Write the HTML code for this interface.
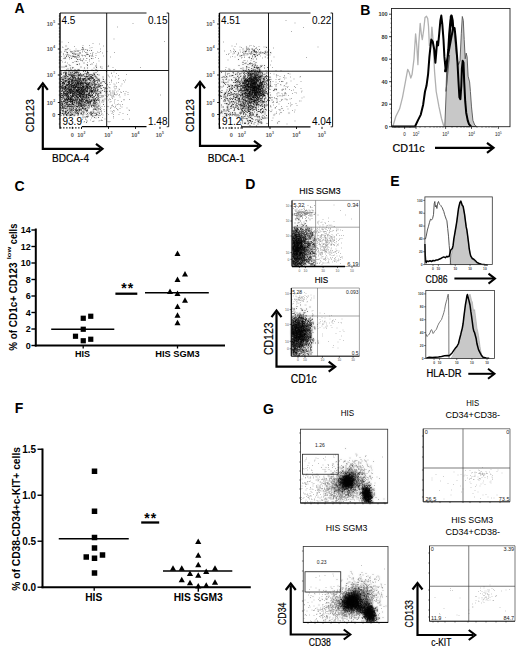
<!DOCTYPE html>
<html><head><meta charset="utf-8"><style>
html,body{margin:0;padding:0;background:#fff;}
svg{display:block;font-family:"Liberation Sans", sans-serif;}
</style></head><body>
<svg width="520" height="650" viewBox="0 0 520 650">
<defs><filter id="f12_42" x="-10%" y="-10%" width="120%" height="120%"><feGaussianBlur in="SourceGraphic" stdDeviation="1.2" result="b"/><feComponentTransfer in="b" result="c"><feFuncA type="linear" slope="0.42"/></feComponentTransfer><feMerge><feMergeNode in="c"/><feMergeNode in="SourceGraphic"/></feMerge></filter><filter id="f12_49" x="-10%" y="-10%" width="120%" height="120%"><feGaussianBlur in="SourceGraphic" stdDeviation="1.2" result="b"/><feComponentTransfer in="b" result="c"><feFuncA type="linear" slope="0.49"/></feComponentTransfer><feMerge><feMergeNode in="c"/><feMergeNode in="SourceGraphic"/></feMerge></filter><filter id="f12_70" x="-10%" y="-10%" width="120%" height="120%"><feGaussianBlur in="SourceGraphic" stdDeviation="1.2" result="b"/><feComponentTransfer in="b" result="c"><feFuncA type="linear" slope="0.7"/></feComponentTransfer><feMerge><feMergeNode in="c"/><feMergeNode in="SourceGraphic"/></feMerge></filter></defs>
<rect width="520" height="650" fill="#fff"/>
<text x="14.5" y="12.6" font-size="14" font-weight="bold">A</text>
<text x="360.3" y="15.4" font-size="14" font-weight="bold">B</text>
<text x="14.5" y="190.5" font-size="14" font-weight="bold">C</text>
<text x="245.3" y="189" font-size="14" font-weight="bold">D</text>
<text x="390.2" y="185.7" font-size="14" font-weight="bold">E</text>
<text x="14.8" y="413" font-size="14" font-weight="bold">F</text>
<text x="263" y="413.5" font-size="14" font-weight="bold">G</text>
<path d="M133 23.5h0m-15.5 3.5h0m-3.5 12h0m50.5 2.5h0m-102.5 .5h0m6.5 .5h0m24.5 1h0m-10 2h0m6.5 0h0m10-1.5h0m-37 3h0m.5 .5h0m11.5-1h0m17.5 1h0m11.5-1.5h0m-35 2.5h0m7.5 .5h0m5.5 .5h0m1-.5h0m1-1h0m0 1h0m2 .5h0m1.5 0h0m3-1.5h0m10.5 1h0m-36 2.5h0m.5-1.5h0m1 0h0m0 1.5h0m4-1.5h0m.5 1.5h0m1.5 0h0m2-.5h0m.5 0h0m1 0h0m0 .5h0m1-.5h0m1 0h0m1 0h0m1.5-.5h0m2.5 .5h0m1.5-1h0m.5 1.5h0m5-1h0m11 1h0m6.5 0h0m-40.5 1h0m1 .5h0m6.5 .5h0m5.5-1h0m1 0h0m2-.5h0m3 .5h0m.5 0h0m1 0h0m3.5 1h0m2.5-1h0m3 1h0m1.5-1.5h0m1.5 .5h0m3.5 .5h0m12-.5h0m-48.5 2h0m.5 1h0m1-1h0m1.5 .5h0m1 .5h0m3 0h0m1-1h0m0-.5h0m1.5 .5h0m1-.5h0m1 1.5h0m0-1.5h0m.5 1h0m.5-1h0m1 1h0m2.5 .5h0m0-.5h0m1 .5h0m1.5 0h0m2-1h0m2 0h0m1 1h0m.5 0h0m2.5 0h0m3.5 0h0m-34.5 1h0m2.5-.5h0m4.5 .5h0m2-.5h0m1.5 0h0m0 1h0m1.5-.5h0m2 0h0m0 .5h0m2.5 0h0m1 .5h0m.5-1h0m3-.5h0m9 0h0m.5 0h0m1 .5h0m2.5 1h0m8-1.5h0m7 1h0m-41 2h0m7-.5h0m1.5 1h0m1.5 0h0m7-1h0m.5 0h0m2.5 1h0m3.5-1h0m5.5 0h0m-23.5 3h0m3 0h0m2.5-1h0m2 .5h0m3.5-.5h0m3.5 .5h0m9.5 0h0m-36.5 1h0m2.5 .5h0m.5-.5h0m2 1h0m20-.5h0m6 0h0m-24.5 2h0m18 0h0m.5 0h0m3 0h0m6-.5h0m-31 2h0m30.5 0h0m6 1h0m6-.5h0m5 1h0m27.5 0h0m-46.5 .5h0m8 .5h0m13.5 1h0m-4 3.5h0m0 .5h0m2.5-1.5h0m2.5 1.5h0m-8.5 1.5h0m10.5 .5h0m8-1h0m-30 2.5h0m12-1h0m1 1h0m3-1h0m3 1h0m-12.5 2h0m15.5 0h0m.5-.5h0m-15.5 3h0m2.5-1.5h0m5.5 0h0m0 .5h0m12 0h0m2-.5h0m-25.5 3.5h0m2-1.5h0m3 0h0m4.5 .5h0m2-.5h0m5 1h0m2-.5h0m6-.5h0m-17 2.5h0m0 .5h0m2.5-.5h0m4-.5h0m1 1h0m7-1h0m-21 2h0m4 1.5h0m3.5-.5h0m1 .5h0m4.5-.5h0m1-.5h0m1.5 0h0m4.5-.5h0m-16.5 3h0m1-1h0m0 .5h0m4.5-.5h0m5 .5h0m1.5-.5h0m2.5 1h0m.5 .5h0m-10 2h0m3-.5h0m1.5 0h0m1-1h0m3 1h0m5.5 .5h0m2.5 0h0m-20.5 1.5h0m5 0h0m.5 0h0m1.5 0h0m1.5-1h0m0 1h0m.5 0h0m2-1h0m4 0h0m1 .5h0m3.5 1h0m3-1h0m-28 3h0m2 0h0m3-.5h0m1 .5h0m1-1.5h0m3 .5h0m1 .5h0m0 .5h0m2-.5h0m1-1h0m.5 0h0m0 .5h0m1.5 .5h0m0-.5h0m1.5-.5h0m1.5 1.5h0m.5-1h0m5.5 .5h0m3-.5h0m32.5 .5h0m-48.5 1.5h0m0 1h0m1-1.5h0m.5 0h0m.5 1h0m6 0h0m-10.5 2h0m1 .5h0m2-1h0m2.5 1h0m9 0h0m5.5 0h0m-65.5 1.5h0m0 .5h0m0-1h0m.5 1h0m.5-1.5h0m1 .5h0m2 1h0m0-1h0m2-.5h0m2.5 1.5h0m0-.5h0m.5 0h0m.5-.5h0m1.5 0h0m5 .5h0m1 .5h0m1-.5h0m4.5-.5h0m.5-.5h0m6.5 1h0m3-.5h0m6 0h0m1.5 .5h0m4.5-1h0m2.5 1.5h0m3.5-.5h0m3.5-.5h0m3.5 1h0m2.5-1.5h0m-62 2h0m2 0h0m4 0h0m4.5 1h0m2 .5h0m.5-1.5h0m2 0h0m0 1h0m.5 .5h0m3-.5h0m1 0h0m6-.5h0m.5 .5h0m8.5-.5h0m7-.5h0m6.5 0h0m4.5 1h0m-52.5 2.5h0m3.5-.5h0m2.5-.5h0m1.5 0h0m3 .5h0m.5-.5h0m2.5 1h0m3-1.5h0m1.5 .5h0m5.5-.5h0m.5 .5h0m0 1h0m4-1h0m.5 0h0m.5 1h0m2 0h0m.5 0h0m.5-1.5h0m.5 0h0m1 .5h0m.5 1h0m.5-1h0m.5 .5h0m2 .5h0m1-1.5h0m12 1.5h0m.5-.5h0m3.5 0h0m1.5-.5h0m1-.5h0m1.5 .5h0m2.5 0h0m-60.5 2h0m1 0h0m.5 1h0m1-.5h0m.5 .5h0m2.5 0h0m1.5-.5h0m8.5 .5h0m.5 0h0m.5-1.5h0m1.5 .5h0m.5 0h0m.5 .5h0m.5-1h0m1.5 1.5h0m.5-1.5h0m8.5 1.5h0m2-1h0m.5 .5h0m2.5 0h0m2-.5h0m1-.5h0m.5 1.5h0m1.5-1h0m2.5 0h0m6.5 1h0m1-1.5h0m1.5 .5h0m1.5 1h0m.5-1h0m5-.5h0m1.5 1h0m-56.5 2h0m6 .5h0m.5-1h0m4.5 1h0m1 0h0m3 0h0m1 0h0m12.5-.5h0m1.5 0h0m2.5-1h0m1 1.5h0m2-1h0m3 1h0m6.5-1h0m6 0h0m1 1h0m2.5-1h0m7-.5h0m-64 2.5h0m.5 .5h0m3.5 0h0m2.5 .5h0m1 0h0m1.5-1.5h0m4 1h0m2.5 0h0m.5 .5h0m6.5-1.5h0m7.5 0h0m.5 1h0m6.5 .5h0m1-.5h0m.5 0h0m3 .5h0m2-1.5h0m4.5 1h0m1.5 .5h0m1-1h0m1 .5h0m3.5-1h0m11 0h0m.5 .5h0m-63.5 1.5h0m.5 0h0m6 1h0m8 .5h0m.5-1h0m.5 1h0m0-.5h0m5-1h0m2.5 .5h0m.5 1h0m2-.5h0m1.5 .5h0m.5-1h0m.5 .5h0m0-1h0m2.5 1.5h0m3 0h0m2-1.5h0m.5 1.5h0m5 0h0m5 0h0m1-1h0m7 0h0m3 1h0m-61.5 2h0m2 0h0m3 0h0m0-1h0m1.5 1h0m4.5-1.5h0m2 1.5h0m4-1h0m2-.5h0m3 0h0m1.5 0h0m1.5 .5h0m10.5 .5h0m1.5 .5h0m.5-1.5h0m2.5 .5h0m1.5 .5h0m5.5-.5h0m5 0h0m5.5 0h0m8.5 0h0m-60.5 1.5h0m.5 0h0m13.5 1.5h0m4-1h0m0 1h0m1 0h0m1.5 0h0m1-1h0m14 1h0m11-1h0m-52.5 3h0m0-1h0m1.5 .5h0m4-1h0m0 1h0m1 .5h0m8 0h0m1.5-1h0m5.5 1h0m.5-1.5h0m2.5 1h0m.5 .5h0m5.5-1.5h0m4.5 0h0m9 1h0m8.5-1h0m9.5 1.5h0m6.5-.5h0m-67 1h0m1 1.5h0m2-.5h0m1-.5h0m3.5 1h0m4-.5h0m.5 0h0m10 .5h0m2-.5h0m1 0h0m3-1h0m2 1.5h0m1 0h0m.5-.5h0m5 0h0m1-.5h0m1.5 0h0m0-.5h0m1 .5h0m5.5 1h0m2 0h0m-36.5 .5h0m8 0h0m2.5 0h0m25 0h0" stroke="#777" stroke-width="0.6" stroke-linecap="square" fill="none"/>
<path d="M66 46h0m16.5 1.5h0m-16.5 2h0m1.5-.5h0m15.5 .5h0m-5 1.5h0m9.5-.5h0m4 0h0m-30.5 1.5h0m6.5 .5h0m3.5-.5h0m1 0h0m.5 1.5h0m1.5-.5h0m6 .5h0m-16.5 .5h0m4.5 1h0m7.5-1h0m3 1.5h0m8.5-1.5h0m.5 .5h0m5-.5h0m-26 2.5h0m3 1h0m3.5-1h0m1 0h0m.5 .5h0m1.5 0h0m1 0h0m8.5-1h0m4 .5h0m-25.5 2h0m1-.5h0m.5 0h0m6 .5h0m6 1h0m3-.5h0m3 0h0m8-.5h0m-30.5 2h0m15.5 1h0m5.5-1h0m-9 2h0m11 .5h0m-14 2.5h0m7-1h0m.5 0h0m2-.5h0m8 1.5h0m4.5-1.5h0m-30 3h0m2 0h0m2-.5h0m.5-.5h0m6.5 1.5h0m8-.5h0m15-1h0m.5 1.5h0m4-.5h0m8-1h0m-40.5 3h0m2.5-1h0m.5 1.5h0m1.5-1.5h0m2.5 1.5h0m3 0h0m1 0h0m5.5-1.5h0m3 0h0m8.5 1.5h0m-29.5 .5h0m2 1h0m1 0h0m1.5 0h0m2 .5h0m2-.5h0m1 0h0m3-.5h0m4.5 1h0m.5-1h0m.5 0h0m1 1h0m2-.5h0m4.5-1h0m1.5 .5h0m3 0h0m1 .5h0m9 .5h0m-45.5 2h0m.5-1.5h0m2 1h0m.5-.5h0m1-.5h0m.5 1h0m0 .5h0m.5-.5h0m0-1h0m0 1h0m.5 0h0m2 0h0m1.5 0h0m.5 0h0m.5-.5h0m1.5 0h0m1.5 1h0m.5 0h0m0-1.5h0m.5 1h0m.5-.5h0m.5 0h0m0 .5h0m.5-1h0m0 1h0m.5-1h0m.5 0h0m.5 1h0m0-.5h0m1-.5h0m1.5 1.5h0m4.5 0h0m1.5 0h0m1-1.5h0m0 .5h0m.5 0h0m0 .5h0m.5 0h0m5.5 0h0m2-.5h0m-35 1.5h0m.5 .5h0m2.5 1h0m1.5-1h0m0 .5h0m.5-1h0m.5 1.5h0m0-.5h0m2-.5h0m.5 .5h0m.5 0h0m.5-.5h0m0 .5h0m.5 0h0m1 .5h0m0-1.5h0m.5 .5h0m1 1h0m0-1.5h0m0 .5h0m.5 1h0m1-.5h0m.5 .5h0m1-.5h0m1.5 0h0m1 .5h0m0-.5h0m0-1h0m.5 1h0m.5-.5h0m0 1h0m.5 0h0m.5-1h0m.5 1h0m.5-.5h0m.5 0h0m1 0h0m.5-.5h0m.5 .5h0m2.5-.5h0m1-.5h0m1 1h0m1 0h0m.5-.5h0m1 0h0m1 0h0m.5 1h0m.5 0h0m.5-1.5h0m1 0h0m0 .5h0m0 .5h0m3-.5h0m1.5 .5h0m-37.5 2.5h0m1.5-1h0m0 1h0m1.5-.5h0m.5-.5h0m0 .5h0m.5-1h0m.5 .5h0m0 1h0m1.5-1h0m.5 .5h0m0-.5h0m2.5 1h0m.5-1.5h0m.5 0h0m.5 0h0m0 .5h0m.5 0h0m0-.5h0m0 1.5h0m.5-1.5h0m0 1.5h0m.5-.5h0m.5 .5h0m0-.5h0m.5-1h0m.5 0h0m0 1.5h0m1.5-1.5h0m1 1h0m1 .5h0m0-.5h0m.5-1h0m1.5 1.5h0m.5-1h0m1-.5h0m1 0h0m1.5 .5h0m1 .5h0m.5-.5h0m.5-.5h0m0 .5h0m.5 .5h0m.5-.5h0m.5 0h0m1-.5h0m1 1h0m.5-.5h0m.5 1h0m0-1.5h0m.5 1h0m0-.5h0m.5 1h0m1 0h0m2-1h0m.5-.5h0m.5 1h0m7 0h0m-42 1h0m0 1h0m1 .5h0m.5-.5h0m.5 .5h0m.5 0h0m.5-1h0m1 .5h0m.5-.5h0m.5 0h0m2 0h0m0 1h0m.5 0h0m.5-1h0m0 1h0m.5-1h0m0 .5h0m.5-1h0m.5 1h0m0 .5h0m1 0h0m.5-.5h0m0-1h0m.5 1.5h0m.5-1h0m.5 0h0m1-.5h0m.5 1.5h0m.5-1.5h0m0 1h0m0-1h0m.5 1h0m.5 0h0m1-.5h0m.5 1h0m.5-1h0m.5 .5h0m0 .5h0m0-1h0m0 .5h0m.5 0h0m.5 .5h0m.5-1h0m0 .5h0m.5-.5h0m1.5 .5h0m.5 .5h0m0-1h0m0 .5h0m.5 .5h0m0-.5h0m.5 0h0m.5 0h0m0-.5h0m.5 .5h0m0-.5h0m.5 .5h0m.5-1h0m1 1.5h0m1-1h0m0 .5h0m0-1h0m.5 1.5h0m0-.5h0m0-.5h0m1 1h0m0-1.5h0m0 .5h0m.5-.5h0m.5 .5h0m1 .5h0m.5-1h0m0 .5h0m.5-.5h0m.5 .5h0m0-.5h0m.5 1h0m.5 .5h0m.5 0h0m1.5-1.5h0m1 0h0m.5 1h0m1 .5h0m.5-.5h0m4.5 .5h0m-43 .5h0m.5 1.5h0m.5 0h0m1-1.5h0m1 1h0m.5 0h0m1-.5h0m.5 1h0m0-.5h0m.5 0h0m0-.5h0m0 1h0m0-1h0m1-.5h0m0 .5h0m1.5 1h0m.5-1h0m0 1h0m.5 0h0m0-.5h0m1.5 0h0m.5-.5h0m0 1h0m.5-1h0m0 .5h0m0 .5h0m.5-1h0m0-.5h0m.5 1h0m0-1h0m.5 1h0m0-1h0m1 1.5h0m0-1h0m.5 0h0m.5 .5h0m0-.5h0m.5-.5h0m.5 .5h0m0 .5h0m.5 0h0m.5 0h0m0-1h0m0 1h0m.5 .5h0m.5-1h0m.5 1h0m.5 0h0m.5-1h0m0 .5h0m0-1h0m0 1h0m.5-1h0m1 1.5h0m.5-1.5h0m0 1h0m0-.5h0m1.5-.5h0m0 .5h0m.5 0h0m1 1h0m.5-1h0m.5-.5h0m0 1h0m0-.5h0m1 0h0m2.5-.5h0m.5 0h0m.5 .5h0m1.5 .5h0m1 .5h0m.5-1h0m.5 0h0m.5 1h0m0-1.5h0m.5 1h0m.5 0h0m1-.5h0m1 .5h0m.5-.5h0m1 .5h0m.5 0h0m0-1h0m3.5 1.5h0m-42 2h0m1.5 0h0m0-1h0m.5-.5h0m0 .5h0m0 .5h0m0-.5h0m.5 .5h0m0-.5h0m1 1h0m0-1.5h0m0 1.5h0m.5-1h0m2-.5h0m1 .5h0m0-.5h0m.5 0h0m0 1h0m0-.5h0m.5-.5h0m0 1.5h0m.5-.5h0m0 .5h0m0-.5h0m0-1h0m.5 0h0m1 0h0m.5 1.5h0m0-1h0m1-.5h0m0 1.5h0m0-.5h0m.5 .5h0m0-.5h0m0-1h0m.5 .5h0m.5 .5h0m.5 0h0m1 .5h0m0-1h0m.5 1h0m0-1h0m0-.5h0m1 0h0m.5 .5h0m0 1h0m0-.5h0m.5-.5h0m0 1h0m0-1h0m0 1h0m.5 0h0m0-1.5h0m0 1h0m.5-.5h0m.5 .5h0m.5 .5h0m.5-.5h0m0-.5h0m0 .5h0m.5 .5h0m0-1.5h0m.5 1h0m0 .5h0m0-.5h0m.5-.5h0m0 .5h0m0-1h0m.5 1h0m0 .5h0m.5-.5h0m.5 .5h0m0-1.5h0m.5 .5h0m1 0h0m0 1h0m0-1h0m.5 1h0m0-1.5h0m.5 1.5h0m0-.5h0m.5 .5h0m.5-.5h0m0-1h0m1 .5h0m.5 1h0m.5 0h0m.5-1h0m0 .5h0m.5 0h0m.5-1h0m1 1h0m.5 .5h0m1-1h0m1 .5h0m0-.5h0m.5-.5h0m.5 1.5h0m2.5-1h0m3.5 1h0m0-1h0m3.5-.5h0m1 1.5h0m-45 1h0m.5 .5h0m1.5-1h0m0 1.5h0m.5 0h0m0-.5h0m.5-1h0m.5 0h0m.5 0h0m1.5 .5h0m0 1h0m.5-.5h0m0-1h0m.5 1.5h0m0-.5h0m.5-.5h0m0 1h0m.5-1h0m.5-.5h0m0 1h0m0-.5h0m.5-.5h0m0 .5h0m.5 1h0m.5-1h0m0 1h0m.5-.5h0m0-.5h0m.5 .5h0m.5-.5h0m0 1h0m0-1.5h0m.5 0h0m.5 1h0m0 .5h0m.5 0h0m.5-.5h0m0 .5h0m.5-.5h0m.5 0h0m0-.5h0m0 .5h0m.5-.5h0m0 1h0m.5-.5h0m.5 0h0m.5 0h0m0-1h0m0 .5h0m.5 1h0m0-1.5h0m0 1h0m0 .5h0m0-1.5h0m0 1h0m.5-1h0m1 .5h0m0 .5h0m0-1h0m.5 1.5h0m0-1.5h0m0 1.5h0m1-1h0m0-.5h0m.5 0h0m0 .5h0m0 1h0m.5-1.5h0m0 1h0m.5 .5h0m.5-.5h0m0-1h0m1 0h0m0 .5h0m0 1h0m.5-.5h0m.5-1h0m2 1.5h0m0-.5h0m.5-.5h0m.5-.5h0m0 .5h0m0 1h0m.5-1h0m0-.5h0m.5 .5h0m.5-.5h0m0 .5h0m0 1h0m.5-.5h0m0-.5h0m1-.5h0m1 1h0m1 .5h0m0-1h0m.5 .5h0m.5-.5h0m1-.5h0m.5 0h0m0 1h0m.5 .5h0m.5-.5h0m0-.5h0m1 0h0m.5-.5h0m1 1h0m.5-1h0m.5 1h0m.5 0h0m1 .5h0m.5 0h0m1.5 0h0m-42 1h0m.5 0h0m.5 1h0m.5-.5h0m0-1h0m0 .5h0m.5 1h0m.5-.5h0m.5 0h0m.5 .5h0m.5-1h0m.5 .5h0m.5-.5h0m0 1h0m0-.5h0m0 .5h0m0-.5h0m0-.5h0m.5-.5h0m0 1h0m.5 .5h0m.5-1.5h0m1 1.5h0m0-1.5h0m.5 .5h0m.5 1h0m.5 0h0m0-1h0m.5 0h0m.5 .5h0m.5 0h0m.5-.5h0m0 .5h0m0-1h0m.5 0h0m0 .5h0m.5 1h0m.5-1.5h0m0 1.5h0m0-1.5h0m.5 .5h0m0 1h0m0-.5h0m.5 .5h0m0-1.5h0m.5 1.5h0m0-1.5h0m0 1.5h0m.5-1.5h0m.5 1h0m0 .5h0m0-.5h0m0-.5h0m.5 0h0m0 .5h0m0 .5h0m.5-1h0m0 .5h0m.5 0h0m0-.5h0m.5 .5h0m0 .5h0m.5 0h0m.5 0h0m0-.5h0m0 .5h0m0-.5h0m.5 0h0m.5 0h0m0 .5h0m.5-.5h0m.5-.5h0m0 1h0m.5 0h0m.5 0h0m.5-.5h0m.5-.5h0m0 .5h0m0-.5h0m0 .5h0m.5-1h0m0 1h0m.5-.5h0m0 1h0m0-1h0m0 .5h0m.5 0h0m.5-1h0m.5 1.5h0m0-1h0m1-.5h0m0 1.5h0m0-1.5h0m.5 .5h0m0 1h0m0-1h0m.5 .5h0m.5 0h0m0-1h0m0 .5h0m0 1h0m.5-.5h0m0-1h0m0 1h0m1 .5h0m.5-.5h0m0-.5h0m.5-.5h0m0 .5h0m0-.5h0m.5 .5h0m0 1h0m.5-.5h0m.5 .5h0m1.5 0h0m.5 0h0m.5-1h0m.5-.5h0m0 1.5h0m1.5-1h0m.5 1h0m1-.5h0m.5 .5h0m0-1h0m.5-.5h0m.5 1h0m.5-.5h0m.5 0h0m3.5 1h0m-42.5 1h0m0 .5h0m0-1h0m1.5 .5h0m.5 .5h0m0-.5h0m0-.5h0m1 0h0m0 1h0m.5 .5h0m0-1h0m1-.5h0m0 .5h0m0 .5h0m0-1h0m1 1h0m0 .5h0m.5-1h0m.5 0h0m0 1h0m.5-1.5h0m.5 0h0m0 .5h0m0 1h0m.5 0h0m.5-.5h0m0 .5h0m.5-1h0m0 1h0m.5 0h0m.5-1h0m0-.5h0m0 1.5h0m0-.5h0m.5 .5h0m0-1.5h0m.5 0h0m0 1.5h0m1-.5h0m.5 0h0m0 .5h0m0-1.5h0m.5 1h0m.5 .5h0m0-1h0m.5 1h0m0-1h0m.5-.5h0m0 1h0m1 .5h0m1-1.5h0m0 1h0m.5 .5h0m0-1h0m.5 .5h0m.5-1h0m0 1.5h0m0-1h0m0 1h0m.5 0h0m0-.5h0m.5 0h0m.5-.5h0m.5-.5h0m0 1.5h0m.5 0h0m0-1.5h0m0 1.5h0m.5-1h0m0-.5h0m0 .5h0m0 .5h0m0 .5h0m.5-.5h0m.5-1h0m0 1h0m.5-1h0m0 1.5h0m.5-1.5h0m0 1.5h0m.5 0h0m.5-.5h0m0-.5h0m0 .5h0m.5-.5h0m0 .5h0m.5 0h0m0-1h0m1 0h0m0 .5h0m.5 .5h0m0-1h0m0 1.5h0m.5-1h0m.5-.5h0m.5 .5h0m.5 0h0m1 .5h0m.5 .5h0m.5-1h0m0-.5h0m0 1h0m.5-.5h0m1.5 .5h0m0 .5h0m.5-1.5h0m.5 0h0m.5 1.5h0m.5-1.5h0m0 1h0m.5-.5h0m1.5 .5h0m.5 .5h0m2.5-1.5h0m1 .5h0m3.5-.5h0m2 .5h0m-45.5 3h0m.5-.5h0m0-.5h0m.5-.5h0m0 1h0m.5-1h0m1 1.5h0m.5-1.5h0m.5 1.5h0m.5-.5h0m0-1h0m.5 .5h0m0 .5h0m0-.5h0m1 1h0m.5-.5h0m0 .5h0m.5 0h0m.5-1h0m.5 .5h0m.5-.5h0m0-.5h0m0 1h0m.5 0h0m0-1h0m0 1.5h0m0-.5h0m.5 0h0m0-1h0m.5 0h0m0 1h0m.5 .5h0m0-1h0m0-.5h0m.5 1.5h0m.5-1h0m.5 1h0m0-1h0m0 1h0m0-1h0m0 1h0m.5 0h0m.5 0h0m0-.5h0m.5 0h0m.5-.5h0m.5 .5h0m.5 .5h0m0-.5h0m.5-1h0m0 .5h0m0-.5h0m0 .5h0m0 1h0m0-1h0m.5 0h0m0 .5h0m0-1h0m0 .5h0m.5 .5h0m0-.5h0m0 .5h0m0 .5h0m.5-.5h0m0 .5h0m0-1.5h0m.5 0h0m0 1h0m0-1h0m0 .5h0m1 1h0m0-.5h0m.5 .5h0m0-1.5h0m0 1h0m.5-.5h0m.5 .5h0m0-.5h0m.5 .5h0m0 .5h0m0-1.5h0m.5 0h0m0 .5h0m.5 .5h0m0 .5h0m0-.5h0m.5 .5h0m0-1h0m.5 1h0m0-.5h0m0-.5h0m.5 0h0m0-.5h0m.5 1h0m.5-1h0m0 1.5h0m.5-1.5h0m0 1h0m.5-.5h0m.5 .5h0m0 .5h0m.5-1h0m0 1h0m0-1.5h0m0 1.5h0m.5-.5h0m0 .5h0m.5-1.5h0m1.5 0h0m.5 0h0m0 1.5h0m0-1h0m.5 .5h0m.5 0h0m0 .5h0m.5-.5h0m0 .5h0m0-1h0m.5 0h0m0 .5h0m0 .5h0m.5-1h0m0 .5h0m0 .5h0m1-.5h0m.5-.5h0m1 .5h0m0-1h0m0 1h0m0 .5h0m.5-1h0m1.5 1h0m0-1h0m.5 0h0m.5-.5h0m1 1.5h0m2-.5h0m1.5-.5h0m2 1h0m.5-1.5h0m1 1.5h0m1 0h0m3-.5h0m-49 2.5h0m.5 0h0m.5 0h0m1.5-1.5h0m0 1.5h0m0-1h0m.5-.5h0m0 1h0m0-1h0m.5 1.5h0m.5 0h0m0-1.5h0m.5 1.5h0m1-1.5h0m0 1h0m0 .5h0m.5-.5h0m.5 .5h0m0-1.5h0m.5 1h0m0-1h0m0 1.5h0m.5-1h0m.5 .5h0m0-.5h0m.5-.5h0m.5 .5h0m.5 1h0m0-1.5h0m0 1h0m0-1h0m0 1.5h0m0-1h0m.5 1h0m.5-1h0m.5 .5h0m0-.5h0m.5-.5h0m0 1.5h0m.5-1h0m0 1h0m.5 0h0m.5-1.5h0m0 1.5h0m0-.5h0m.5 0h0m0-.5h0m.5 .5h0m.5 0h0m0-1h0m0 1h0m1 0h0m0 .5h0m.5-.5h0m0-.5h0m.5-.5h0m.5 .5h0m0-.5h0m.5 1h0m0-1h0m.5 .5h0m0 .5h0m.5-.5h0m0 1h0m0-.5h0m.5 0h0m0 .5h0m0-1.5h0m0 1h0m.5-1h0m0 1.5h0m.5 0h0m0-1.5h0m0 .5h0m0 .5h0m.5 .5h0m0-.5h0m0 .5h0m.5-.5h0m.5-1h0m0 .5h0m.5 .5h0m0-.5h0m.5 1h0m.5-1.5h0m0 .5h0m.5-.5h0m0 1.5h0m0-.5h0m.5 0h0m0-.5h0m1.5-.5h0m1 0h0m1 1.5h0m.5-1.5h0m0 1.5h0m0-.5h0m.5 0h0m0-1h0m0 1.5h0m.5-1h0m1.5-.5h0m0 1h0m.5-.5h0m.5-.5h0m1 1h0m0 .5h0m.5-1.5h0m.5 0h0m1 1h0m.5 0h0m.5 .5h0m.5-1.5h0m1.5 1.5h0m1.5 0h0m0-1.5h0m.5 .5h0m.5 .5h0m5.5-1h0m-45.5 2.5h0m.5 1h0m1 0h0m0-.5h0m.5 .5h0m.5-1h0m.5-.5h0m0 1.5h0m.5-.5h0m.5 .5h0m0-1.5h0m.5 0h0m0 .5h0m.5 1h0m.5-1h0m0 .5h0m0 .5h0m.5-1.5h0m.5 .5h0m0 .5h0m.5 .5h0m0-1h0m0-.5h0m.5 1.5h0m1-1.5h0m.5 0h0m.5 1.5h0m.5 0h0m1.5 0h0m0-1h0m0 1h0m.5-.5h0m0-1h0m0 .5h0m0-.5h0m1 1h0m0 .5h0m.5-1.5h0m0 1h0m.5-.5h0m.5 .5h0m0 .5h0m1-1h0m0 1h0m.5-.5h0m.5-1h0m0 .5h0m.5 0h0m0 .5h0m.5-.5h0m0 .5h0m.5 0h0m0-1h0m.5 0h0m0 1.5h0m.5-1.5h0m0 1.5h0m0-1.5h0m0 1h0m.5-.5h0m0 1h0m.5-.5h0m.5-1h0m0 1h0m.5-.5h0m0-.5h0m.5 .5h0m0 1h0m0-1h0m.5-.5h0m0 .5h0m.5 .5h0m0-.5h0m.5 0h0m0 1h0m.5-1.5h0m.5 .5h0m0 .5h0m1 .5h0m0-1h0m.5-.5h0m0 1.5h0m0-1h0m.5 .5h0m.5-.5h0m.5-.5h0m.5 .5h0m0 .5h0m0 .5h0m.5 0h0m.5 0h0m0-1h0m0 1h0m.5 0h0m.5-.5h0m1-1h0m0 1.5h0m.5 0h0m.5-.5h0m0-.5h0m0 1h0m3 0h0m0-.5h0m.5-1h0m1.5 0h0m.5 .5h0m0 1h0m0-.5h0m10.5 0h0m-48 1h0m0 .5h0m.5 1h0m.5 0h0m.5-1.5h0m0 1.5h0m1 0h0m0-.5h0m.5-.5h0m.5 .5h0m1.5-1h0m1 0h0m.5 0h0m0 .5h0m.5 1h0m0-.5h0m.5-1h0m0 .5h0m.5 0h0m0 .5h0m.5 0h0m.5 0h0m1-1h0m.5 1.5h0m0-.5h0m.5-.5h0m0 .5h0m.5-1h0m0 1.5h0m.5-1h0m0 .5h0m0-1h0m.5 0h0m.5 0h0m0 .5h0m0-.5h0m1 1.5h0m0-.5h0m1 0h0m.5-1h0m.5 .5h0m0 .5h0m.5-1h0m0 1h0m0-.5h0m.5 1h0m.5-.5h0m0 .5h0m0-.5h0m.5 .5h0m1-1h0m0-.5h0m0 .5h0m.5 0h0m.5 0h0m0 1h0m0-1.5h0m.5 1h0m0 .5h0m0-1.5h0m0 1h0m1-.5h0m.5 1h0m.5-1h0m0-.5h0m0 .5h0m0 .5h0m.5-.5h0m.5 1h0m0-.5h0m0 .5h0m0-.5h0m.5-1h0m1 1h0m.5 .5h0m0-1.5h0m.5 1.5h0m0-1.5h0m0 .5h0m.5 0h0m0-.5h0m1.5 1h0m0 .5h0m.5 0h0m1-1.5h0m.5 0h0m0 1h0m0-.5h0m.5 0h0m1 1h0m.5 0h0m.5-.5h0m.5 0h0m.5 0h0m.5-.5h0m2 1h0m1-1.5h0m.5 1.5h0m.5-1h0m1.5 1h0m2-.5h0m0-1h0m1.5 0h0m3.5 .5h0m-45 2.5h0m.5 0h0m1.5-1h0m0 .5h0m.5 .5h0m0 .5h0m1 0h0m.5 0h0m0-.5h0m0-1h0m.5 .5h0m0 1h0m0-1.5h0m.5 1.5h0m.5 0h0m0-.5h0m.5-1h0m.5 .5h0m0-.5h0m0 1h0m0-.5h0m0 1h0m0-1h0m.5-.5h0m0 1h0m.5 .5h0m.5 0h0m0-1h0m.5-.5h0m0 1.5h0m0-1h0m0-.5h0m.5 .5h0m0 .5h0m0-1h0m0 1.5h0m.5 0h0m.5 0h0m0-.5h0m0-.5h0m.5 .5h0m1 .5h0m.5-1h0m1 1h0m.5-1.5h0m0 1h0m.5 .5h0m0-.5h0m1-1h0m0 1h0m.5 .5h0m.5-1.5h0m0 .5h0m1 .5h0m.5 .5h0m0-.5h0m.5 .5h0m1-1.5h0m.5 1h0m0-.5h0m.5 1h0m.5 0h0m0-1h0m0 1h0m0-.5h0m1.5 .5h0m0-1h0m0 .5h0m.5 .5h0m1-1.5h0m.5 .5h0m.5-.5h0m1 0h0m.5 0h0m.5 0h0m.5 1.5h0m.5-.5h0m3.5 0h0m1 .5h0m0-1h0m1.5 0h0m0 .5h0m.5 .5h0m1.5 0h0m.5-1h0m.5 .5h0m6.5 0h0m-43.5 2.5h0m0-1.5h0m.5 1.5h0m1.5 0h0m.5 0h0m0-1h0m1 .5h0m0 .5h0m.5-1h0m1.5 0h0m.5-.5h0m0 .5h0m.5 1h0m1 0h0m0-1.5h0m.5 1.5h0m.5-.5h0m0 .5h0m.5-1.5h0m0 1.5h0m0-1h0m.5-.5h0m0 1.5h0m.5 0h0m.5-.5h0m0-1h0m0 1.5h0m0-1.5h0m.5 1h0m0 .5h0m0-.5h0m.5-1h0m.5 0h0m.5 .5h0m.5 0h0m.5-.5h0m.5 1h0m.5-.5h0m.5-.5h0m0 1.5h0m.5-1h0m.5-.5h0m1.5 1.5h0m0-1.5h0m.5 .5h0m.5-.5h0m0 .5h0m.5 0h0m.5-.5h0m0 1h0m.5 0h0m0-1h0m0 1.5h0m.5-1.5h0m0 .5h0m1 .5h0m0 .5h0m.5-.5h0m0-1h0m2 0h0m0 .5h0m0 1h0m1-.5h0m0-1h0m0 .5h0m.5-.5h0m0 1.5h0m0-1.5h0m.5 .5h0m.5 0h0m0 1h0m1 0h0m0-.5h0m.5-1h0m.5 1.5h0m.5 0h0m0-.5h0m.5-1h0m.5 1.5h0m0-1.5h0m0 .5h0m.5 .5h0m0-1h0m1 0h0m1 .5h0m0 .5h0m0-1h0m.5 1.5h0m0-1h0m0-.5h0m.5 1.5h0m0-1h0m1.5 0h0m.5 0h0m1.5 0h0m1-.5h0m3.5 0h0m-41.5 3.5h0m.5-1h0m0-.5h0m.5 1.5h0m1.5-.5h0m.5 .5h0m1-1h0m.5 1h0m0-1h0m.5-.5h0m0 1h0m.5-.5h0m.5 0h0m0 .5h0m.5 0h0m2.5-.5h0m.5-.5h0m1 0h0m0 1h0m.5-1h0m0 1.5h0m0-.5h0m0 .5h0m.5-1h0m1-.5h0m.5 0h0m0 .5h0m1.5 .5h0m.5 0h0m.5-.5h0m0-.5h0m1 0h0m.5 1.5h0m0-1.5h0m.5 .5h0m0-.5h0m.5 1h0m0-1h0m0 1h0m.5 .5h0m.5-1.5h0m0 1.5h0m1-.5h0m.5 0h0m.5-1h0m.5 0h0m1 1h0m.5-.5h0m0-.5h0m.5 1h0m.5-.5h0m1 1h0m.5-1.5h0m.5 0h0m.5 1.5h0m0-1h0m0 .5h0m.5 0h0m.5-1h0m0 .5h0m1 0h0m0 1h0m0-1.5h0m.5 1h0m0-1h0m0 1h0m3-.5h0m.5 1h0m0-.5h0m1-.5h0m0 .5h0m.5 .5h0m.5-1.5h0m1 1h0m2.5-1h0m2.5 0h0m-41 2.5h0m.5 1h0m.5-.5h0m.5-.5h0m0-.5h0m.5 .5h0m1 1h0m1-.5h0m1.5-.5h0m0-.5h0m1 .5h0m.5 .5h0m.5 0h0m.5 0h0m.5-.5h0m0-.5h0m.5 1h0m.5-.5h0m1-.5h0m.5 .5h0m1-.5h0m0 .5h0m0-.5h0m.5 .5h0m.5 0h0m2-.5h0m.5 0h0m1.5 .5h0m.5-.5h0m0 1.5h0m.5-.5h0m.5-1h0m.5 1.5h0m.5-1.5h0m.5 1.5h0m0-.5h0m0-1h0m0 1h0m.5-.5h0m.5 1h0m.5-1.5h0m.5 1h0m.5 0h0m0-1h0m.5 1.5h0m.5-1h0m.5 .5h0m1 .5h0m1-.5h0m1.5 .5h0m.5-1.5h0m0 1h0m3 .5h0m0-.5h0m1-1h0m1 1.5h0m0-1.5h0m4 0h0m5.5 .5h0m-43 3h0m2 0h0m0-1h0m0-.5h0m1.5 .5h0m0 1h0m1-1.5h0m1 0h0m0 .5h0m1.5-.5h0m0 .5h0m.5 0h0m.5-.5h0m.5 .5h0m.5 0h0m1 0h0m.5 0h0m0-.5h0m.5 1h0m0-1h0m1 .5h0m.5 0h0m0 1h0m.5-1.5h0m1 0h0m.5 0h0m0 1h0m1.5-1h0m0 .5h0m.5 0h0m.5 0h0m.5 0h0m0-.5h0m1.5 0h0m0 1.5h0m1.5-1h0m.5-.5h0m0 .5h0m1-.5h0m0 1.5h0m.5-1.5h0m1.5 .5h0m.5-.5h0m1 1h0m1.5 0h0m1.5 0h0m.5-1h0m2 .5h0m0-.5h0m2 0h0m1 0h0m1 0h0m1.5 .5h0m0 1h0m1.5-1.5h0m9.5 .5h0m-46.5 2.5h0m0-1h0m1 0h0m.5 0h0m0 .5h0m1 0h0m1 0h0m.5 0h0m1-.5h0m.5 .5h0m2 .5h0m.5 0h0m0-1h0m1 1h0m.5-1h0m1 1.5h0m0-.5h0m1.5-.5h0m0-.5h0m1.5 1.5h0m1-.5h0m0-1h0m.5 .5h0m2 .5h0m1 0h0m0 .5h0m1-.5h0m1.5-.5h0m.5 0h0m.5 0h0m0-.5h0m1 1.5h0m0-1.5h0m0 .5h0m1 1h0m.5-1h0m0 .5h0m.5-.5h0m2-.5h0m1 0h0m5 1.5h0m0-.5h0m1-1h0m.5 1.5h0m.5-.5h0m2 0h0m1-.5h0m1.5 1h0m-39.5 1h0m1.5 0h0m.5 .5h0m0 .5h0m.5-1.5h0m1.5 1.5h0m.5-.5h0m.5 .5h0m1-1.5h0m.5 .5h0m.5-.5h0m2 .5h0m1-.5h0m0 .5h0m1 0h0m0 1h0m1.5-1h0m0-.5h0m1.5 1.5h0m.5-1.5h0m.5 .5h0m0-.5h0m.5 1h0m.5 0h0m0-.5h0m.5 0h0m1.5-.5h0m.5 0h0m0 .5h0m1.5 0h0m.5-.5h0m1.5 1.5h0m1-.5h0m2-.5h0m.5 .5h0m.5-1h0m0 .5h0m.5 .5h0m0-1h0m9 0h0m1.5 1h0m-37.5 1.5h0m0 .5h0m1.5 .5h0m.5 0h0m.5-.5h0m0 .5h0m2-.5h0m.5 0h0m0-1h0m0 1h0m.5 0h0m0-1h0m1.5 1.5h0m.5-.5h0m.5 0h0m0-.5h0m.5-.5h0m1.5 .5h0m1 .5h0m2.5-.5h0m1.5 0h0m.5 1h0m.5-1.5h0m.5 1.5h0m.5-1h0m.5 .5h0m0 .5h0m.5 0h0m.5-1.5h0m2.5 1.5h0m.5-1.5h0m1.5 1h0m.5-.5h0m3.5 1h0m3-.5h0m.5-1h0m0 1h0m0-1h0m1.5 1.5h0m.5-1.5h0m2 1.5h0m1-.5h0m2-.5h0m1.5 .5h0m-36 1.5h0m1-.5h0m1.5 .5h0m.5 1h0m0-1h0m.5 0h0m2-.5h0m1 1h0m.5 .5h0m0-.5h0m.5-1h0m0 1.5h0m.5-.5h0m.5-.5h0m.5 0h0m.5 .5h0m1-1h0m1 1h0m2.5 0h0m1 0h0m3.5-.5h0m1 .5h0m5 0h0m3 0h0m0-.5h0m.5-.5h0m0 1h0m3.5 .5h0m1 0h0m.5-1h0m.5 0h0m3 1h0m-36 .5h0m3 1.5h0m2.5-1.5h0m4.5 0h0m9 1h0m3.5-.5h0m1 0h0m5-.5h0m.5 0h0m1.5 1.5h0m4 0h0m-36 1.5h0m2.5-.5h0m.5 .5h0m.5-1h0m-.5 3.5h0m3-1.5h0m-7.5 2.5h0m3.5-.5h0m22 .5h0m-22.5 3h0m1-1h0" stroke="#000" stroke-width="0.55" stroke-linecap="square" fill="none" filter="url(#f12_42)"/>
<line x1="60" y1="13" x2="146.5" y2="13" stroke="#000" stroke-width="0.9"/>
<line x1="106.7" y1="13" x2="106.7" y2="126.7" stroke="#000" stroke-width="0.9"/>
<line x1="60" y1="70.5" x2="168.7" y2="70.5" stroke="#000" stroke-width="0.9"/>
<line x1="168.7" y1="13" x2="168.7" y2="126.7" stroke="#000" stroke-width="0.9"/>
<line x1="166.7" y1="13" x2="168.7" y2="13" stroke="#000" stroke-width="0.9"/>
<line x1="166.7" y1="126.7" x2="168.7" y2="126.7" stroke="#000" stroke-width="0.9"/>
<line x1="82" y1="126.7" x2="146.5" y2="126.7" stroke="#000" stroke-width="1.2"/>
<line x1="60" y1="13" x2="60" y2="128.7" stroke="#000" stroke-width="1.4"/>
<line x1="60" y1="127.9" x2="82" y2="127.9" stroke="#000" stroke-width="1.0" stroke-dasharray="1.6 1.4"/>
<line x1="57.8" y1="24" x2="60" y2="24" stroke="#000" stroke-width="0.9"/>
<line x1="57.8" y1="49" x2="60" y2="49" stroke="#000" stroke-width="0.9"/>
<line x1="57.8" y1="75" x2="60" y2="75" stroke="#000" stroke-width="0.9"/>
<line x1="57.8" y1="102.5" x2="60" y2="102.5" stroke="#000" stroke-width="0.9"/>
<line x1="57.8" y1="114.5" x2="60" y2="114.5" stroke="#000" stroke-width="0.9"/>
<line x1="58.8" y1="16" x2="60" y2="16" stroke="#000" stroke-width="0.6"/>
<line x1="58.8" y1="19" x2="60" y2="19" stroke="#000" stroke-width="0.6"/>
<line x1="58.8" y1="21" x2="60" y2="21" stroke="#000" stroke-width="0.6"/>
<line x1="58.8" y1="28" x2="60" y2="28" stroke="#000" stroke-width="0.6"/>
<line x1="58.8" y1="31" x2="60" y2="31" stroke="#000" stroke-width="0.6"/>
<line x1="58.8" y1="34" x2="60" y2="34" stroke="#000" stroke-width="0.6"/>
<line x1="58.8" y1="37" x2="60" y2="37" stroke="#000" stroke-width="0.6"/>
<line x1="58.8" y1="41" x2="60" y2="41" stroke="#000" stroke-width="0.6"/>
<line x1="58.8" y1="44" x2="60" y2="44" stroke="#000" stroke-width="0.6"/>
<line x1="58.8" y1="53" x2="60" y2="53" stroke="#000" stroke-width="0.6"/>
<line x1="58.8" y1="57" x2="60" y2="57" stroke="#000" stroke-width="0.6"/>
<line x1="58.8" y1="60" x2="60" y2="60" stroke="#000" stroke-width="0.6"/>
<line x1="58.8" y1="63" x2="60" y2="63" stroke="#000" stroke-width="0.6"/>
<line x1="58.8" y1="67" x2="60" y2="67" stroke="#000" stroke-width="0.6"/>
<line x1="58.8" y1="79" x2="60" y2="79" stroke="#000" stroke-width="0.6"/>
<line x1="58.8" y1="83" x2="60" y2="83" stroke="#000" stroke-width="0.6"/>
<line x1="58.8" y1="87" x2="60" y2="87" stroke="#000" stroke-width="0.6"/>
<line x1="58.8" y1="91" x2="60" y2="91" stroke="#000" stroke-width="0.6"/>
<line x1="58.8" y1="95" x2="60" y2="95" stroke="#000" stroke-width="0.6"/>
<line x1="58.8" y1="119" x2="60" y2="119" stroke="#000" stroke-width="0.6"/>
<line x1="58.8" y1="124" x2="60" y2="124" stroke="#000" stroke-width="0.6"/>
<line x1="72.3" y1="126.7" x2="72.3" y2="128.9" stroke="#000" stroke-width="0.9"/>
<line x1="81.5" y1="126.7" x2="81.5" y2="128.9" stroke="#000" stroke-width="0.9"/>
<line x1="108.5" y1="126.7" x2="108.5" y2="128.9" stroke="#000" stroke-width="0.9"/>
<line x1="135.5" y1="126.7" x2="135.5" y2="128.9" stroke="#000" stroke-width="0.9"/>
<line x1="160" y1="126.7" x2="160" y2="128.9" stroke="#000" stroke-width="0.9"/>
<text x="46.8" y="26.2" font-size="5.5" font-weight="bold" fill="#555">10</text>
<text x="53.3" y="23.4" font-size="3.4" font-weight="bold" fill="#555">5</text>
<text x="46.8" y="51.2" font-size="5.5" font-weight="bold" fill="#555">10</text>
<text x="53.3" y="48.4" font-size="3.4" font-weight="bold" fill="#555">4</text>
<text x="46.8" y="77.2" font-size="5.5" font-weight="bold" fill="#555">10</text>
<text x="53.3" y="74.4" font-size="3.4" font-weight="bold" fill="#555">3</text>
<text x="46.8" y="104.7" font-size="5.5" font-weight="bold" fill="#555">10</text>
<text x="53.3" y="101.9" font-size="3.4" font-weight="bold" fill="#555">2</text>
<text x="52.2" y="116.8" font-size="5.5" font-weight="bold" fill="#555">0</text>
<text x="72.3" y="137.3" font-size="5.5" font-weight="bold" text-anchor="middle" fill="#555">0</text>
<text x="80.3" y="137.3" font-size="5.5" font-weight="bold" text-anchor="middle" fill="#555">10</text>
<text x="83.5" y="134.3" font-size="3.4" font-weight="bold" fill="#555">2</text>
<text x="107.3" y="137.3" font-size="5.5" font-weight="bold" text-anchor="middle" fill="#555">10</text>
<text x="110.5" y="134.3" font-size="3.4" font-weight="bold" fill="#555">3</text>
<text x="134.3" y="137.3" font-size="5.5" font-weight="bold" text-anchor="middle" fill="#555">10</text>
<text x="137.5" y="134.3" font-size="3.4" font-weight="bold" fill="#555">4</text>
<text x="158.8" y="137.3" font-size="5.5" font-weight="bold" text-anchor="middle" fill="#555">10</text>
<text x="162" y="134.3" font-size="3.4" font-weight="bold" fill="#555">5</text>
<text x="61.5" y="24.3" font-size="10">4.5</text>
<rect x="147.0" y="14" width="20.69999999999999" height="10.5" fill="#fff"/>
<text x="167.5" y="24.3" font-size="10" text-anchor="end">0.15</text>
<rect x="60.8" y="116.5" width="20.7" height="9.8" fill="#fff"/>
<text x="62.5" y="125.4" font-size="10">93.9</text>
<rect x="147.0" y="116.5" width="20.69999999999999" height="9.8" fill="#fff"/>
<text x="167.5" y="125.4" font-size="10" text-anchor="end">1.48</text>
<text transform="translate(34.2,132.2) rotate(-90)" font-size="11.3" textLength="33" lengthAdjust="spacingAndGlyphs" stroke="#000" stroke-width="0.2">CD123</text>
<path d="M42.8,85.4 L42.8,148.8 L100.5,148.8" fill="none" stroke="#000" stroke-width="2.2" stroke-linejoin="miter"/>
<path d="M37.8,89.9 L42.8,83.4 L47.8,89.9" fill="none" stroke="#000" stroke-width="2.2" stroke-linejoin="miter" stroke-linecap="butt"/>
<path d="M96.0,143.8 L102.5,148.8 L96.0,153.8" fill="none" stroke="#000" stroke-width="2.2" stroke-linejoin="miter" stroke-linecap="butt"/>
<text x="52" y="161.5" font-size="10" textLength="37" lengthAdjust="spacingAndGlyphs" stroke="#000" stroke-width="0.2">BDCA-4</text>
<path d="M286 20.5h0m9 2.5h0m8.5 4.5h0m-12 4h0m-68 10.5h0m13 2h0m14.5 1.5h0m-19 .5h0m3 .5h0m5 .5h0m1.5 .5h0m8-1.5h0m4 0h0m1 .5h0m4.5 0h0m5 .5h0m2 0h0m2.5 0h0m49.5 0h0m-84.5 2h0m13-.5h0m1.5-.5h0m1.5 1.5h0m2-.5h0m2.5 .5h0m1.5-1h0m2 1h0m16-1.5h0m-49 3h0m6-.5h0m3 1h0m1-1.5h0m5.5 0h0m3 1h0m1 .5h0m1-.5h0m1.5 0h0m0-.5h0m5.5 1h0m.5-1.5h0m1.5 1.5h0m1 0h0m3.5-.5h0m7.5 0h0m3-1h0m-40 3.5h0m2-1.5h0m3 1h0m.5 0h0m6-1h0m2 .5h0m.5 0h0m.5 1h0m1.5 0h0m0-.5h0m.5 0h0m1.5 .5h0m1 0h0m1-1.5h0m.5 1.5h0m2-1.5h0m.5 1.5h0m1-.5h0m1-1h0m2 .5h0m.5 .5h0m2.5 0h0m1.5-1h0m0 1.5h0m.5-1.5h0m.5 1h0m1-.5h0m.5 0h0m3 0h0m1 .5h0m4 0h0m-44.5 1.5h0m2 0h0m4.5-.5h0m5.5 0h0m1.5 1.5h0m3-.5h0m0 .5h0m1-1h0m0-.5h0m1 1h0m2 0h0m0-1h0m1 .5h0m3.5-.5h0m2 .5h0m2 0h0m.5 1h0m.5-1.5h0m1 1h0m2-1h0m6 0h0m1.5 1h0m3 0h0m-39.5 2h0m2-.5h0m2.5 .5h0m5-.5h0m1-.5h0m1 1.5h0m2.5 0h0m0-1.5h0m5 1h0m3 0h0m2.5-.5h0m0 1h0m5.5-1.5h0m4.5 1h0m.5 0h0m2.5 .5h0m6-.5h0m32.5 .5h0m-65 .5h0m8 0h0m2.5 1h0m1.5 0h0m9-1h0m5.5 .5h0m-40 1.5h0m16 .5h0m1 0h0m2.5 .5h0m3.5-.5h0m20.5 .5h0m-28.5 1h0m8 1.5h0m6.5 2h0m13-.5h0m-44.5 2.5h0m30.5-1.5h0m16 1.5h0m-47 2h0m40.5 1h0m10 0h0m5 0h0m-10.5 3h0m17.5 0h0m.5 0h0m-14.5 .5h0m4 1.5h0m6.5 0h0m5.5-1.5h0m-28 2h0m8 .5h0m6.5 .5h0m3.5-.5h0m3.5 1h0m1-.5h0m6 0h0m9.5 0h0m.5-.5h0m-36 1.5h0m6.5 1.5h0m5 0h0m2.5 0h0m1 0h0m.5-.5h0m4.5 0h0m1.5-1h0m8 1h0m-21 2.5h0m6.5 0h0m2 0h0m1.5 0h0m8-.5h0m10 .5h0m-32 1.5h0m1.5-.5h0m5.5-.5h0m2 1.5h0m8.5-.5h0m.5 0h0m-18 2h0m6-.5h0m1.5 0h0m4 0h0m.5 .5h0m3.5 .5h0m1.5-1.5h0m11 .5h0m-31 2h0m4-.5h0m1 .5h0m1 0h0m12-.5h0m2 .5h0m1.5 1h0m.5-1h0m6.5 0h0m1 1h0m-30.5 1h0m9.5 1h0m.5-1h0m0 1h0m.5 0h0m1-.5h0m5.5 .5h0m1-.5h0m.5 .5h0m6 0h0m11.5-1h0m-33 2h0m.5 1h0m8-1.5h0m5.5 .5h0m.5-.5h0m9 .5h0m2-.5h0m8.5 1h0m-33.5 1.5h0m1.5 0h0m7 1h0m1-1h0m1 .5h0m3 .5h0m2.5-.5h0m1-.5h0m0 1h0m.5 0h0m6.5 0h0m2.5-1h0m1.5 .5h0m5-1h0m-36.5 3.5h0m2.5-1h0m9.5 .5h0m3 .5h0m2.5-.5h0m2-1h0m1.5 1h0m2.5 .5h0m-23 .5h0m2 0h0m3 1.5h0m4 0h0m3-1h0m1.5-.5h0m2 0h0m1.5 0h0m21.5 1h0m-42.5 2h0m7.5-.5h0m1.5 0h0m4.5 0h0m1.5 0h0m8.5 .5h0m1 0h0m1 .5h0m3-.5h0m1.5-.5h0m10.5-.5h0m-28.5 3.5h0m3.5-.5h0m3 .5h0m1.5-1h0m5.5-.5h0m12.5 1h0m1.5 0h0m-34.5 2h0m10-.5h0m.5 0h0m.5-.5h0m11 1.5h0m2-.5h0m5.5 .5h0m-22.5 1.5h0m5.5-1h0m12 1h0m1-.5h0m5 1h0m-26 1.5h0m4.5 .5h0m1-1h0m5 0h0m5.5 0h0m3.5-.5h0m-15.5 2h0m.5 0h0m3.5 1.5h0m1 0h0m8-.5h0m-19 1.5h0m3-.5h0m8 .5h0m3.5 0h0m9 0h0m2.5-.5h0m-18.5 3.5h0m0-1.5h0m18 0h0m-19.5 2h0m4.5 0h0m-6.5 4h0m-1 2.5h0m23 .5h0m-8 3h0" stroke="#777" stroke-width="0.6" stroke-linecap="square" fill="none"/>
<path d="M246.5 47h0m20 .5h0m-23.5 1.5h0m4 .5h0m1-.5h0m1 0h0m3.5 0h0m4-1h0m3 1.5h0m-24 2h0m10 0h0m.5 0h0m3-.5h0m4.5-.5h0m1-.5h0m0 1.5h0m0-1h0m2 1h0m12-.5h0m-30 2h0m12.5 0h0m.5-1h0m3.5 0h0m.5 0h0m1.5 .5h0m3 0h0m3 .5h0m1.5 .5h0m.5-1.5h0m.5 0h0m2 0h0m3 .5h0m-33 2.5h0m4 .5h0m9-1.5h0m3.5 .5h0m.5 0h0m0 .5h0m3 .5h0m1.5-1h0m9 .5h0m-19 2.5h0m3.5-1.5h0m3 .5h0m-17 3h0m13-1h0m5 .5h0m-2.5 2.5h0m-11 1h0m2 1h0m1-.5h0m3.5 .5h0m1-.5h0m1.5 .5h0m4-1h0m-17 3h0m4-1h0m5 0h0m2-.5h0m2.5 1.5h0m.5-1h0m2-.5h0m0 1.5h0m.5-.5h0m6.5 .5h0m2.5 0h0m-18 1h0m.5 .5h0m2 .5h0m3-1.5h0m2 1h0m.5 .5h0m0-.5h0m.5 .5h0m1.5 0h0m.5-.5h0m1 .5h0m.5 0h0m1.5 0h0m.5-1.5h0m1 .5h0m6 1h0m-38.5 1.5h0m5 .5h0m7-1h0m2-.5h0m3.5 0h0m2 1.5h0m3-1h0m1.5 .5h0m1 .5h0m3-1h0m.5-.5h0m.5 1h0m0-1h0m1.5 1h0m5-1h0m-34.5 2h0m13 0h0m.5 .5h0m1.5 0h0m.5 .5h0m1 .5h0m0-1.5h0m1.5 1.5h0m1-1.5h0m.5 1.5h0m0-.5h0m1 .5h0m.5 0h0m.5-.5h0m0-.5h0m.5 0h0m.5 .5h0m1-.5h0m1.5 1h0m0-.5h0m0 .5h0m0-.5h0m.5-1h0m1 1h0m1 .5h0m0-.5h0m.5 .5h0m1.5-.5h0m0 .5h0m0-1.5h0m.5 1.5h0m0-.5h0m0-1h0m-38.5 2.5h0m4 .5h0m3.5 .5h0m4-1h0m.5 .5h0m4.5-.5h0m3 1h0m1-1.5h0m1.5 1.5h0m.5-1h0m.5 .5h0m1.5 .5h0m1 0h0m.5-1h0m1 1h0m0-1h0m0 1h0m.5 0h0m.5-.5h0m.5-1h0m0 1h0m.5 .5h0m.5 0h0m.5-1.5h0m.5 0h0m0 1.5h0m.5 0h0m.5-1.5h0m.5 1.5h0m.5-.5h0m.5-1h0m0 1h0m.5 .5h0m.5-.5h0m.5-.5h0m.5 .5h0m.5 0h0m.5-1h0m1 .5h0m.5 .5h0m0-1h0m.5 0h0m.5 1h0m.5 0h0m.5-1h0m1 .5h0m0 .5h0m.5 .5h0m4-.5h0m1.5 0h0m-42.5 2h0m2-1h0m4.5 1.5h0m.5 0h0m.5 0h0m2.5-1h0m.5-.5h0m1.5 0h0m2 0h0m.5 0h0m4.5 .5h0m.5 1h0m2.5-.5h0m.5-.5h0m.5 1h0m.5-1h0m.5 .5h0m.5 .5h0m0-.5h0m.5-.5h0m.5 0h0m0-.5h0m0 1h0m0-.5h0m.5 1h0m.5-.5h0m0-.5h0m.5-.5h0m.5 1h0m.5-1h0m1 .5h0m.5 1h0m0-.5h0m0-.5h0m0 .5h0m.5 0h0m1-1h0m0 1.5h0m0-.5h0m.5 0h0m0-1h0m.5 1.5h0m0-.5h0m.5-1h0m0 .5h0m.5-.5h0m1 1h0m1 0h0m1.5 0h0m.5 0h0m1.5-.5h0m1-.5h0m1.5 1.5h0m10-.5h0m-54.5 2.5h0m1-.5h0m1-.5h0m1 1h0m1.5-1h0m.5 .5h0m2.5-1h0m1.5 0h0m3 1.5h0m3.5-1h0m.5-.5h0m1 1.5h0m1.5-1h0m.5-.5h0m2.5 1h0m0-1h0m1 1.5h0m0-1h0m1-.5h0m0 1h0m2 .5h0m0-.5h0m.5-1h0m.5 0h0m.5 1h0m1 .5h0m0-1.5h0m.5 0h0m0 1.5h0m0-1.5h0m.5 .5h0m.5 0h0m0 1h0m.5-1.5h0m.5 .5h0m.5 .5h0m.5 .5h0m.5 0h0m0-1h0m0-.5h0m0 1.5h0m0-.5h0m.5-1h0m.5 1.5h0m0-1.5h0m0 1h0m.5 .5h0m0-1h0m0 .5h0m0-1h0m.5 1.5h0m0-1h0m.5 1h0m0-.5h0m1 .5h0m0-.5h0m.5-1h0m.5 1h0m0-1h0m.5 .5h0m0 1h0m0-1h0m.5 .5h0m0 .5h0m.5-.5h0m0-1h0m.5 .5h0m0 1h0m0-1h0m.5-.5h0m.5 0h0m.5 0h0m0 .5h0m2 0h0m1 1h0m.5-1h0m.5 0h0m.5-.5h0m1 .5h0m2.5 1h0m-47 2h0m3 0h0m.5-.5h0m5 .5h0m4-.5h0m.5-1h0m0 1.5h0m.5 0h0m2-.5h0m.5-1h0m2.5 1h0m1.5 0h0m0-1h0m1 0h0m0 .5h0m0 .5h0m1 .5h0m0-.5h0m.5 0h0m0 .5h0m.5-1h0m.5 .5h0m.5 0h0m.5 .5h0m.5-.5h0m.5 0h0m0-.5h0m0 .5h0m.5 0h0m.5 0h0m0-1h0m0 .5h0m0-.5h0m.5 1.5h0m0-1.5h0m0 1.5h0m.5-1h0m0-.5h0m.5 1.5h0m0-1h0m0-.5h0m0 1.5h0m.5-1h0m0 1h0m0-1.5h0m.5 1.5h0m0-.5h0m0 .5h0m0-1.5h0m.5 0h0m0 1.5h0m0-.5h0m.5-.5h0m0 1h0m.5-1h0m0 1h0m.5-.5h0m0-.5h0m.5-.5h0m0 1h0m0-1h0m0 1h0m.5-.5h0m0 .5h0m0 .5h0m.5-1.5h0m0 .5h0m0 1h0m.5-.5h0m0-.5h0m0 1h0m.5-1h0m0-.5h0m0 1.5h0m.5-1.5h0m.5 1h0m0 .5h0m.5-.5h0m0 .5h0m.5-1.5h0m0 .5h0m.5 1h0m.5 0h0m.5-1.5h0m0 .5h0m0 .5h0m.5 .5h0m1-1.5h0m.5 0h0m1 1h0m.5 .5h0m0-1h0m.5-.5h0m0 .5h0m.5 1h0m2-1h0m0-.5h0m1.5 1.5h0m2 0h0m-46.5 1.5h0m5.5-1h0m3 .5h0m3 0h0m.5 0h0m1 1h0m1-1h0m.5 1h0m.5-1.5h0m.5 1h0m1 .5h0m1-.5h0m.5-1h0m.5 1h0m1.5 0h0m1 0h0m0-.5h0m0 .5h0m0 .5h0m.5-1h0m0 .5h0m0-.5h0m.5 .5h0m.5-1h0m0 1h0m0-1h0m0 1.5h0m.5 0h0m0-1h0m.5 .5h0m0-.5h0m0-.5h0m0 .5h0m0 .5h0m.5-1h0m0 1h0m0-.5h0m0 .5h0m0-1h0m.5 1.5h0m0-.5h0m0 .5h0m.5 0h0m0-.5h0m.5-.5h0m0 1h0m0-1h0m.5 1h0m0-1.5h0m.5 1.5h0m0-1h0m0 .5h0m0-1h0m.5 .5h0m.5-.5h0m0 1.5h0m0-.5h0m0 .5h0m0-1h0m.5 1h0m0-1.5h0m0 1h0m.5 0h0m0-.5h0m.5 1h0m0-.5h0m0-.5h0m.5 0h0m0 .5h0m.5-1h0m0 1.5h0m0-1h0m0-.5h0m.5 0h0m0 1.5h0m0-1h0m.5 .5h0m0 .5h0m0-1h0m.5 .5h0m0-.5h0m0 .5h0m.5 .5h0m.5-.5h0m0 .5h0m0-1.5h0m.5 .5h0m0-.5h0m0 1h0m.5 0h0m0 .5h0m0-1.5h0m.5 .5h0m0 .5h0m.5 0h0m0-.5h0m0 1h0m.5-1h0m0 .5h0m1-1h0m.5 0h0m.5 .5h0m0 1h0m.5-1.5h0m1.5 1.5h0m.5-.5h0m0 .5h0m.5 0h0m.5-1h0m1 1h0m0-1.5h0m1.5 1h0m.5-.5h0m.5-.5h0m0 1h0m2-1h0m1 1.5h0m11.5 0h0m-60 .5h0m1.5 .5h0m.5 0h0m.5 1h0m1.5-1h0m2-.5h0m5.5 .5h0m1.5 0h0m.5 0h0m.5-.5h0m1 1h0m.5-1h0m1 0h0m1 .5h0m.5 0h0m.5 1h0m1.5-1h0m.5 1h0m0-1.5h0m.5 1.5h0m0-.5h0m.5-.5h0m0 .5h0m0 .5h0m.5 0h0m.5 0h0m0-.5h0m0-.5h0m1-.5h0m0 1.5h0m0-1h0m0 .5h0m1 0h0m0-.5h0m.5-.5h0m1 1h0m.5 .5h0m0-1h0m0-.5h0m0 1.5h0m.5-.5h0m0-.5h0m0-.5h0m.5 1.5h0m.5-1.5h0m.5 0h0m0 1h0m.5 .5h0m0-.5h0m0-.5h0m0 1h0m.5-1.5h0m0 .5h0m0 .5h0m.5 .5h0m0-.5h0m0-1h0m.5 0h0m0 1.5h0m0-1h0m0 1h0m.5 0h0m0-.5h0m0 .5h0m.5-.5h0m0-.5h0m0 1h0m0-1.5h0m0 1.5h0m.5-.5h0m0 .5h0m0-.5h0m0 .5h0m0-1h0m.5 .5h0m0-.5h0m0 1h0m0-.5h0m0-.5h0m.5 0h0m0 .5h0m.5 0h0m0-.5h0m0 .5h0m.5 .5h0m0-1h0m.5-.5h0m0 .5h0m0 1h0m0-1h0m.5 1h0m0-1h0m1.5-.5h0m.5 1h0m.5 .5h0m0-.5h0m.5-1h0m0 .5h0m.5-.5h0m0 .5h0m0 .5h0m0 .5h0m.5-.5h0m0-1h0m.5 .5h0m0 1h0m0-1h0m.5 .5h0m.5-1h0m0 1.5h0m0-1h0m1-.5h0m.5 1h0m.5 0h0m.5-1h0m1 .5h0m.5 1h0m-41 1h0m2.5 0h0m3 .5h0m1 .5h0m.5 0h0m2.5 0h0m.5 0h0m.5-1h0m1 1h0m.5-.5h0m1 0h0m1-.5h0m0-.5h0m1 1h0m1 .5h0m.5-.5h0m1 0h0m0 .5h0m1-.5h0m.5 0h0m0 .5h0m0-.5h0m.5 0h0m.5 0h0m0-1h0m.5 1.5h0m.5-1h0m0 .5h0m0-1h0m.5 1h0m0-1h0m0 1h0m0-.5h0m.5 0h0m0 1h0m0-.5h0m0-.5h0m0-.5h0m0 1.5h0m0-1h0m.5-.5h0m0 .5h0m.5 1h0m0-1h0m0-.5h0m.5 .5h0m1 0h0m0-.5h0m.5 .5h0m0 1h0m0-1.5h0m0 .5h0m0 1h0m.5 0h0m0-1h0m0-.5h0m.5 1h0m.5-.5h0m0 .5h0m0 .5h0m0-1.5h0m0 .5h0m0-.5h0m0 1.5h0m.5-.5h0m0 .5h0m.5-1.5h0m0 .5h0m.5-.5h0m0 1h0m0-1h0m.5 1.5h0m0-1.5h0m0 .5h0m.5 0h0m0 .5h0m.5 0h0m0-.5h0m0-.5h0m0 1.5h0m.5-1.5h0m0 1h0m0-1h0m.5 .5h0m0-.5h0m.5 1h0m.5 .5h0m0-1.5h0m.5 1h0m0 .5h0m0-1h0m0 .5h0m.5 0h0m.5 .5h0m0-.5h0m.5 .5h0m0-.5h0m0-1h0m.5 1.5h0m0-1h0m.5 .5h0m.5 .5h0m.5-1.5h0m0 1h0m0-.5h0m0-.5h0m0 1h0m.5 .5h0m0-.5h0m.5-.5h0m0-.5h0m0 .5h0m.5 0h0m.5 1h0m.5-.5h0m1-.5h0m.5 0h0m1 .5h0m1-1h0m.5 1h0m1-.5h0m2-.5h0m0 1.5h0m-50.5 1h0m2 .5h0m1.5-1h0m4 1.5h0m1-1.5h0m.5 .5h0m.5 0h0m0-.5h0m2 1h0m1-1h0m1.5 1h0m.5 .5h0m.5-1.5h0m1.5 0h0m.5 0h0m.5 .5h0m0 1h0m1-1h0m1 0h0m1-.5h0m0 1h0m.5-1h0m.5 0h0m.5 0h0m.5 .5h0m0 1h0m1 0h0m0-1.5h0m.5 .5h0m0-.5h0m0 1.5h0m.5 0h0m.5 0h0m0-1.5h0m0 1.5h0m.5-.5h0m0-.5h0m0-.5h0m.5 1h0m0 .5h0m0-1h0m0-.5h0m.5 1h0m.5 0h0m0-1h0m0 .5h0m.5 0h0m.5 .5h0m0-1h0m0 1h0m.5-.5h0m0 .5h0m0-.5h0m0 1h0m0-.5h0m.5 0h0m0-1h0m0 .5h0m.5 .5h0m0-.5h0m.5-.5h0m0 1h0m0-1h0m0 1h0m0 .5h0m0-1h0m.5 1h0m0-1.5h0m0 1h0m.5-1h0m0 1.5h0m.5-1.5h0m0 .5h0m0 1h0m0-.5h0m.5-1h0m0 1.5h0m0-1.5h0m0 1.5h0m.5-1.5h0m0 .5h0m0 1h0m.5-1h0m0 .5h0m0-.5h0m0 .5h0m0 .5h0m.5-1.5h0m0 .5h0m0 1h0m0-1.5h0m.5 .5h0m0-.5h0m0 1.5h0m.5-1h0m0 1h0m0-.5h0m0 .5h0m0-1h0m0 1h0m.5 0h0m0-.5h0m0-1h0m0 .5h0m0-.5h0m.5 1.5h0m0-1h0m0-.5h0m0 1.5h0m.5-.5h0m0-.5h0m0 1h0m0-1h0m0-.5h0m.5 1h0m0-.5h0m0 1h0m.5 0h0m0-1.5h0m.5 1.5h0m0-1h0m.5-.5h0m0 1h0m.5-.5h0m0-.5h0m0 1h0m.5-.5h0m0 .5h0m0-1h0m0 .5h0m0-.5h0m0 1.5h0m.5-1.5h0m0 1.5h0m0-1h0m0-.5h0m0 .5h0m.5-.5h0m.5 1h0m0-1h0m.5 1h0m0-1h0m.5 1.5h0m0-1h0m.5 1h0m0-1h0m1-.5h0m0 1h0m.5-.5h0m0 1h0m.5-1.5h0m.5 1h0m2-1h0m.5 1.5h0m3-1h0m6-.5h0m-56 2h0m9.5 1h0m.5 0h0m1-.5h0m.5 1h0m.5-1.5h0m.5 1h0m0-.5h0m3.5 .5h0m1-1h0m.5 0h0m.5 1h0m2.5 0h0m.5 0h0m0-.5h0m.5 .5h0m1-1h0m.5 .5h0m.5-.5h0m1 .5h0m0 1h0m0-.5h0m1-1h0m0 1h0m.5 0h0m0 .5h0m.5-1h0m0 1h0m0-.5h0m0 .5h0m0-.5h0m.5 .5h0m0-.5h0m.5 .5h0m0-1.5h0m0 1.5h0m.5-1.5h0m0 .5h0m.5-.5h0m0 1.5h0m.5-.5h0m.5-1h0m0 1h0m.5-1h0m0 1.5h0m.5-1h0m0 1h0m0-.5h0m.5-1h0m0 1h0m0 .5h0m.5-1.5h0m.5 1h0m0-1h0m0 1h0m.5 0h0m0-.5h0m0 .5h0m.5-1h0m0 1.5h0m.5-1h0m0-.5h0m0 1h0m0-1h0m0 .5h0m.5 .5h0m0-1h0m0 .5h0m0 1h0m0-1.5h0m0 .5h0m0 1h0m.5 0h0m0-1h0m0 1h0m0-1.5h0m.5 .5h0m0 1h0m0-1h0m.5-.5h0m0 1h0m.5-.5h0m0-.5h0m0 1.5h0m.5-1h0m0-.5h0m0 1.5h0m0-.5h0m.5-1h0m0 1.5h0m0-1.5h0m0 1.5h0m0-1h0m.5 .5h0m0-.5h0m.5 0h0m0-.5h0m0 .5h0m0 1h0m.5 0h0m0-1.5h0m0 .5h0m0-.5h0m0 1h0m.5-1h0m.5 1.5h0m0-.5h0m0-1h0m0 1h0m.5 0h0m0 .5h0m.5-1.5h0m0 1.5h0m0-.5h0m0 .5h0m.5 0h0m0-1h0m.5 0h0m.5 0h0m.5 0h0m0 .5h0m.5 0h0m0-1h0m2.5 1h0m.5 .5h0m0-1.5h0m2 .5h0m1-.5h0m1 1.5h0m6.5 0h0m9-.5h0m-63.5 1.5h0m5-.5h0m1.5 1.5h0m1-1h0m0-.5h0m4 .5h0m1 1h0m.5 0h0m1 0h0m1.5-1.5h0m1.5 1h0m0-1h0m0 1.5h0m.5-1h0m1 0h0m0-.5h0m.5 1h0m0-1h0m.5 0h0m.5 .5h0m0 .5h0m.5 0h0m.5-1h0m.5 1h0m.5-.5h0m0 .5h0m0-.5h0m.5 0h0m1 0h0m.5-.5h0m0 .5h0m0 .5h0m0 .5h0m0-1.5h0m1 .5h0m0-.5h0m.5 1.5h0m0-.5h0m0-.5h0m.5-.5h0m0 .5h0m0-.5h0m.5 0h0m.5 1.5h0m0-1.5h0m0 1h0m0 .5h0m.5 0h0m.5 0h0m0-.5h0m.5 0h0m0-1h0m0 1.5h0m.5-1h0m0-.5h0m0 .5h0m.5 .5h0m0-1h0m.5 1.5h0m0-1.5h0m.5 1h0m0-1h0m0 .5h0m0-.5h0m.5 .5h0m0 .5h0m0-.5h0m0 1h0m0-1h0m.5 0h0m0 1h0m0-1.5h0m0 .5h0m.5 0h0m.5 0h0m0-.5h0m0 1.5h0m0-.5h0m0-.5h0m.5 0h0m0 .5h0m0-1h0m0 1h0m.5-1h0m0 .5h0m0 .5h0m.5-1h0m0 1h0m.5-.5h0m0 .5h0m0-1h0m0 1h0m0 .5h0m0-1.5h0m.5 .5h0m.5 1h0m0-.5h0m.5 0h0m0-1h0m.5 0h0m0 1h0m0-1h0m.5 .5h0m0 .5h0m.5 .5h0m.5 0h0m0-1.5h0m0 1.5h0m0-1.5h0m.5 1h0m0-1h0m.5 1.5h0m0-1h0m.5 .5h0m.5-.5h0m0 1h0m.5-.5h0m0-1h0m.5 0h0m0 1.5h0m.5-.5h0m0-1h0m.5 1.5h0m.5-1.5h0m.5 1h0m0-.5h0m1 1h0m.5 0h0m7-1h0m1-.5h0m-54 2h0m1 .5h0m.5 0h0m3 1h0m0-.5h0m.5 0h0m0 .5h0m1-1.5h0m1.5 1h0m.5 .5h0m1 0h0m1-1.5h0m.5 1h0m.5-.5h0m3 1h0m2.5 0h0m1.5-1.5h0m2.5 1h0m0-.5h0m1-.5h0m.5 1.5h0m.5 0h0m0-1.5h0m1 1.5h0m0-.5h0m.5-1h0m0 1.5h0m.5-.5h0m.5 0h0m0-.5h0m0 .5h0m0-.5h0m.5 0h0m0 .5h0m.5 .5h0m.5-.5h0m0-1h0m1 1h0m0 .5h0m.5-.5h0m0 .5h0m.5 0h0m0-.5h0m0 .5h0m0-1h0m.5 .5h0m0-1h0m0 1.5h0m0-1.5h0m0 .5h0m.5-.5h0m0 1h0m0-1h0m.5 1.5h0m.5 0h0m0-.5h0m0-.5h0m0-.5h0m0 .5h0m1 1h0m0-.5h0m.5-1h0m0 1.5h0m0-1h0m0-.5h0m0 .5h0m.5 0h0m0 .5h0m.5-.5h0m0 .5h0m.5 0h0m.5-1h0m0 1.5h0m0-1h0m0-.5h0m0 1.5h0m.5-.5h0m0 .5h0m0-.5h0m0-1h0m0 1h0m.5-1h0m0 .5h0m0-.5h0m0 1h0m0-.5h0m.5 1h0m0-1h0m0-.5h0m0 .5h0m0 1h0m.5-1.5h0m0 1h0m.5-.5h0m0-.5h0m0 .5h0m.5 .5h0m0-.5h0m0-.5h0m.5 .5h0m0 .5h0m0-1h0m0 1.5h0m0-1.5h0m1 0h0m0 1h0m0-1h0m0 .5h0m0 1h0m0-1.5h0m.5 .5h0m0-.5h0m.5 1.5h0m0-.5h0m.5-1h0m0 1.5h0m0-1h0m.5 .5h0m.5 .5h0m.5-1.5h0m.5 .5h0m0 .5h0m.5 .5h0m0-1h0m.5 .5h0m1-.5h0m.5 1h0m1-1.5h0m0 .5h0m0 1h0m1 0h0m1-.5h0m-44 2h0m.5-.5h0m.5 .5h0m2.5 0h0m.5 0h0m1.5 .5h0m1-.5h0m.5 0h0m1-1h0m0 .5h0m1 0h0m.5-.5h0m1.5 1h0m1-1h0m0 .5h0m1 .5h0m0 .5h0m1-.5h0m.5-1h0m1 .5h0m.5 .5h0m.5 .5h0m.5-.5h0m.5 0h0m.5-1h0m0 1h0m.5 0h0m0-.5h0m0 .5h0m.5-.5h0m1.5-.5h0m.5 1h0m0-1h0m.5 1h0m0-1h0m.5 1.5h0m.5-1.5h0m0 1.5h0m.5-1.5h0m.5 1h0m0 .5h0m0-.5h0m0-1h0m.5 0h0m.5 1.5h0m.5-.5h0m0-.5h0m0 .5h0m0 .5h0m.5-.5h0m0-.5h0m.5 0h0m.5 .5h0m0-.5h0m0 1h0m.5 0h0m.5-.5h0m0-.5h0m0-.5h0m.5 1.5h0m0-1h0m.5 0h0m0-.5h0m.5 1h0m0 .5h0m1 0h0m0-.5h0m0 .5h0m0-.5h0m.5-.5h0m0-.5h0m0 .5h0m.5 0h0m0 1h0m.5-1h0m0 .5h0m0-1h0m0 1h0m0 .5h0m.5-1.5h0m0 1h0m.5 .5h0m0-1.5h0m0 1.5h0m0-1.5h0m0 .5h0m.5 1h0m0-1h0m0 .5h0m.5-1h0m.5 0h0m.5 1.5h0m0-1h0m0-.5h0m.5 1h0m0-.5h0m.5 0h0m0 1h0m.5 0h0m.5 0h0m0-1.5h0m.5 .5h0m0 1h0m0-1.5h0m.5 1.5h0m0-1.5h0m0 1.5h0m.5-.5h0m.5-.5h0m0-.5h0m.5 .5h0m0 1h0m.5-1h0m0-.5h0m0 .5h0m.5 1h0m.5-1.5h0m0 1.5h0m0-.5h0m0 .5h0m3-1.5h0m3 1h0m13.5 .5h0m-64 .5h0m.5 0h0m.5 0h0m.5 .5h0m2.5 1h0m0-1h0m1.5 .5h0m.5 0h0m1.5-1h0m6 0h0m0 1h0m.5-.5h0m1 1h0m.5 0h0m.5 0h0m.5-1h0m0 1h0m1-.5h0m.5-1h0m0 1h0m2.5-1h0m.5 1h0m1.5 .5h0m0-1.5h0m.5 1h0m.5 0h0m0-1h0m.5 1h0m.5-.5h0m1-.5h0m0 1h0m.5 0h0m0-1h0m.5 1.5h0m.5-1.5h0m.5 .5h0m0-.5h0m0 1.5h0m.5-.5h0m.5 0h0m0-.5h0m.5-.5h0m0 1h0m.5-1h0m0 .5h0m.5 0h0m.5 .5h0m.5 0h0m0-.5h0m.5-.5h0m1 1.5h0m0-1h0m0 .5h0m.5 0h0m0 .5h0m.5-.5h0m0 .5h0m0-1h0m0 1h0m.5-1h0m.5-.5h0m0 1h0m.5 0h0m.5 .5h0m0-.5h0m0-1h0m0 1.5h0m1-1h0m.5 0h0m0-.5h0m0 1h0m.5 .5h0m0-1h0m0 1h0m0-1.5h0m1 1.5h0m.5-.5h0m.5 0h0m0-.5h0m.5 0h0m1-.5h0m1.5 1.5h0m0-1h0m.5-.5h0m.5 0h0m.5 0h0m1 0h0m4.5 1.5h0m2.5 0h0m-50.5 1h0m3 1h0m1.5-1h0m1 0h0m.5 0h0m2 0h0m1 1h0m0-1.5h0m1 .5h0m1 1h0m0-.5h0m1-.5h0m1.5 1h0m.5-.5h0m0 .5h0m2.5-1h0m.5 0h0m.5 1h0m.5-1h0m0 .5h0m0-1h0m0 1h0m2 0h0m1 0h0m0-.5h0m.5 .5h0m.5 .5h0m1-1.5h0m.5 1h0m.5-1h0m1 0h0m1 0h0m0 1h0m1-.5h0m0-.5h0m.5 0h0m0 1.5h0m.5-1h0m.5 .5h0m0-1h0m.5 0h0m0 .5h0m.5 1h0m0-1h0m0 1h0m0-1.5h0m.5 .5h0m0 .5h0m0 .5h0m.5-.5h0m0 .5h0m0-1.5h0m0 1.5h0m.5 0h0m.5 0h0m.5-1.5h0m.5 0h0m0 1.5h0m0-1.5h0m.5 0h0m.5 0h0m0 1.5h0m1-1.5h0m.5 .5h0m0 .5h0m0-.5h0m.5 1h0m0-1.5h0m.5 1.5h0m0-1.5h0m.5 1h0m.5-.5h0m0 1h0m0-1.5h0m1 0h0m.5 0h0m0 1.5h0m.5-1h0m.5 0h0m1 0h0m0-.5h0m0 1h0m2.5 .5h0m0-1h0m1-.5h0m.5 0h0m11 1h0m5 .5h0m-58.5 1.5h0m1 0h0m1-1h0m0 1h0m2-1h0m1 1h0m.5-1h0m2.5 1.5h0m1.5 0h0m.5 0h0m2.5-.5h0m1-.5h0m1-.5h0m.5 0h0m.5 1.5h0m.5-1h0m.5 1h0m1-1.5h0m1 1.5h0m1-1.5h0m.5 0h0m.5 0h0m.5 0h0m.5 0h0m0 1h0m.5-1h0m0 1h0m0-.5h0m.5 1h0m.5-.5h0m0 .5h0m.5-.5h0m0-.5h0m.5 .5h0m1-1h0m0 1.5h0m.5-1.5h0m.5 1.5h0m0-1.5h0m.5 0h0m0 1h0m.5-1h0m1 1.5h0m0-.5h0m.5 0h0m.5 0h0m.5 .5h0m.5-.5h0m0 .5h0m.5-.5h0m0 .5h0m0-1.5h0m0 .5h0m.5 1h0m0-1h0m.5 .5h0m0-1h0m0 .5h0m.5 0h0m.5 0h0m0 .5h0m0-1h0m1 0h0m0 .5h0m0 .5h0m1-.5h0m0-.5h0m.5 1.5h0m.5-1.5h0m0 1.5h0m.5 0h0m1-1h0m.5-.5h0m0 .5h0m1 0h0m.5 .5h0m.5 .5h0m.5 0h0m.5 0h0m.5-.5h0m2 .5h0m1-1.5h0m.5 .5h0m1.5 0h0m2.5-.5h0m-47 3.5h0m1.5 0h0m.5 0h0m2.5-1.5h0m.5 1h0m1-1h0m1 0h0m2 0h0m.5 1h0m1.5-.5h0m1 1h0m1.5-1.5h0m.5 0h0m1.5 0h0m.5 1.5h0m1-.5h0m.5-1h0m.5 0h0m.5 0h0m0 1.5h0m.5 0h0m0-1h0m0 .5h0m1.5 .5h0m0-1h0m1.5 .5h0m.5 0h0m.5 .5h0m0-1.5h0m.5 1h0m.5 0h0m.5-1h0m0 .5h0m.5 0h0m0 1h0m0-.5h0m.5-1h0m0 1h0m.5-.5h0m.5 0h0m.5-.5h0m0 1h0m0 .5h0m1.5 0h0m0-1.5h0m1 0h0m0 .5h0m0-.5h0m.5 1h0m.5-1h0m.5 1h0m0 .5h0m.5-.5h0m0-1h0m.5 0h0m.5 1.5h0m0-1h0m.5 0h0m2 .5h0m.5-1h0m1 0h0m1 0h0m.5 1h0m0-1h0m1 .5h0m1-.5h0m8 .5h0m-51.5 2.5h0m5.5-1h0m1.5 .5h0m1-.5h0m2 1.5h0m.5-.5h0m.5-1h0m.5 .5h0m.5 0h0m2 .5h0m1-1h0m.5 1.5h0m1.5-1.5h0m.5 .5h0m.5 .5h0m1 0h0m0-.5h0m.5 0h0m.5 .5h0m0 .5h0m1 0h0m.5-.5h0m0-1h0m1 .5h0m0 1h0m.5-1h0m1 .5h0m1 .5h0m.5-1h0m1-.5h0m.5 1.5h0m0-1h0m.5 1h0m1 0h0m.5 0h0m0-1.5h0m.5 1h0m.5 .5h0m2-1h0m.5-.5h0m0 .5h0m2 0h0m.5 0h0m0 1h0m0-1h0m.5 1h0m.5-1h0m.5-.5h0m.5 .5h0m0 .5h0m1 0h0m1 .5h0m1-.5h0m.5-1h0m0 .5h0m2.5 0h0m.5 .5h0m2-.5h0m0 1h0m-45 1.5h0m1.5 0h0m3.5 0h0m.5 0h0m.5-1h0m2.5 .5h0m1 0h0m1.5 .5h0m.5 0h0m2 0h0m.5 .5h0m.5-1.5h0m1 0h0m.5 1h0m2.5-1h0m.5 0h0m1 1h0m0-1h0m1 1h0m.5 0h0m.5-1h0m0 .5h0m0 1h0m.5-1h0m0-.5h0m1 1h0m.5-1h0m.5 1h0m1 0h0m.5 0h0m.5 0h0m0 .5h0m.5 0h0m0-1h0m.5-.5h0m.5 .5h0m0 .5h0m.5 .5h0m1-1h0m.5 1h0m.5-1h0m0 .5h0m.5-1h0m.5 1.5h0m0-1h0m1-.5h0m.5 1.5h0m0-1.5h0m.5 1.5h0m1-.5h0m2 0h0m2-1h0m1.5 0h0m.5 .5h0m.5-.5h0m1.5 0h0m0 1.5h0m0-1.5h0m0 1.5h0m1.5-1.5h0m4.5 0h0m-46.5 3.5h0m3.5-1.5h0m.5 0h0m1 1.5h0m2-1.5h0m0 .5h0m3.5 .5h0m0-1h0m3 .5h0m.5 .5h0m.5-1h0m0 1.5h0m.5 0h0m1.5-1.5h0m.5 1h0m.5 .5h0m.5-1h0m.5 .5h0m0-.5h0m1 0h0m1.5 0h0m0 1h0m1-1h0m1 .5h0m1-.5h0m.5-.5h0m0 1h0m.5 .5h0m.5-.5h0m1 .5h0m0-.5h0m0 .5h0m.5 0h0m.5-1h0m1 0h0m.5-.5h0m.5 1.5h0m1 0h0m1.5 0h0m0-1h0m.5-.5h0m2 1.5h0m2 0h0m1 0h0m.5-1h0m.5 0h0m2.5 .5h0m.5 .5h0m16.5-1h0m-60.5 2.5h0m.5 .5h0m2-.5h0m0-1h0m2 1h0m1-1h0m.5 0h0m1 1h0m.5 .5h0m5-1h0m.5-.5h0m7.5 .5h0m0 .5h0m.5-.5h0m.5 1h0m1.5-1h0m.5 0h0m.5 1h0m1.5-.5h0m.5-1h0m1 1.5h0m0-.5h0m0-1h0m.5 1.5h0m0-.5h0m.5 .5h0m.5-1.5h0m2.5 0h0m.5 .5h0m3.5 0h0m0-.5h0m1.5 1.5h0m.5 0h0m1 0h0m1-1.5h0m0 1h0m2 .5h0m.5 0h0m.5-1.5h0m3 0h0m4.5 1.5h0m-50.5 1.5h0m1-.5h0m.5 .5h0m2.5 .5h0m1 0h0m5-.5h0m2-.5h0m0 .5h0m2.5-.5h0m4.5 .5h0m1.5-.5h0m0 .5h0m0-1h0m0 1.5h0m2-1.5h0m.5 0h0m0 1.5h0m.5-.5h0m.5-.5h0m2-.5h0m1 .5h0m2 1h0m.5-1.5h0m.5 .5h0m0 1h0m1.5-1h0m.5 .5h0m2-1h0m2.5 1h0m3.5-.5h0m1 .5h0m1-.5h0m0-.5h0m1 0h0m1.5 0h0m16 .5h0m8 .5h0m-63 2h0m.5 .5h0m0-1.5h0m0 1h0m.5-1h0m1.5 .5h0m1-.5h0m1 .5h0m.5 .5h0m1.5 0h0m.5-.5h0m1 0h0m1-.5h0m0 1.5h0m.5-1.5h0m1 1h0m1.5-.5h0m0 1h0m2.5-1.5h0m3 .5h0m2-.5h0m.5 .5h0m3.5-.5h0m0 1.5h0m1-1h0m.5 1h0m0-.5h0m1-1h0m.5 1h0m.5 0h0m.5 0h0m0-1h0m3 1.5h0m0-1h0m.5 .5h0m.5-.5h0m5.5 1h0m2-1.5h0m1.5 1.5h0m7.5-.5h0m-51 1.5h0m1.5 0h0m2 0h0m.5-.5h0m2.5 0h0m.5 1.5h0m6-.5h0m1-.5h0m1.5 0h0m1-.5h0m1.5 1.5h0m.5-1h0m1.5 0h0m0 1h0m1.5-1h0m1-.5h0m2 0h0m1 1h0m1-1h0m.5 1.5h0m.5 0h0m.5-.5h0m4-.5h0m2 0h0m.5 .5h0m1.5-.5h0m0 .5h0m.5 0h0m2.5 0h0m2.5 0h0m-44 2h0m3.5-.5h0m1.5 0h0m0-.5h0m1 1.5h0m3.5-.5h0m.5-.5h0m2-.5h0m2 1h0m2-.5h0m2 1h0m3-.5h0m.5-.5h0m2 0h0m2 0h0m1 .5h0m0-.5h0m4.5 0h0m1 0h0m.5 1h0m4 0h0m3-.5h0m1.5 .5h0m1-1.5h0m.5 0h0m1 .5h0m1.5-.5h0m1.5 0h0m-46 2.5h0m.5-.5h0m.5 1h0m3 0h0m.5-1h0m3 0h0m1 1.5h0m7.5 0h0m1.5 0h0m1 0h0m2-1.5h0m.5 0h0m.5 1h0m5-.5h0m.5 1h0m1-1h0m.5 0h0m.5 0h0m.5 .5h0m0-.5h0m0 .5h0m2 .5h0m3-1.5h0m2 1h0m1 .5h0m.5-1.5h0m0 .5h0m2 1h0m18 0h0m-57 2h0m1-1h0m2.5-.5h0m3 .5h0m.5 0h0m3 .5h0m5-.5h0m.5-.5h0m2 1.5h0m.5-1h0m0 .5h0m.5 0h0m2 0h0m2 .5h0m.5 0h0m0-1h0m.5 1h0m3 0h0m.5-1h0m2.5-.5h0m0 1.5h0m3.5-1h0m3.5-.5h0m.5 0h0m1 .5h0m1 .5h0m.5 0h0m.5 0h0m5 .5h0m10.5-.5h0m-52 1h0m16 1.5h0m6.5-1.5h0m2 1.5h0m4-1.5h0m4 0h0m-1.5 2h0" stroke="#000" stroke-width="0.55" stroke-linecap="square" fill="none" filter="url(#f12_42)"/>
<line x1="219.4" y1="13" x2="310.5" y2="13" stroke="#000" stroke-width="0.9"/>
<line x1="268.5" y1="13" x2="268.5" y2="126.8" stroke="#000" stroke-width="0.9"/>
<line x1="219.4" y1="71.2" x2="332.6" y2="71.2" stroke="#000" stroke-width="0.9"/>
<line x1="332.6" y1="13" x2="332.6" y2="126.8" stroke="#000" stroke-width="0.9"/>
<line x1="330.6" y1="13" x2="332.6" y2="13" stroke="#000" stroke-width="0.9"/>
<line x1="330.6" y1="126.8" x2="332.6" y2="126.8" stroke="#000" stroke-width="0.9"/>
<line x1="241" y1="126.8" x2="310.5" y2="126.8" stroke="#000" stroke-width="1.2"/>
<line x1="219.4" y1="13" x2="219.4" y2="128.8" stroke="#000" stroke-width="1.4"/>
<line x1="219.4" y1="128.0" x2="241" y2="128.0" stroke="#000" stroke-width="1.0" stroke-dasharray="1.6 1.4"/>
<line x1="217.20000000000002" y1="24" x2="219.4" y2="24" stroke="#000" stroke-width="0.9"/>
<line x1="217.20000000000002" y1="49" x2="219.4" y2="49" stroke="#000" stroke-width="0.9"/>
<line x1="217.20000000000002" y1="75" x2="219.4" y2="75" stroke="#000" stroke-width="0.9"/>
<line x1="217.20000000000002" y1="102.5" x2="219.4" y2="102.5" stroke="#000" stroke-width="0.9"/>
<line x1="217.20000000000002" y1="114.5" x2="219.4" y2="114.5" stroke="#000" stroke-width="0.9"/>
<line x1="218.20000000000002" y1="16" x2="219.4" y2="16" stroke="#000" stroke-width="0.6"/>
<line x1="218.20000000000002" y1="19" x2="219.4" y2="19" stroke="#000" stroke-width="0.6"/>
<line x1="218.20000000000002" y1="21" x2="219.4" y2="21" stroke="#000" stroke-width="0.6"/>
<line x1="218.20000000000002" y1="28" x2="219.4" y2="28" stroke="#000" stroke-width="0.6"/>
<line x1="218.20000000000002" y1="31" x2="219.4" y2="31" stroke="#000" stroke-width="0.6"/>
<line x1="218.20000000000002" y1="34" x2="219.4" y2="34" stroke="#000" stroke-width="0.6"/>
<line x1="218.20000000000002" y1="37" x2="219.4" y2="37" stroke="#000" stroke-width="0.6"/>
<line x1="218.20000000000002" y1="41" x2="219.4" y2="41" stroke="#000" stroke-width="0.6"/>
<line x1="218.20000000000002" y1="44" x2="219.4" y2="44" stroke="#000" stroke-width="0.6"/>
<line x1="218.20000000000002" y1="53" x2="219.4" y2="53" stroke="#000" stroke-width="0.6"/>
<line x1="218.20000000000002" y1="57" x2="219.4" y2="57" stroke="#000" stroke-width="0.6"/>
<line x1="218.20000000000002" y1="60" x2="219.4" y2="60" stroke="#000" stroke-width="0.6"/>
<line x1="218.20000000000002" y1="63" x2="219.4" y2="63" stroke="#000" stroke-width="0.6"/>
<line x1="218.20000000000002" y1="67" x2="219.4" y2="67" stroke="#000" stroke-width="0.6"/>
<line x1="218.20000000000002" y1="79" x2="219.4" y2="79" stroke="#000" stroke-width="0.6"/>
<line x1="218.20000000000002" y1="83" x2="219.4" y2="83" stroke="#000" stroke-width="0.6"/>
<line x1="218.20000000000002" y1="87" x2="219.4" y2="87" stroke="#000" stroke-width="0.6"/>
<line x1="218.20000000000002" y1="91" x2="219.4" y2="91" stroke="#000" stroke-width="0.6"/>
<line x1="218.20000000000002" y1="95" x2="219.4" y2="95" stroke="#000" stroke-width="0.6"/>
<line x1="218.20000000000002" y1="119" x2="219.4" y2="119" stroke="#000" stroke-width="0.6"/>
<line x1="218.20000000000002" y1="124" x2="219.4" y2="124" stroke="#000" stroke-width="0.6"/>
<line x1="231.2" y1="126.8" x2="231.2" y2="129.0" stroke="#000" stroke-width="0.9"/>
<line x1="242" y1="126.8" x2="242" y2="129.0" stroke="#000" stroke-width="0.9"/>
<line x1="270" y1="126.8" x2="270" y2="129.0" stroke="#000" stroke-width="0.9"/>
<line x1="296.5" y1="126.8" x2="296.5" y2="129.0" stroke="#000" stroke-width="0.9"/>
<line x1="322" y1="126.8" x2="322" y2="129.0" stroke="#000" stroke-width="0.9"/>
<text x="206.20000000000002" y="26.2" font-size="5.5" font-weight="bold" fill="#555">10</text>
<text x="212.70000000000002" y="23.4" font-size="3.4" font-weight="bold" fill="#555">5</text>
<text x="206.20000000000002" y="51.2" font-size="5.5" font-weight="bold" fill="#555">10</text>
<text x="212.70000000000002" y="48.4" font-size="3.4" font-weight="bold" fill="#555">4</text>
<text x="206.20000000000002" y="77.2" font-size="5.5" font-weight="bold" fill="#555">10</text>
<text x="212.70000000000002" y="74.4" font-size="3.4" font-weight="bold" fill="#555">3</text>
<text x="206.20000000000002" y="104.7" font-size="5.5" font-weight="bold" fill="#555">10</text>
<text x="212.70000000000002" y="101.9" font-size="3.4" font-weight="bold" fill="#555">2</text>
<text x="211.6" y="116.8" font-size="5.5" font-weight="bold" fill="#555">0</text>
<text x="231.2" y="137.3" font-size="5.5" font-weight="bold" text-anchor="middle" fill="#555">0</text>
<text x="240.8" y="137.3" font-size="5.5" font-weight="bold" text-anchor="middle" fill="#555">10</text>
<text x="244" y="134.3" font-size="3.4" font-weight="bold" fill="#555">2</text>
<text x="268.8" y="137.3" font-size="5.5" font-weight="bold" text-anchor="middle" fill="#555">10</text>
<text x="272" y="134.3" font-size="3.4" font-weight="bold" fill="#555">3</text>
<text x="295.3" y="137.3" font-size="5.5" font-weight="bold" text-anchor="middle" fill="#555">10</text>
<text x="298.5" y="134.3" font-size="3.4" font-weight="bold" fill="#555">4</text>
<text x="320.8" y="137.3" font-size="5.5" font-weight="bold" text-anchor="middle" fill="#555">10</text>
<text x="324" y="134.3" font-size="3.4" font-weight="bold" fill="#555">5</text>
<text x="220.9" y="24.3" font-size="10">4.51</text>
<rect x="311.0" y="14" width="20.600000000000023" height="10.5" fill="#fff"/>
<text x="331.40000000000003" y="24.3" font-size="10" text-anchor="end">0.22</text>
<rect x="220.20000000000002" y="116.5" width="20.299999999999994" height="9.8" fill="#fff"/>
<text x="221.9" y="125.4" font-size="10">91.2</text>
<rect x="311.0" y="116.5" width="20.600000000000023" height="9.8" fill="#fff"/>
<text x="331.40000000000003" y="125.4" font-size="10" text-anchor="end">4.04</text>
<text transform="translate(194.2,132) rotate(-90)" font-size="11.3" textLength="33" lengthAdjust="spacingAndGlyphs" stroke="#000" stroke-width="0.2">CD123</text>
<path d="M200,83.8 L200,145.8 L258.5,145.8" fill="none" stroke="#000" stroke-width="2.2" stroke-linejoin="miter"/>
<path d="M195,88.3 L200,81.8 L205,88.3" fill="none" stroke="#000" stroke-width="2.2" stroke-linejoin="miter" stroke-linecap="butt"/>
<path d="M254.0,140.8 L260.5,145.8 L254.0,150.8" fill="none" stroke="#000" stroke-width="2.2" stroke-linejoin="miter" stroke-linecap="butt"/>
<text x="207.7" y="161.9" font-size="10" textLength="37.3" lengthAdjust="spacingAndGlyphs" stroke="#000" stroke-width="0.2">BDCA-1</text>
<path d="M444.8,126.5 446.2,91.5 447.7,66.5 449.6,55.0 446.0,91.5 446.9,62.7 448.5,49.2 449.8,28.1 450.8,20.4 451.7,18.5 452.7,24.2 454.2,33.8 455.6,47.3 456.9,58.8 458.5,64.6 460.0,60.8 461.3,33.8 462.3,16.5 463.3,20.4 464.2,39.6 465.2,58.8 466.2,53.1 467.1,56.9 468.1,76.2 469.6,81.9 470.4,91.5 471.5,106.9 472.9,120.4 474.8,125.2 476.7,126.5Z" fill="#c8c8c8" stroke="#555" stroke-width="0.9"/>
<path d="M392.9,126.2 395.8,116.5 399.6,108.8 402.5,97.3 405.4,81.9 407.7,69.4 409.2,72.3 410.8,78.1 412.1,74.2 414.0,58.8 415.6,33.8 416.9,47.3 417.9,64.6 418.8,43.5 420.2,23.3 421.3,33.8 422.3,39.6 423.7,30.0 425.0,17.5 426.5,16.2 427.7,18.5 428.5,26.2 429.4,45.4 430.8,43.5 431.9,27.1 432.7,35.8 433.5,51.2 434.6,72.3 436.2,91.5 439.0,106.9 441.5,118.5 443.8,126.2" fill="none" stroke="#b0b0b0" stroke-width="1.3" stroke-linejoin="round"/>
<path d="M391.9,126.5 415.0,126.5 417.9,120.4 420.8,114.6 423.1,105.0 425.0,91.5 426.5,85.8 428.1,74.2 429.4,56.9 430.4,47.3 431.3,39.6 432.7,41.5 434.2,49.2 435.4,62.7 436.2,53.1 437.1,41.5 438.1,45.4 439.2,33.8 440.4,20.4 441.3,15.6 442.3,24.2 443.5,39.6 444.4,56.9 445.8,71.3 446.7,66.5 448.3,49.2 449.2,33.8 450.4,20.4 451.2,15.6 451.9,24.2 453.1,28.1 445.0,71.3 446.9,62.7 448.5,51.2 449.8,33.8 450.8,16.5 451.7,15.6 452.7,20.4 453.3,28.1 454.6,28.1 455.6,37.7 456.5,49.2 457.5,62.7 458.5,81.9 459.4,97.3 460.4,99.2 461.3,85.8 461.9,68.5 462.7,60.8 463.5,62.7 464.2,81.9 465.2,101.2 466.2,112.7 467.7,120.4 469.0,124.2 471.0,126.5" fill="none" stroke="#000" stroke-width="2.0" stroke-linejoin="round"/>
<rect x="391.5" y="8.5" width="118.5" height="118.2" fill="none" stroke="#222" stroke-width="0.9"/>
<line x1="389.0" y1="126.7" x2="391.5" y2="126.7" stroke="#000" stroke-width="0.7"/>
<text x="387.7" y="128.7" font-size="5.5" font-weight="bold" text-anchor="end" fill="#333">0</text>
<line x1="389.0" y1="104.2" x2="391.5" y2="104.2" stroke="#000" stroke-width="0.7"/>
<text x="387.7" y="106.2" font-size="5.5" font-weight="bold" text-anchor="end" fill="#333">20</text>
<line x1="389.0" y1="81.7" x2="391.5" y2="81.7" stroke="#000" stroke-width="0.7"/>
<text x="387.7" y="83.7" font-size="5.5" font-weight="bold" text-anchor="end" fill="#333">40</text>
<line x1="389.0" y1="59.2" x2="391.5" y2="59.2" stroke="#000" stroke-width="0.7"/>
<text x="387.7" y="61.2" font-size="5.5" font-weight="bold" text-anchor="end" fill="#333">60</text>
<line x1="389.0" y1="36.7" x2="391.5" y2="36.7" stroke="#000" stroke-width="0.7"/>
<text x="387.7" y="38.7" font-size="5.5" font-weight="bold" text-anchor="end" fill="#333">80</text>
<line x1="389.0" y1="14.200000000000003" x2="391.5" y2="14.200000000000003" stroke="#000" stroke-width="0.7"/>
<text x="387.7" y="16.200000000000003" font-size="5.5" font-weight="bold" text-anchor="end" fill="#333">100</text>
<line x1="390.3" y1="122.2" x2="391.5" y2="122.2" stroke="#000" stroke-width="0.4"/>
<line x1="390.3" y1="117.7" x2="391.5" y2="117.7" stroke="#000" stroke-width="0.4"/>
<line x1="390.3" y1="113.2" x2="391.5" y2="113.2" stroke="#000" stroke-width="0.4"/>
<line x1="390.3" y1="108.7" x2="391.5" y2="108.7" stroke="#000" stroke-width="0.4"/>
<line x1="390.3" y1="104.2" x2="391.5" y2="104.2" stroke="#000" stroke-width="0.4"/>
<line x1="390.3" y1="99.7" x2="391.5" y2="99.7" stroke="#000" stroke-width="0.4"/>
<line x1="390.3" y1="95.2" x2="391.5" y2="95.2" stroke="#000" stroke-width="0.4"/>
<line x1="390.3" y1="90.7" x2="391.5" y2="90.7" stroke="#000" stroke-width="0.4"/>
<line x1="390.3" y1="86.2" x2="391.5" y2="86.2" stroke="#000" stroke-width="0.4"/>
<line x1="390.3" y1="81.7" x2="391.5" y2="81.7" stroke="#000" stroke-width="0.4"/>
<line x1="390.3" y1="77.2" x2="391.5" y2="77.2" stroke="#000" stroke-width="0.4"/>
<line x1="390.3" y1="72.7" x2="391.5" y2="72.7" stroke="#000" stroke-width="0.4"/>
<line x1="390.3" y1="68.2" x2="391.5" y2="68.2" stroke="#000" stroke-width="0.4"/>
<line x1="390.3" y1="63.7" x2="391.5" y2="63.7" stroke="#000" stroke-width="0.4"/>
<line x1="390.3" y1="59.2" x2="391.5" y2="59.2" stroke="#000" stroke-width="0.4"/>
<line x1="390.3" y1="54.7" x2="391.5" y2="54.7" stroke="#000" stroke-width="0.4"/>
<line x1="390.3" y1="50.2" x2="391.5" y2="50.2" stroke="#000" stroke-width="0.4"/>
<line x1="390.3" y1="45.7" x2="391.5" y2="45.7" stroke="#000" stroke-width="0.4"/>
<line x1="390.3" y1="41.2" x2="391.5" y2="41.2" stroke="#000" stroke-width="0.4"/>
<line x1="390.3" y1="36.7" x2="391.5" y2="36.7" stroke="#000" stroke-width="0.4"/>
<line x1="390.3" y1="32.2" x2="391.5" y2="32.2" stroke="#000" stroke-width="0.4"/>
<line x1="390.3" y1="27.700000000000003" x2="391.5" y2="27.700000000000003" stroke="#000" stroke-width="0.4"/>
<line x1="390.3" y1="23.200000000000003" x2="391.5" y2="23.200000000000003" stroke="#000" stroke-width="0.4"/>
<line x1="390.3" y1="18.700000000000003" x2="391.5" y2="18.700000000000003" stroke="#000" stroke-width="0.4"/>
<line x1="404.6" y1="126.7" x2="404.6" y2="128.9" stroke="#000" stroke-width="0.7"/>
<line x1="416" y1="126.7" x2="416" y2="128.9" stroke="#000" stroke-width="0.7"/>
<line x1="445.6" y1="126.7" x2="445.6" y2="128.9" stroke="#000" stroke-width="0.7"/>
<line x1="471.5" y1="126.7" x2="471.5" y2="128.9" stroke="#000" stroke-width="0.7"/>
<line x1="498.4" y1="126.7" x2="498.4" y2="128.9" stroke="#000" stroke-width="0.7"/>
<line x1="395" y1="126.7" x2="395" y2="127.9" stroke="#000" stroke-width="0.4"/>
<line x1="399" y1="126.7" x2="399" y2="127.9" stroke="#000" stroke-width="0.4"/>
<line x1="410" y1="126.7" x2="410" y2="127.9" stroke="#000" stroke-width="0.4"/>
<line x1="420" y1="126.7" x2="420" y2="127.9" stroke="#000" stroke-width="0.4"/>
<line x1="425" y1="126.7" x2="425" y2="127.9" stroke="#000" stroke-width="0.4"/>
<line x1="430" y1="126.7" x2="430" y2="127.9" stroke="#000" stroke-width="0.4"/>
<line x1="434" y1="126.7" x2="434" y2="127.9" stroke="#000" stroke-width="0.4"/>
<line x1="437" y1="126.7" x2="437" y2="127.9" stroke="#000" stroke-width="0.4"/>
<line x1="440" y1="126.7" x2="440" y2="127.9" stroke="#000" stroke-width="0.4"/>
<line x1="443" y1="126.7" x2="443" y2="127.9" stroke="#000" stroke-width="0.4"/>
<line x1="452" y1="126.7" x2="452" y2="127.9" stroke="#000" stroke-width="0.4"/>
<line x1="457" y1="126.7" x2="457" y2="127.9" stroke="#000" stroke-width="0.4"/>
<line x1="461" y1="126.7" x2="461" y2="127.9" stroke="#000" stroke-width="0.4"/>
<line x1="464" y1="126.7" x2="464" y2="127.9" stroke="#000" stroke-width="0.4"/>
<line x1="467" y1="126.7" x2="467" y2="127.9" stroke="#000" stroke-width="0.4"/>
<line x1="469" y1="126.7" x2="469" y2="127.9" stroke="#000" stroke-width="0.4"/>
<line x1="477" y1="126.7" x2="477" y2="127.9" stroke="#000" stroke-width="0.4"/>
<line x1="482" y1="126.7" x2="482" y2="127.9" stroke="#000" stroke-width="0.4"/>
<line x1="486" y1="126.7" x2="486" y2="127.9" stroke="#000" stroke-width="0.4"/>
<line x1="489" y1="126.7" x2="489" y2="127.9" stroke="#000" stroke-width="0.4"/>
<line x1="492" y1="126.7" x2="492" y2="127.9" stroke="#000" stroke-width="0.4"/>
<line x1="494" y1="126.7" x2="494" y2="127.9" stroke="#000" stroke-width="0.4"/>
<line x1="496" y1="126.7" x2="496" y2="127.9" stroke="#000" stroke-width="0.4"/>
<text x="404.6" y="136.2" font-size="4.5" text-anchor="middle" fill="#222">0</text>
<text x="415.2" y="136.2" font-size="4.5" text-anchor="middle" fill="#222">10</text>
<text x="417.7" y="133.6" font-size="3" fill="#222">2</text>
<text x="444.8" y="136.2" font-size="4.5" text-anchor="middle" fill="#222">10</text>
<text x="447.3" y="133.6" font-size="3" fill="#222">3</text>
<text x="470.7" y="136.2" font-size="4.5" text-anchor="middle" fill="#222">10</text>
<text x="473.2" y="133.6" font-size="3" fill="#222">4</text>
<text x="497.59999999999997" y="136.2" font-size="4.5" text-anchor="middle" fill="#222">10</text>
<text x="500.09999999999997" y="133.6" font-size="3" fill="#222">5</text>
<text x="392.5" y="152" font-size="11.5" textLength="32.3" lengthAdjust="spacingAndGlyphs" stroke="#000" stroke-width="0.2">CD11c</text>
<path d="M435,147.8 L492.5,147.8" fill="none" stroke="#000" stroke-width="2.2"/>
<path d="M487.0,142.8 L493.5,147.8 L487.0,152.8" fill="none" stroke="#000" stroke-width="2.2" stroke-linejoin="miter"/>
<line x1="35.8" y1="228.5" x2="35.8" y2="346.5" stroke="#000" stroke-width="2"/>
<line x1="34.8" y1="345.5" x2="225" y2="345.5" stroke="#000" stroke-width="2"/>
<line x1="31.4" y1="345.5" x2="35.8" y2="345.5" stroke="#000" stroke-width="1.4"/>
<text x="30.799999999999997" y="348.6" font-size="9" font-weight="bold" text-anchor="end">0</text>
<line x1="31.4" y1="329.0" x2="35.8" y2="329.0" stroke="#000" stroke-width="1.4"/>
<text x="30.799999999999997" y="332.1" font-size="9" font-weight="bold" text-anchor="end">2</text>
<line x1="31.4" y1="312.5" x2="35.8" y2="312.5" stroke="#000" stroke-width="1.4"/>
<text x="30.799999999999997" y="315.6" font-size="9" font-weight="bold" text-anchor="end">4</text>
<line x1="31.4" y1="296.0" x2="35.8" y2="296.0" stroke="#000" stroke-width="1.4"/>
<text x="30.799999999999997" y="299.1" font-size="9" font-weight="bold" text-anchor="end">6</text>
<line x1="31.4" y1="279.5" x2="35.8" y2="279.5" stroke="#000" stroke-width="1.4"/>
<text x="30.799999999999997" y="282.6" font-size="9" font-weight="bold" text-anchor="end">8</text>
<line x1="31.4" y1="263.0" x2="35.8" y2="263.0" stroke="#000" stroke-width="1.4"/>
<text x="30.799999999999997" y="266.1" font-size="9" font-weight="bold" text-anchor="end">10</text>
<line x1="31.4" y1="246.5" x2="35.8" y2="246.5" stroke="#000" stroke-width="1.4"/>
<text x="30.799999999999997" y="249.6" font-size="9" font-weight="bold" text-anchor="end">12</text>
<line x1="31.4" y1="230.0" x2="35.8" y2="230.0" stroke="#000" stroke-width="1.4"/>
<text x="30.799999999999997" y="233.1" font-size="9" font-weight="bold" text-anchor="end">14</text>
<line x1="83.2" y1="345.5" x2="83.2" y2="348.5" stroke="#000" stroke-width="1.3"/>
<line x1="177.5" y1="345.5" x2="177.5" y2="348.5" stroke="#000" stroke-width="1.3"/>
<text x="75" y="356.7" font-size="8.8" font-weight="bold" textLength="15" lengthAdjust="spacingAndGlyphs">HIS</text>
<text x="155.2" y="357.1" font-size="8.6" font-weight="bold" textLength="44.4" lengthAdjust="spacingAndGlyphs">HIS SGM3</text>
<text transform="translate(17.4,350.8) rotate(-90)" font-size="10.3" font-weight="bold" textLength="88.3" lengthAdjust="spacingAndGlyphs">% of CD1c+ CD123</text>
<text transform="translate(11.3,259.2) rotate(-90)" font-size="6.2" font-weight="bold" textLength="12.4" lengthAdjust="spacingAndGlyphs">low</text>
<text transform="translate(17.4,244.2) rotate(-90)" font-size="10.3" font-weight="bold" textLength="20.5" lengthAdjust="spacingAndGlyphs">cells</text>
<rect x="80.65" y="315.65" width="5.2" height="5.2"/>
<rect x="88.15" y="313.65" width="5.2" height="5.2"/>
<rect x="80.65" y="326.65" width="5.2" height="5.2"/>
<rect x="72.90" y="333.65" width="5.2" height="5.2"/>
<rect x="80.65" y="338.15" width="5.2" height="5.2"/>
<rect x="88.15" y="336.65" width="5.2" height="5.2"/>
<line x1="51.2" y1="329.2" x2="114.3" y2="329.2" stroke="#000" stroke-width="1.4"/>
<path d="M174.50,256.00L177.50,250.50L180.50,256.00Z"/>
<path d="M182.00,276.50L185.00,271.00L188.00,276.50Z"/>
<path d="M174.50,282.00L177.50,276.50L180.50,282.00Z"/>
<path d="M167.00,294.00L170.00,288.50L173.00,294.00Z"/>
<path d="M174.50,296.00L177.50,290.50L180.50,296.00Z"/>
<path d="M182.00,302.75L185.00,297.25L188.00,302.75Z"/>
<path d="M174.50,309.00L177.50,303.50L180.50,309.00Z"/>
<path d="M174.50,317.75L177.50,312.25L180.50,317.75Z"/>
<path d="M174.50,325.25L177.50,319.75L180.50,325.25Z"/>
<line x1="145" y1="292.7" x2="208.8" y2="292.7" stroke="#000" stroke-width="1.4"/>
<line x1="115.4" y1="293.7" x2="137.3" y2="293.7" stroke="#000" stroke-width="2.3"/>
<text x="124.1" y="293.3" font-size="14" font-weight="bold" text-anchor="middle">*</text>
<text x="130.5" y="293.3" font-size="14" font-weight="bold" text-anchor="middle">*</text>
<text x="299.3" y="194.3" font-size="9.2" textLength="41.3" lengthAdjust="spacingAndGlyphs" stroke="#000" stroke-width="0.15">HIS SGM3</text>
<text x="314.7" y="283.2" font-size="9.2" textLength="13.5" lengthAdjust="spacingAndGlyphs" stroke="#000" stroke-width="0.15">HIS</text>
<path d="M308 205.5h0m6.5 0h0m-19 2h0m3 0h0m6-.5h0m6-.5h0m0 1h0m1.5 0h0m-18.5 1h0m3.5 .5h0m5 .5h0m2-1h0m.5 1h0m-9.5 .5h0m1 1.5h0m0-.5h0m0-1h0m2 1h0m.5 0h0m1-1h0m.5 1.5h0m1-1.5h0m1.5 1.5h0m.5 0h0m1-.5h0m1 .5h0m.5-1h0m.5 .5h0m0-.5h0m.5-.5h0m.5 .5h0m2-.5h0m.5 1h0m1 0h0m1.5-1h0m1 1h0m0-.5h0m-18.5 3h0m1 0h0m1 0h0m0-.5h0m1-.5h0m0 .5h0m.5-1h0m0 1h0m0 .5h0m.5-1h0m.5 1h0m0-1h0m.5 0h0m0-.5h0m.5 0h0m.5 0h0m0 1h0m.5 0h0m0-1h0m.5 0h0m0 1.5h0m0-1.5h0m.5 1h0m1-.5h0m0 .5h0m0-.5h0m.5 0h0m.5-.5h0m0 1.5h0m.5 0h0m0-1h0m0 1h0m.5-1.5h0m.5 1h0m0 .5h0m0-.5h0m1 0h0m0-.5h0m.5 0h0m0 1h0m.5-1.5h0m.5 1.5h0m0-.5h0m0-.5h0m0-.5h0m0 1.5h0m1-1h0m.5 .5h0m.5-.5h0m0 .5h0m.5-.5h0m1 0h0m.5 0h0m0 .5h0m0-.5h0m1 0h0m2 .5h0m.5 0h0m-23 1h0m0 1h0m.5 0h0m1-1h0m.5 0h0m0 1h0m.5 0h0m.5 .5h0m.5 0h0m.5 0h0m0-.5h0m.5 0h0m0-1h0m.5 1.5h0m.5-1h0m.5-.5h0m.5 .5h0m0 .5h0m0-1h0m1 1.5h0m0-.5h0m.5-.5h0m.5 1h0m0-.5h0m.5 .5h0m1-1h0m0 1h0m.5-1h0m1 1h0m.5-1.5h0m0 1h0m.5 0h0m.5 0h0m0-.5h0m.5-.5h0m.5 0h0m0 .5h0m.5-.5h0m.5 0h0m1 1.5h0m1.5 0h0m0-1.5h0m0 .5h0m1.5-.5h0m.5 1h0m2-.5h0m.5 0h0m3.5 .5h0m-21.5 2h0m.5-1h0m.5 0h0m1 0h0m.5 0h0m1 .5h0m0 1h0m.5-1h0m.5-.5h0m0 .5h0m.5-.5h0m0 .5h0m.5 0h0m.5 1h0m3.5-1h0m.5 1h0m3.5-1.5h0m1 0h0m1 0h0m-15 2h0m1 .5h0m1.5 .5h0m3-.5h0m3 0h0m3-.5h0m1.5 1h0m2-.5h0m-16 1.5h0m14 0h0m-8.5 3h0m2.5-1h0m-4 3h0m6 .5h0" stroke="#666" stroke-width="0.5" stroke-linecap="square" fill="none"/>
<path d="M334 205h0m6.5 5.5h0m5 4.5h0m-22.5 4.5h0m5.5-1.5h0m23 1h0m-33.5 2.5h0m1-.5h0m9.5 .5h0m5.5 0h0m-16.5 1.5h0m.5-.5h0m3 0h0m1-.5h0m3 .5h0m.5 1h0m-7 .5h0m4.5 .5h0m4.5 1h0m1.5-.5h0m1 .5h0m1-.5h0m-11 1h0m3 0h0m3.5 0h0m0 1.5h0m5.5-1.5h0m2 .5h0m.5 0h0m-22.5 3h0m1-1.5h0m2.5 1h0m1.5 0h0m.5-.5h0m1.5 1h0m.5-1.5h0m2 1h0m1 .5h0m0-.5h0m.5-1h0m.5 1.5h0m1.5-1h0m1 .5h0m0 .5h0m2.5-1h0m1.5 .5h0m.5-.5h0m0 .5h0m6 0h0m1.5 0h0m-30 2h0m5.5 .5h0m2.5 0h0m.5-1.5h0m1 .5h0m.5 1h0m2-1h0m1 1h0m2-.5h0m.5 .5h0m1 0h0m.5 0h0m.5 0h0m2-1h0m2 0h0m.5 1h0m1 0h0m1.5-.5h0m1-.5h0m3 .5h0m0-.5h0m1.5-.5h0m2.5 0h0m2 .5h0m-34.5 1.5h0m2.5 1h0m1 .5h0m4-.5h0m.5 0h0m.5-1h0m.5 0h0m1.5 .5h0m.5 0h0m1-.5h0m4 .5h0m1 1h0m1 0h0m.5-1.5h0m2.5 1h0m.5-.5h0m8.5 1h0m-20.5 .5h0m0 1.5h0m1 0h0m2.5 0h0m.5-1h0m0 1h0m.5-1h0m1 0h0m0 1h0m2-.5h0m0 .5h0m.5 0h0m1-1.5h0m1 .5h0m0 1h0m.5 0h0m.5-1h0m1 1h0m2.5-1h0m4.5 0h0m0 1h0m3 0h0m2 0h0m2 0h0m-32 1h0m0-.5h0m.5 .5h0m2 1h0m.5-1.5h0m3 1h0m2.5-1h0m0 1.5h0m.5-.5h0m.5 .5h0m0-1.5h0m.5 .5h0m1.5 1h0m1.5-1.5h0m.5 1h0m0-.5h0m0 1h0m.5 0h0m2-.5h0m.5-1h0m2 1h0m.5-1h0m.5 1.5h0m0-1h0m.5 0h0m.5 .5h0m1-1h0m1 1.5h0m.5-1h0m-18.5 3h0m.5 0h0m.5-1h0m.5 .5h0m.5-.5h0m.5 .5h0m0-.5h0m1.5 .5h0m0 .5h0m1.5-1h0m2 1h0m.5-.5h0m1.5-.5h0m0 1h0m0-1.5h0m1 0h0m0 1h0m1 .5h0m0-.5h0m1.5-1h0m.5 .5h0m1 .5h0m1-1h0m.5 .5h0m.5 1h0m0-1.5h0m1.5 1.5h0m.5-1.5h0m2 1h0m3 .5h0m.5-1h0m2 0h0m-30.5 3h0m3-.5h0m1-1h0m.5 1h0m.5-.5h0m.5 .5h0m.5 .5h0m1-1.5h0m.5 .5h0m0-.5h0m.5 0h0m.5 1.5h0m0-.5h0m.5-1h0m0 1.5h0m.5-.5h0m1 0h0m.5-1h0m.5 .5h0m2 0h0m.5 0h0m.5 0h0m0 1h0m.5 0h0m.5-1h0m.5 .5h0m.5-.5h0m0 .5h0m2 0h0m0-.5h0m0-.5h0m.5 1.5h0m0-1h0m.5-.5h0m0 .5h0m1 1h0m1-1h0m.5 1h0m.5-1h0m.5 0h0m0-.5h0m2 1.5h0m2-1h0m-28 3h0m.5-1h0m3.5 .5h0m2.5 .5h0m0-.5h0m.5 0h0m1.5-.5h0m.5 1h0m2.5 0h0m0-1.5h0m2 1.5h0m1.5-1.5h0m.5 .5h0m.5 .5h0m0-.5h0m1 0h0m.5-.5h0m0 1h0m1 .5h0m.5-1h0m2-.5h0m.5 1h0m2.5-.5h0m1.5 .5h0m5.5 0h0m-32 2h0m5.5 .5h0m1-.5h0m1 .5h0m2-1h0m.5 0h0m1 .5h0m0-.5h0m2.5 0h0m.5 0h0m0-.5h0m.5 0h0m1 0h0m.5 .5h0m.5 1h0m0-1.5h0m.5 1.5h0m.5-.5h0m0-.5h0m.5 .5h0m.5-.5h0m2.5 .5h0m.5-1h0m.5 1h0m0-.5h0m0 .5h0m.5-1h0m1.5 .5h0m.5 .5h0m0-.5h0m.5 1h0m3-1h0m.5 1h0m.5-1.5h0m-27 2h0m.5 0h0m3 0h0m2 1.5h0m3-1.5h0m.5 1h0m1 0h0m.5-1h0m.5 0h0m.5 .5h0m0 .5h0m1 .5h0m0-1h0m.5 .5h0m1-1h0m0 1h0m0 .5h0m.5-1.5h0m.5 0h0m.5 0h0m1 .5h0m1 1h0m7.5-1.5h0m-23 3.5h0m.5 0h0m1.5-1.5h0m0 1h0m1 .5h0m1-.5h0m0-.5h0m0-.5h0m1 .5h0m2 0h0m1.5 1h0m1.5-1.5h0m.5 1h0m.5-.5h0m0 1h0m1.5-.5h0m.5 .5h0m.5-1.5h0m.5 0h0m1 1.5h0m2.5-.5h0m.5-1h0m4.5 1h0m5.5-1h0m-30 3.5h0m.5-1h0m3 .5h0m1.5-.5h0m1.5 1h0m.5-1h0m0-.5h0m2 0h0m.5 0h0m1 1h0m1-.5h0m0-.5h0m.5 .5h0m1-.5h0m0 .5h0m.5 .5h0m.5 0h0m0 .5h0m0-1.5h0m1 1.5h0m0-.5h0m1-1h0m1 1h0m1.5 .5h0m.5-1h0m1.5 .5h0m.5-.5h0m3 1h0m1-.5h0m.5-.5h0m2 .5h0m-26.5 1.5h0m.5 1h0m.5 0h0m2 0h0m.5 0h0m2-1.5h0m1 0h0m0 1h0m1.5 0h0m.5-.5h0m.5 0h0m.5 1h0m0-.5h0m.5-.5h0m2-.5h0m1 0h0m1 .5h0m1.5 .5h0m1 0h0m1-.5h0m0 .5h0m1.5 0h0m.5 0h0m1.5-.5h0m1-.5h0m1 0h0m1 1.5h0m2-1h0m2 1h0m-26 2h0m1.5-1.5h0m.5 .5h0m2 .5h0m1-1h0m1 0h0m0 .5h0m.5 1h0m1-1h0m.5-.5h0m3 0h0m1 1.5h0m3.5-.5h0m0-.5h0m2 1h0m1.5 0h0m1-.5h0m-19 1.5h0m.5 .5h0m0 .5h0m2.5-1.5h0m3.5 .5h0m1 0h0m2.5 .5h0m1.5 0h0m3.5 .5h0m2 0h0m3 0h0m1.5-1.5h0m2.5 0h0m1 1.5h0m.5 0h0m1-1h0m-29 2h0m3.5 1h0m3-.5h0m1.5-1h0m1 0h0m1.5 1.5h0m.5-1h0m.5 1h0m.5-.5h0m.5-.5h0m0-.5h0m.5 1.5h0m2-1h0m1 1h0m2-1h0m.5 1h0m3-1h0m.5 .5h0m3.5 0h0m2 .5h0m2-1.5h0m-31.5 2.5h0m4.5 .5h0m5-.5h0m.5 1h0m4.5-1h0m3 .5h0m5.5-.5h0m.5 1h0m.5-1.5h0m0 1.5h0m1-1.5h0m2 1h0m0-.5h0m1-.5h0m-24.5 2.5h0m1.5 1h0m0-1.5h0m1.5 1h0m0 .5h0m2 0h0m.5-1h0m2.5 .5h0m1 0h0m1.5 0h0m2 0h0m1-.5h0m.5-.5h0m.5 1h0m3.5-1h0m4 0h0m4 1.5h0m-26 2h0m7.5-1h0" stroke="#888" stroke-width="0.5" stroke-linecap="square" fill="none"/>
<path d="M295.5 219h0m1.5-.5h0m1-.5h0m.5 1.5h0m.5 .5h0m1.5 1h0m5.5-.5h0m.5 .5h0m-11.5 2h0m3 0h0m1-.5h0m6.5 1h0m-8 2h0m4.5-1h0m1 .5h0m.5 .5h0m1-1.5h0m2 1.5h0m-12.5 2h0m.5 0h0m.5-1h0m1.5 1h0m.5-1.5h0m.5 0h0m1.5 1.5h0m2 0h0m1-1h0m1-.5h0m3 .5h0m1 .5h0m-14 2h0m1.5-.5h0m0-.5h0m.5 1h0m.5 .5h0m0-1.5h0m.5 1h0m.5 0h0m.5-.5h0m0 .5h0m.5 .5h0m0-1h0m0-.5h0m0 1h0m.5 0h0m.5 .5h0m2-.5h0m0-.5h0m0 1h0m.5-.5h0m.5-.5h0m.5 1h0m0-.5h0m1 0h0m0 .5h0m2.5-.5h0m.5 0h0m.5 .5h0m.5-.5h0m.5-1h0m0 1h0m1-1h0m.5 1h0m.5-.5h0m.5-.5h0m1.5 0h0m-18.5 3.5h0m0-1h0m0 1h0m0-1h0m.5 .5h0m1 .5h0m0-1.5h0m.5 .5h0m0-.5h0m0 1h0m.5-.5h0m.5 .5h0m0-.5h0m.5 1h0m0-.5h0m0-1h0m0 1h0m0 .5h0m0-1h0m.5 0h0m0 .5h0m0-1h0m.5 1h0m.5-1h0m1 .5h0m.5 .5h0m0 .5h0m.5-.5h0m.5 .5h0m1-1h0m0 1h0m.5 0h0m.5 0h0m0-1.5h0m.5 0h0m.5 1.5h0m0-.5h0m1-.5h0m1 1h0m0-1.5h0m.5 1.5h0m0-1.5h0m0 1h0m.5 0h0m.5-1h0m1 .5h0m.5-.5h0m0 1.5h0m.5-1h0m0-.5h0m.5 1.5h0m.5-1h0m0-.5h0m1.5 0h0m0 1.5h0m3-.5h0m-22 2.5h0m1-1.5h0m0 1h0m0 .5h0m.5 0h0m0-1h0m0-.5h0m.5 1.5h0m0-.5h0m.5-1h0m.5 1h0m0-1h0m0 .5h0m.5-.5h0m0 1.5h0m.5-1h0m.5-.5h0m0 1h0m.5-1h0m.5 .5h0m0-.5h0m0 .5h0m.5 .5h0m0 .5h0m0-1.5h0m0 1h0m.5-.5h0m.5 .5h0m0-1h0m.5 1.5h0m.5-.5h0m.5 0h0m.5 .5h0m0-1h0m.5 0h0m.5 1h0m.5-1h0m0 1h0m.5-.5h0m.5 .5h0m.5-1h0m.5 0h0m1 0h0m.5 1h0m0-.5h0m.5 .5h0m0-.5h0m.5 0h0m1 .5h0m1-.5h0m.5 .5h0m.5-1.5h0m0 1.5h0m.5-1h0m1 1h0m0-1h0m.5 0h0m0 .5h0m1.5-.5h0m-21.5 1.5h0m0 .5h0m.5 1h0m.5-1.5h0m.5 1.5h0m0-1h0m0-.5h0m.5 1.5h0m0-1h0m0 1h0m.5-1.5h0m0 .5h0m.5-.5h0m0 1.5h0m0-1h0m0 1h0m0-.5h0m0-.5h0m0 1h0m.5 0h0m0-.5h0m.5-.5h0m0 1h0m0-1h0m0-.5h0m.5 1h0m0-.5h0m0-.5h0m0 1h0m.5-.5h0m.5-.5h0m0 1h0m.5 0h0m0-.5h0m.5 1h0m0-1.5h0m0 .5h0m.5 .5h0m0-.5h0m0-.5h0m.5 1h0m0-1h0m0 .5h0m.5 1h0m.5-1.5h0m0 1.5h0m.5-.5h0m0-.5h0m0 1h0m1 0h0m0-1.5h0m1.5 1.5h0m0-1h0m0-.5h0m0 .5h0m0-.5h0m.5 0h0m0 1.5h0m1-.5h0m0-.5h0m.5 0h0m.5 0h0m.5 .5h0m.5 0h0m.5 0h0m.5 0h0m1 .5h0m.5-1h0m1 1h0m0-1h0m1 1h0m0-1h0m.5 0h0m0-.5h0m0 1.5h0m.5 0h0m0-1.5h0m1 1h0m-21.5 1.5h0m0 1h0m0-1h0m.5 1h0m0-1.5h0m.5 1.5h0m0-1h0m0 .5h0m.5 0h0m0-.5h0m0-.5h0m.5 1h0m.5 .5h0m0-.5h0m0-.5h0m.5-.5h0m0 1h0m0-1h0m0 1.5h0m.5 0h0m0-1h0m0 .5h0m0-1h0m.5 1h0m0 .5h0m0-1.5h0m0 .5h0m0 .5h0m0-.5h0m.5 .5h0m0-.5h0m0 .5h0m.5-1h0m0 1h0m0-.5h0m.5-.5h0m0 .5h0m0-.5h0m.5 .5h0m0 .5h0m.5-1h0m0 .5h0m0-.5h0m0 1.5h0m0-1.5h0m.5 1h0m0-1h0m0 .5h0m.5 1h0m0-.5h0m0-1h0m0 .5h0m0-.5h0m.5 1.5h0m0-.5h0m0 .5h0m.5-.5h0m0-.5h0m.5-.5h0m0 1h0m.5-1h0m0 1h0m.5 0h0m0-1h0m0 1.5h0m.5 0h0m.5-1h0m0 1h0m0-.5h0m.5 0h0m.5 0h0m0 .5h0m.5-1.5h0m0 .5h0m.5-.5h0m0 .5h0m0 .5h0m.5 0h0m1-1h0m.5 0h0m.5 1h0m.5-1h0m.5 1h0m0 .5h0m.5-1h0m0-.5h0m.5 1.5h0m.5-1h0m.5 1h0m.5-1.5h0m.5 1h0m2.5 0h0m-22 1.5h0m0 1h0m0-1h0m0 .5h0m.5 .5h0m0-1h0m0-.5h0m0 1.5h0m0-1.5h0m.5 0h0m0 .5h0m.5 0h0m0 .5h0m0-.5h0m0-.5h0m.5 .5h0m0 .5h0m0-.5h0m.5 0h0m0-.5h0m0 1.5h0m0-.5h0m0-1h0m0 1h0m0-.5h0m1-.5h0m0 1.5h0m0-1h0m0 .5h0m.5 0h0m0 .5h0m0-.5h0m0 .5h0m0-.5h0m0-1h0m.5 0h0m0 .5h0m.5-.5h0m0 1.5h0m0-1h0m0 .5h0m.5 .5h0m0-1h0m0 .5h0m0-1h0m.5 .5h0m0 .5h0m0-.5h0m0 .5h0m0-.5h0m0 1h0m.5-.5h0m0 .5h0m0-1.5h0m.5 1h0m0-.5h0m0-.5h0m0 1h0m.5-.5h0m0-.5h0m0 1h0m0 .5h0m.5-.5h0m0-1h0m.5 .5h0m0 1h0m0-.5h0m0-1h0m0 1h0m.5-1h0m0 1.5h0m0-.5h0m0-1h0m0 1.5h0m.5-.5h0m.5-1h0m.5 0h0m.5 .5h0m0 .5h0m0 .5h0m.5-1h0m0-.5h0m0 1.5h0m1-1.5h0m0 .5h0m0 .5h0m0-1h0m.5 .5h0m0 1h0m0-.5h0m.5-1h0m0 1.5h0m0-1.5h0m0 1h0m0 .5h0m.5 0h0m.5-1h0m.5 .5h0m.5 .5h0m.5-.5h0m.5-1h0m.5 .5h0m.5 .5h0m0 .5h0m.5-1.5h0m0 .5h0m1.5 .5h0m1-1h0m1 1.5h0m.5-.5h0m0-.5h0m.5 .5h0m-22.5 2h0m0-1h0m0 .5h0m.5 .5h0m.5-.5h0m0-.5h0m0 1.5h0m0-.5h0m0-.5h0m0 1h0m.5-1h0m0-.5h0m0 .5h0m.5 .5h0m0-1h0m0 1.5h0m.5-1h0m0-.5h0m0 1.5h0m0-.5h0m.5-.5h0m0 .5h0m0-.5h0m0-.5h0m.5 0h0m0 1h0m0-1h0m0 .5h0m0-.5h0m.5 1h0m0 .5h0m0-.5h0m0-1h0m0 1.5h0m.5 0h0m0-.5h0m0-.5h0m0-.5h0m0 .5h0m0 1h0m0-.5h0m.5-.5h0m0 1h0m.5-.5h0m0 .5h0m0-1h0m0 .5h0m.5 0h0m0-.5h0m0-.5h0m0 .5h0m0 .5h0m.5-.5h0m0-.5h0m0 .5h0m0 1h0m.5-1h0m0 1h0m0-1.5h0m.5 1.5h0m0-.5h0m0-.5h0m0 .5h0m0-1h0m.5 .5h0m0 1h0m0-1.5h0m.5 1.5h0m0-1h0m0 .5h0m0-.5h0m.5 0h0m0 .5h0m0-.5h0m0 1h0m.5-1h0m0 .5h0m0 .5h0m.5 0h0m0-.5h0m0-1h0m.5 1h0m0 .5h0m0-1h0m.5-.5h0m0 1.5h0m0-1h0m.5 0h0m0-.5h0m.5 1.5h0m0-1.5h0m0 .5h0m0 .5h0m0 .5h0m.5-.5h0m0-1h0m.5 .5h0m.5 .5h0m0 .5h0m1.5 0h0m1-.5h0m.5 .5h0m1.5 0h0m1 0h0m1.5-1h0m.5 .5h0m.5-1h0m.5 .5h0m-22 2.5h0m.5 .5h0m0-1.5h0m0 1h0m0 .5h0m0-1.5h0m0 .5h0m0 1h0m.5-1h0m0 .5h0m0 .5h0m.5-1.5h0m0 1.5h0m0-1h0m0-.5h0m0 .5h0m0 1h0m0-1h0m0 1h0m0-.5h0m0-1h0m0 1h0m0 .5h0m.5-1.5h0m0 .5h0m0-.5h0m0 1h0m0 .5h0m0-1h0m.5-.5h0m0 1.5h0m0-1h0m0-.5h0m.5 .5h0m0-.5h0m0 1.5h0m0-1.5h0m.5 1.5h0m0-1.5h0m0 1h0m0 .5h0m0-1h0m.5 0h0m0 1h0m0-1.5h0m0 1h0m.5 .5h0m0-.5h0m0-.5h0m0 1h0m0-.5h0m0-.5h0m0-.5h0m0 1h0m0-.5h0m0 .5h0m0-1h0m0 1h0m0-1h0m0 1.5h0m0-.5h0m.5 0h0m0 .5h0m0-1.5h0m0 .5h0m.5 .5h0m0 .5h0m0-1.5h0m0 1.5h0m0-1h0m0-.5h0m0 .5h0m.5 .5h0m0-.5h0m0 .5h0m0 .5h0m0-.5h0m0-.5h0m.5 1h0m0-1h0m0-.5h0m0 1.5h0m0-1.5h0m.5 .5h0m0-.5h0m0 1.5h0m0-1h0m0 1h0m0-1.5h0m0 1.5h0m.5-.5h0m0-.5h0m0 .5h0m.5-.5h0m0 .5h0m0 .5h0m0-1.5h0m0 .5h0m.5 0h0m0-.5h0m0 1h0m0-1h0m0 1h0m0-.5h0m0 .5h0m0 .5h0m0-1.5h0m0 1h0m0-.5h0m.5 .5h0m0 .5h0m0-.5h0m0-1h0m0 1.5h0m0-1.5h0m0 .5h0m0 .5h0m.5-.5h0m0-.5h0m.5 1h0m0 .5h0m0-1.5h0m.5 0h0m.5 0h0m0 .5h0m.5 .5h0m.5-1h0m0 1.5h0m0-1h0m0 1h0m.5-1.5h0m0 1.5h0m0-1.5h0m.5 0h0m0 1.5h0m.5-1.5h0m0 .5h0m0 1h0m.5 0h0m.5 0h0m0-.5h0m1-1h0m0 1.5h0m0-.5h0m0-1h0m0 .5h0m.5 1h0m.5-1h0m0 1h0m.5 0h0m.5-.5h0m.5 .5h0m1-1.5h0m0 1.5h0m.5-1h0m.5 0h0m1 1h0m.5-1.5h0m1 1.5h0m-22.5 1h0m0 .5h0m.5 0h0m0 .5h0m.5-1h0m.5 1h0m0-1h0m0 .5h0m.5 0h0m0 .5h0m0-1h0m0 1h0m0-1h0m0 1h0m0-.5h0m0 .5h0m0-1.5h0m0 .5h0m0 1h0m.5 0h0m0-1h0m0 .5h0m0 .5h0m0-1h0m0 .5h0m0-1h0m0 1.5h0m.5-.5h0m0-.5h0m.5-.5h0m0 1h0m0-1h0m0 1.5h0m0-1h0m.5-.5h0m0 1.5h0m0-.5h0m0-1h0m.5 1h0m0-1h0m0 1.5h0m0-1.5h0m0 .5h0m0 1h0m0-.5h0m0-1h0m.5 0h0m0 1h0m0-1h0m0 1h0m0 .5h0m0-.5h0m.5 .5h0m0-.5h0m0-.5h0m0 .5h0m0 .5h0m0-1h0m.5 1h0m0-1h0m0 1h0m0-1h0m0 1h0m0-.5h0m.5-.5h0m0-.5h0m0 1.5h0m.5-1.5h0m0 .5h0m.5 1h0m0-1h0m0 .5h0m0-1h0m.5 1.5h0m0-.5h0m0-1h0m0 1.5h0m.5-1h0m0 1h0m0-.5h0m0 .5h0m0-1.5h0m0 1.5h0m.5-1h0m0 .5h0m0 .5h0m0-1h0m0 .5h0m0-.5h0m0-.5h0m.5 0h0m0 .5h0m0-.5h0m.5 1h0m0 .5h0m0-.5h0m1 0h0m0-.5h0m0 .5h0m1 0h0m0 .5h0m.5-1.5h0m.5 1h0m.5 .5h0m0-1.5h0m1.5 .5h0m0 .5h0m0-1h0m.5 1.5h0m.5-.5h0m0 .5h0m0-1.5h0m0 1.5h0m.5-.5h0m0-.5h0m0-.5h0m0 1h0m.5-1h0m0 1.5h0m.5-.5h0m.5 .5h0m0-1h0m2 0h0m.5 1h0m0-1h0m0-.5h0m.5 .5h0m0-.5h0m.5 .5h0m.5-.5h0m0 1.5h0m0-.5h0m-22 1.5h0m0 .5h0m0 .5h0m.5 0h0m0-1h0m0 1h0m.5-1h0m0 1h0m0-1h0m0-.5h0m0 1.5h0m0-1h0m0-.5h0m0 1.5h0m.5 0h0m0-1h0m0 .5h0m0-1h0m0 1.5h0m0-1.5h0m.5 0h0m0 1h0m0-.5h0m0 .5h0m0-.5h0m.5 1h0m0-1.5h0m0 .5h0m0-.5h0m0 1h0m.5-.5h0m0 1h0m0-1.5h0m0 1.5h0m.5-.5h0m0 .5h0m0-.5h0m0-.5h0m0-.5h0m0 1.5h0m0-1h0m0-.5h0m.5 .5h0m0 1h0m0-1.5h0m0 1.5h0m0-.5h0m.5 0h0m0 .5h0m0-.5h0m0-1h0m0 1.5h0m0-1h0m0 1h0m0-.5h0m0 .5h0m.5-1h0m0 .5h0m0 .5h0m0-1h0m0-.5h0m0 1h0m0-.5h0m.5-.5h0m0 1h0m0-1h0m0 .5h0m0 .5h0m0 .5h0m0-1.5h0m0 1.5h0m0-.5h0m.5 .5h0m0-1.5h0m0 1.5h0m0-.5h0m.5 .5h0m0-1.5h0m0 .5h0m0 1h0m.5-1.5h0m0 1.5h0m0-1h0m0 1h0m.5 0h0m0-.5h0m0 .5h0m0-.5h0m.5-.5h0m0 .5h0m0-.5h0m0-.5h0m0 1.5h0m0-.5h0m.5 0h0m0-1h0m0 .5h0m0-.5h0m0 .5h0m.5 0h0m0 .5h0m0-1h0m0 1h0m0 .5h0m0-1.5h0m0 1.5h0m.5-1h0m0 1h0m0-1.5h0m0 .5h0m0 .5h0m0-.5h0m.5-.5h0m0 .5h0m0 1h0m0-1h0m0 .5h0m0-.5h0m.5-.5h0m0 1.5h0m0-.5h0m.5 0h0m0-1h0m.5 .5h0m0 1h0m.5-.5h0m0 .5h0m0-.5h0m0 .5h0m.5 0h0m0-1h0m0 1h0m.5 0h0m0-.5h0m.5 0h0m0-1h0m0 1.5h0m0-1.5h0m.5 1.5h0m.5-1h0m.5 0h0m0 .5h0m0-.5h0m0 1h0m0-1h0m.5-.5h0m0 1.5h0m.5-.5h0m0 .5h0m.5-.5h0m0-1h0m1 1h0m0-.5h0m2 .5h0m1-.5h0m.5 .5h0m1 0h0m.5-.5h0m0 .5h0m1 0h0m-23.5 2.5h0m0-1.5h0m.5 .5h0m0 1h0m0-1h0m0 .5h0m0-1h0m0 .5h0m0 .5h0m0-.5h0m0 .5h0m.5-.5h0m0 1h0m0-1h0m0 1h0m0-1h0m0 .5h0m.5-.5h0m0 .5h0m0 .5h0m0-1h0m.5 1h0m0-1h0m0 1h0m.5-1h0m0 1h0m0-1.5h0m0 1h0m.5-.5h0m0 1h0m0-1.5h0m0 .5h0m.5 .5h0m0-.5h0m0 1h0m0-1h0m0 1h0m0-1.5h0m0 1.5h0m0-1h0m0 .5h0m.5 .5h0m0-1h0m0-.5h0m0 .5h0m.5-.5h0m0 1h0m0-1h0m0 .5h0m0 1h0m0-.5h0m0-.5h0m0 .5h0m0-1h0m0 1.5h0m0-1.5h0m.5 .5h0m0-.5h0m0 1.5h0m0-.5h0m0 .5h0m0-1.5h0m0 1h0m0-.5h0m.5-.5h0m0 1h0m0-1h0m0 1.5h0m.5 0h0m0-1.5h0m0 .5h0m0 .5h0m0-.5h0m0-.5h0m.5 1.5h0m0-1.5h0m0 .5h0m0-.5h0m0 1.5h0m0-1.5h0m0 1h0m0-.5h0m.5 0h0m0 1h0m0-1h0m.5 .5h0m0-1h0m0 1h0m0-.5h0m0-.5h0m0 .5h0m0-.5h0m0 1.5h0m0-.5h0m.5 0h0m0-1h0m0 1h0m0-1h0m0 .5h0m0-.5h0m0 .5h0m0 .5h0m.5 .5h0m.5 0h0m0-1.5h0m0 1.5h0m0-1.5h0m.5 0h0m0 1h0m0-1h0m0 1h0m0-1h0m0 1.5h0m0-1h0m.5 .5h0m0-.5h0m0 1h0m.5-.5h0m0-1h0m0 .5h0m0-.5h0m0 .5h0m.5 .5h0m0-1h0m0 1.5h0m.5-1h0m0 1h0m0-1.5h0m0 1.5h0m.5 0h0m0-1h0m0 .5h0m0-.5h0m0 .5h0m.5 0h0m.5-.5h0m0 1h0m.5-1.5h0m.5 1h0m0 .5h0m.5-1h0m0 1h0m1 0h0m0-.5h0m1-.5h0m.5-.5h0m.5 1h0m.5 0h0m.5-1h0m.5 1.5h0m.5 0h0m0-1h0m.5-.5h0m1.5 0h0m.5 1.5h0m-22 1h0m.5 .5h0m0-1h0m.5 1.5h0m0-1h0m0 .5h0m.5-.5h0m0 .5h0m0 .5h0m0-1h0m0 .5h0m0 .5h0m0-1.5h0m0 .5h0m.5 1h0m0-.5h0m0-1h0m0 1.5h0m0-1.5h0m.5 1h0m0-1h0m0 1.5h0m0-.5h0m0-.5h0m0 .5h0m0-1h0m.5 .5h0m0-.5h0m0 1.5h0m0-1.5h0m0 1h0m0 .5h0m0-1h0m0 1h0m.5-1.5h0m0 1h0m0 .5h0m0-1h0m0 1h0m0-1h0m0-.5h0m0 .5h0m0-.5h0m0 .5h0m.5-.5h0m0 1h0m0-1h0m0 1.5h0m0-1.5h0m0 1.5h0m0-1h0m.5 0h0m0-.5h0m0 .5h0m0 1h0m0-1h0m0 .5h0m0 .5h0m.5 0h0m0-1h0m0 .5h0m0-1h0m0 .5h0m0-.5h0m.5 0h0m0 .5h0m0 .5h0m0-.5h0m0 1h0m0-.5h0m0-1h0m0 1.5h0m0-1h0m0 1h0m.5-1h0m0 1h0m0-1.5h0m0 1.5h0m0-1.5h0m0 .5h0m0 1h0m.5 0h0m0-1.5h0m0 .5h0m0 1h0m0-1h0m0 .5h0m.5 0h0m0-.5h0m0-.5h0m.5 1.5h0m0-1.5h0m0 .5h0m0 .5h0m.5 0h0m0-1h0m.5 1.5h0m0-1.5h0m0 1h0m0-1h0m0 1h0m0-1h0m0 1h0m0 .5h0m.5-1.5h0m0 1.5h0m0-1h0m.5-.5h0m0 1h0m0-1h0m.5 .5h0m0 1h0m.5-.5h0m0-1h0m0 .5h0m.5 0h0m0-.5h0m.5 .5h0m0 1h0m0-.5h0m0-1h0m0 1h0m.5 .5h0m0-1h0m.5 1h0m0-1.5h0m0 1h0m0-1h0m.5 1.5h0m0-1h0m1 .5h0m0-1h0m.5 1.5h0m0-.5h0m0-.5h0m0-.5h0m.5 .5h0m1-.5h0m.5 .5h0m0-.5h0m.5 1.5h0m.5-.5h0m.5-1h0m1 1.5h0m.5 0h0m0-1.5h0m.5 1.5h0m.5 0h0m0-1.5h0m2 1.5h0m-22 .5h0m0 1h0m.5 0h0m0 .5h0m0-.5h0m0 .5h0m0-.5h0m0-1h0m0 1h0m.5-.5h0m0-.5h0m0 1.5h0m0-1h0m0-.5h0m.5 0h0m0 1h0m0 .5h0m.5-1.5h0m0 1h0m0-1h0m0 1.5h0m0-1.5h0m0 1.5h0m.5-.5h0m0 .5h0m0-1.5h0m.5 1h0m0-1h0m0 .5h0m0 1h0m0-.5h0m.5 .5h0m0-.5h0m0-.5h0m0 1h0m0-.5h0m0 .5h0m.5 0h0m0-1.5h0m0 .5h0m0-.5h0m0 1h0m0-1h0m0 .5h0m0-.5h0m0 1h0m.5-1h0m0 1h0m0-1h0m0 1h0m0 .5h0m.5-.5h0m0 .5h0m.5-1.5h0m0 .5h0m0-.5h0m.5 0h0m0 1.5h0m0-1.5h0m.5 .5h0m0 .5h0m0-.5h0m0 1h0m.5-.5h0m0-1h0m0 1.5h0m0-.5h0m0-.5h0m.5 1h0m0-1h0m0 1h0m0-1.5h0m0 .5h0m0 1h0m0-1h0m.5 0h0m0 .5h0m0-1h0m0 1.5h0m0-1h0m0 .5h0m0 .5h0m0-1h0m.5 1h0m0-.5h0m0 .5h0m0-1h0m0 .5h0m0 .5h0m0-.5h0m.5-.5h0m0 .5h0m0 .5h0m.5-.5h0m0-.5h0m.5 0h0m0 1h0m0-1.5h0m0 1.5h0m0-1h0m.5 0h0m0 1h0m0-1h0m1-.5h0m0 1h0m0 .5h0m0-1.5h0m0 1h0m.5 0h0m.5-1h0m.5 .5h0m0-.5h0m0 1.5h0m.5 0h0m1.5-.5h0m0-1h0m0 .5h0m0-.5h0m.5 0h0m1 1h0m.5-1h0m.5 1.5h0m0-.5h0m0-.5h0m0 1h0m.5-.5h0m1.5 0h0m.5-.5h0m.5 .5h0m.5 .5h0m0-.5h0m0 .5h0m0-.5h0m.5 0h0m-22 1h0m.5 0h0m0 1h0m0-.5h0m0 .5h0m0-.5h0m0 1h0m.5-1.5h0m0 1h0m0 .5h0m.5-1h0m0-.5h0m.5 1h0m0-.5h0m0-.5h0m0 1h0m0-.5h0m0 .5h0m0-.5h0m.5 1h0m0-.5h0m0-.5h0m0 1h0m0-1.5h0m.5 0h0m0 .5h0m0 1h0m0-.5h0m0-1h0m.5 1h0m.5-1h0m0 .5h0m0-.5h0m0 1h0m0-.5h0m0 1h0m0-.5h0m0-.5h0m.5-.5h0m0 1h0m0 .5h0m0-1.5h0m0 .5h0m0-.5h0m0 .5h0m.5 0h0m0 1h0m0-1.5h0m0 .5h0m0-.5h0m.5 .5h0m0 1h0m0-.5h0m.5 0h0m0-1h0m0 1.5h0m.5-1h0m0 .5h0m0-1h0m0 1.5h0m0-1.5h0m.5 1.5h0m0-1h0m0-.5h0m0 1.5h0m0-1.5h0m.5 1h0m0-1h0m0 .5h0m0-.5h0m.5 1h0m0 .5h0m0-1h0m0-.5h0m0 1.5h0m0-1.5h0m0 .5h0m.5 0h0m0-.5h0m0 1h0m.5 0h0m.5 0h0m0 .5h0m0-1h0m.5 .5h0m0-1h0m0 1.5h0m0-1h0m0 .5h0m.5-1h0m0 1h0m0 .5h0m0-.5h0m.5-1h0m.5 1h0m0 .5h0m.5-1.5h0m0 1h0m0-.5h0m.5 0h0m.5 .5h0m0-1h0m0 .5h0m.5 0h0m.5 0h0m0 1h0m1-1h0m.5-.5h0m0 1h0m1-1h0m0 1h0m0-1h0m1 0h0m1 .5h0m0-.5h0m1.5 0h0m2 0h0m-22 2.5h0m.5 0h0m0 .5h0m0-1h0m.5 .5h0m0 .5h0m0-1h0m0 1h0m0 .5h0m.5-1h0m0 .5h0m0 .5h0m0-.5h0m0-.5h0m.5-.5h0m0 1.5h0m.5-1h0m0-.5h0m0 1h0m0 .5h0m0-.5h0m.5 .5h0m0-1.5h0m.5 1h0m0-1h0m0 .5h0m.5 1h0m0-1.5h0m.5 0h0m0 .5h0m0 .5h0m0-.5h0m.5 .5h0m0-.5h0m0 .5h0m0 .5h0m0-.5h0m0 .5h0m.5-1h0m0 .5h0m.5 0h0m0-.5h0m.5 .5h0m0 .5h0m0-1.5h0m.5 0h0m0 1h0m0-1h0m0 1.5h0m0-1.5h0m.5 0h0m.5 1.5h0m0-.5h0m0-.5h0m0 .5h0m.5 0h0m0 .5h0m.5-1.5h0m0 1.5h0m0-1h0m.5 .5h0m0 .5h0m.5 0h0m0-1h0m0-.5h0m0 1h0m.5-.5h0m.5 .5h0m0-1h0m.5 1h0m0 .5h0m0-1.5h0m0 1h0m0 .5h0m0-1.5h0m.5 0h0m0 .5h0m0-.5h0m0 1h0m1-1h0m0 1.5h0m.5 0h0m1-1h0m.5-.5h0m0 1.5h0m0-1h0m1.5 .5h0m.5 0h0m0 .5h0m.5-1.5h0m0 1h0m0 .5h0m.5-.5h0m0-1h0m.5 1.5h0m0-1h0m.5 .5h0m1-1h0m1 0h0m.5 .5h0m.5-.5h0m-22 2.5h0m.5 1h0m.5-1.5h0m.5 .5h0m0 .5h0m0-.5h0m0 .5h0m.5 0h0m0 .5h0m0-1h0m0 .5h0m0-.5h0m.5 0h0m0-.5h0m0 1h0m0-1h0m0 .5h0m.5 0h0m0 .5h0m0-1h0m0 1.5h0m.5-.5h0m0 .5h0m0-.5h0m0-.5h0m0 .5h0m.5-1h0m0 1h0m0 .5h0m0-.5h0m0-.5h0m0 .5h0m0-1h0m.5 .5h0m0-.5h0m.5 1.5h0m0-.5h0m0-1h0m0 .5h0m.5 0h0m0 .5h0m0 .5h0m0-1.5h0m0 1.5h0m0-1h0m.5-.5h0m0 1h0m0-.5h0m.5 0h0m0 1h0m0-1h0m0 1h0m0-1.5h0m.5 .5h0m0 .5h0m0-.5h0m0 1h0m.5-1h0m0-.5h0m0 1.5h0m.5-1.5h0m0 1.5h0m0-1.5h0m.5 1h0m0-1h0m0 1h0m0-1h0m0 .5h0m.5 0h0m0 .5h0m0-.5h0m0 .5h0m.5-.5h0m0 .5h0m0 .5h0m.5-1.5h0m.5 1h0m0 .5h0m0-1.5h0m.5 .5h0m0-.5h0m0 .5h0m.5-.5h0m.5 1h0m0-1h0m0 .5h0m0 1h0m.5 0h0m.5-.5h0m.5 .5h0m.5-.5h0m0 .5h0m.5-.5h0m.5 .5h0m1-1.5h0m0 1.5h0m0-.5h0m0-.5h0m.5 0h0m.5 1h0m.5-.5h0m.5-1h0m0 1.5h0m.5-1.5h0m.5 .5h0m.5 1h0m2 0h0m4 0h0m-25.5 1.5h0m0-1h0m0 1h0m.5 .5h0m0-1h0m.5 0h0m0 1h0m0-.5h0m.5-.5h0m0 .5h0m0 .5h0m.5 0h0m0-1.5h0m0 1.5h0m.5 0h0m0-1.5h0m0 1h0m.5-.5h0m.5 0h0m0 .5h0m0-.5h0m0-.5h0m0 .5h0m0 .5h0m.5 0h0m.5 .5h0m0-1.5h0m0 1.5h0m0-1.5h0m.5 1.5h0m0-1h0m0 .5h0m0 .5h0m.5-.5h0m0-1h0m.5 .5h0m0 .5h0m0 .5h0m.5-1h0m0-.5h0m.5 0h0m.5 0h0m.5 1h0m0 .5h0m.5-1.5h0m0 1.5h0m0-1h0m.5-.5h0m0 .5h0m.5 .5h0m.5-1h0m0 1.5h0m0-1h0m.5 .5h0m0 .5h0m0-1.5h0m0 1h0m0-1h0m0 .5h0m.5-.5h0m.5 0h0m0 .5h0m.5 1h0m0-1.5h0m0 .5h0m.5-.5h0m0 .5h0m0-.5h0m.5 .5h0m.5-.5h0m.5 1.5h0m0-1.5h0m0 1h0m.5 0h0m0 .5h0m.5-1h0m.5 1h0m.5 0h0m.5-.5h0m0-.5h0m0 1h0m.5-1.5h0m1.5 .5h0m.5 1h0m.5-.5h0m1 0h0m1-.5h0m.5 .5h0m-22 2h0m.5-1h0m0 1.5h0m0-1.5h0m0 1h0m0-1h0m.5 1h0m0 .5h0m0-1.5h0m0 1h0m.5-.5h0m0-.5h0m0 1h0m.5 0h0m0 .5h0m.5-1h0m0 .5h0m.5 0h0m0 .5h0m0-1h0m.5 .5h0m0-1h0m0 1.5h0m0-1.5h0m0 .5h0m0 1h0m0-1.5h0m.5 .5h0m.5 0h0m0 .5h0m0-.5h0m0 1h0m.5 0h0m0-.5h0m.5 0h0m0-1h0m.5 1h0m0 .5h0m0-1.5h0m.5 1.5h0m0-1.5h0m0 1.5h0m.5-1h0m0 1h0m0-.5h0m.5 0h0m0-1h0m0 .5h0m0-.5h0m0 1.5h0m.5-.5h0m0 .5h0m.5 0h0m.5-1.5h0m0 1h0m0-.5h0m0 .5h0m0 .5h0m.5-1h0m0-.5h0m0 1h0m.5-1h0m0 1.5h0m.5-.5h0m0-.5h0m.5-.5h0m.5 .5h0m.5 1h0m0-1.5h0m.5 1.5h0m.5-.5h0m0 .5h0m.5-1.5h0m1 .5h0m1 0h0m.5 .5h0m.5 0h0m.5 0h0m.5 .5h0m1 0h0m1 0h0m1 0h0m.5-1h0m.5 0h0m-21.5 2.5h0m.5-1h0m.5 0h0m0 1h0m.5 0h0m0-.5h0m.5 0h0m0 .5h0m0-1h0m.5 1h0m.5-.5h0m0-.5h0m0 1.5h0m.5-1h0m0 .5h0m0-1h0m0 1.5h0m.5 0h0m0-.5h0m.5-.5h0m0 .5h0m.5 0h0m0-.5h0m0 .5h0m.5-.5h0m0 .5h0m0-1h0m.5 0h0m0 1.5h0m.5-1.5h0m0 1h0m.5-1h0m.5 0h0m0 .5h0m0 .5h0m0-1h0m.5 1h0m0-.5h0m.5 0h0m0 .5h0m.5 0h0m0 .5h0m0-.5h0m.5 .5h0m.5 0h0m0-.5h0m1-1h0m0 .5h0m0-.5h0m1 0h0m.5 .5h0m1 0h0m4.5 .5h0m.5-.5h0m.5-.5h0m.5 .5h0m0 1h0m.5-1.5h0m.5 0h0m1 .5h0m0 1h0m.5-.5h0m0 .5h0m-20 .5h0m1 0h0m2.5 0h0m6.5 0h0" stroke="#000" stroke-width="0.45" stroke-linecap="square" fill="none" filter="url(#f12_49)"/>
<line x1="292" y1="200.4" x2="359.5" y2="200.4" stroke="#666" stroke-width="0.6"/>
<line x1="292" y1="266.5" x2="359.5" y2="266.5" stroke="#666" stroke-width="0.6"/>
<line x1="292" y1="200.4" x2="292" y2="266.5" stroke="#666" stroke-width="0.6"/>
<line x1="359.5" y1="200.4" x2="359.5" y2="266.5" stroke="#666" stroke-width="0.6"/>
<line x1="315.6" y1="200.4" x2="315.6" y2="266.5" stroke="#666" stroke-width="0.6"/>
<line x1="292" y1="227.2" x2="359.5" y2="227.2" stroke="#666" stroke-width="0.6"/>
<line x1="292" y1="266.5" x2="345" y2="266.5" stroke="#000" stroke-width="1.3"/>
<line x1="292" y1="200.4" x2="292" y2="266.5" stroke="#000" stroke-width="1.0"/>
<line x1="290.4" y1="206" x2="292" y2="206" stroke="#000" stroke-width="0.6"/>
<line x1="290.4" y1="221" x2="292" y2="221" stroke="#000" stroke-width="0.6"/>
<line x1="290.4" y1="236" x2="292" y2="236" stroke="#000" stroke-width="0.6"/>
<line x1="290.4" y1="252.6" x2="292" y2="252.6" stroke="#000" stroke-width="0.6"/>
<line x1="290.4" y1="259.3" x2="292" y2="259.3" stroke="#000" stroke-width="0.6"/>
<line x1="299.4" y1="266.5" x2="299.4" y2="268.1" stroke="#000" stroke-width="0.6"/>
<line x1="305.4" y1="266.5" x2="305.4" y2="268.1" stroke="#000" stroke-width="0.6"/>
<line x1="323.1" y1="266.5" x2="323.1" y2="268.1" stroke="#000" stroke-width="0.6"/>
<line x1="337.5" y1="266.5" x2="337.5" y2="268.1" stroke="#000" stroke-width="0.6"/>
<line x1="352" y1="266.5" x2="352" y2="268.1" stroke="#000" stroke-width="0.6"/>
<text x="289.5" y="207.2" font-size="3.4" text-anchor="end" fill="#555">10</text>
<text x="289.5" y="222.2" font-size="3.4" text-anchor="end" fill="#555">10</text>
<text x="289.5" y="237.2" font-size="3.4" text-anchor="end" fill="#555">10</text>
<text x="289.5" y="253.79999999999998" font-size="3.4" text-anchor="end" fill="#555">10</text>
<text x="289.5" y="260.5" font-size="3.4" text-anchor="end" fill="#555">0</text>
<text x="299.4" y="271.5" font-size="3.4" text-anchor="middle" fill="#555">0</text>
<text x="305.4" y="271.5" font-size="3.4" text-anchor="middle" fill="#555">10</text>
<text x="323.1" y="271.5" font-size="3.4" text-anchor="middle" fill="#555">10</text>
<text x="337.5" y="271.5" font-size="3.4" text-anchor="middle" fill="#555">10</text>
<text x="352" y="271.5" font-size="3.4" text-anchor="middle" fill="#555">10</text>
<text x="293.2" y="207" font-size="5.8" fill="#222">5.32</text>
<text x="358.6" y="207.2" font-size="5.8" text-anchor="end" fill="#222">0.34</text>
<text x="358.6" y="265.8" font-size="5.8" text-anchor="end" fill="#222">6.19</text>
<path d="M300 292.5h0m4.5 0h0m1.5 1h0m-11.5 .5h0m1.5 1h0m9 .5h0m6-.5h0m-17.5 1h0m2.5 .5h0m1 .5h0m1.5 .5h0m.5 0h0m.5-1.5h0m0 1.5h0m.5-1.5h0m0 1.5h0m1.5 0h0m.5-1h0m0 .5h0m0 .5h0m1.5-1h0m1 1h0m2-1h0m1 1h0m.5-1.5h0m.5 0h0m5.5 0h0m-22 3.5h0m2.5 0h0m0-.5h0m1.5 0h0m.5 .5h0m1.5-.5h0m0 .5h0m.5-.5h0m.5 .5h0m0-.5h0m1-1h0m.5 .5h0m1 .5h0m1-1h0m.5 .5h0m1 1h0m.5-.5h0m2 0h0m5-1h0m2.5 0h0m-20 3.5h0m1.5-1.5h0m.5 0h0m.5 1.5h0m1-.5h0m1.5-1h0m0 .5h0m.5-.5h0m.5 0h0m.5 .5h0m1.5 0h0m0 .5h0m1 0h0m0-1h0m.5 0h0m0 1.5h0m4 0h0m3-1.5h0m.5 0h0m-17.5 3.5h0m3.5-1h0m1 1h0m1-.5h0m1.5-.5h0m6.5-.5h0m-14.5 2h0m4 0h0m8.5 1h0m1 0h0m6 6h0m1-.5h0m-17.5 1.5h0m17 1.5h0m7.5-.5h0m4.5 .5h0m7 2h0m-14 2h0m4.5 0h0m7.5-1.5h0m-9.5 3.5h0m5-1.5h0m5 1h0m5.5 .5h0m6.5-.5h0m-21.5 2.5h0m2-.5h0m2 .5h0m.5-.5h0m7 .5h0m.5-.5h0m0-.5h0m1-.5h0m1 1.5h0m-24.5 2h0m9-.5h0m1 0h0m4 0h0m1-1h0m1.5 1h0m3 0h0m2.5-.5h0m1 1h0m5.5-1h0m2.5 0h0m.5 .5h0m-19 1h0m.5 .5h0m0-.5h0m3.5 1h0m4.5 .5h0m-18.5 .5h0m2.5 1h0m2.5-.5h0m2.5 1h0m2-1.5h0m4 1.5h0m0-1h0m1.5-.5h0m4.5 1.5h0m-17.5 1h0m3.5 0h0m6-.5h0m2.5 .5h0m10.5-.5h0m3 3.5h0m3-1.5h0m1 1.5h0m-8 2h0m-13.5 .5h0m0 2h0m19 0h0m-1.5 3.5h0m-11.5 2h0m15-1h0m-5.5 1.5h0m-4.5 3.5h0m-.5 2h0m5 .5h0" stroke="#999" stroke-width="0.5" stroke-linecap="square" fill="none"/>
<path d="M300.5 305h0m-3.5 1.5h0m13 .5h0m-18 1h0m1 1h0m1 0h0m.5 0h0m2-.5h0m4.5 0h0m1 1h0m4.5-.5h0m-14.5 2.5h0m2-.5h0m8-.5h0m.5 0h0m2.5 0h0m2.5 1h0m-15 2h0m1 0h0m.5 0h0m.5-.5h0m2.5 0h0m3 0h0m4 .5h0m0-1h0m1 0h0m-10 2.5h0m.5-.5h0m2 .5h0m.5 0h0m1-1h0m0 1h0m1 .5h0m0-1.5h0m0 1.5h0m.5-1h0m.5 1h0m1-1h0m1 1h0m.5-1h0m2.5 1h0m7-.5h0m-21 2.5h0m1-1h0m0 .5h0m1.5 .5h0m1-.5h0m0 .5h0m0-1.5h0m1 1.5h0m.5-.5h0m.5-1h0m1 1.5h0m.5-.5h0m0-1h0m0 1.5h0m.5 0h0m0-1.5h0m0 .5h0m0 .5h0m0-.5h0m0 .5h0m.5 0h0m.5 .5h0m0-.5h0m.5 .5h0m.5-.5h0m0-1h0m0 1.5h0m0-1.5h0m.5 1.5h0m1-1h0m0 1h0m0-.5h0m.5-1h0m1.5 0h0m.5 1.5h0m1-1.5h0m6 0h0m-20.5 3.5h0m.5-1.5h0m.5 1.5h0m0-.5h0m.5-.5h0m.5-.5h0m0 .5h0m.5 0h0m0 .5h0m.5 .5h0m0-1.5h0m.5 1h0m.5 .5h0m0-1h0m.5 1h0m0-.5h0m.5 0h0m.5-.5h0m0 .5h0m.5 0h0m.5-.5h0m0-.5h0m0 1.5h0m.5-1.5h0m0 1.5h0m.5-.5h0m.5-.5h0m.5 0h0m0 .5h0m.5 .5h0m.5-1.5h0m0 1h0m0-.5h0m.5-.5h0m0 .5h0m.5-.5h0m0 .5h0m0 .5h0m.5 .5h0m.5-1h0m0 .5h0m0-.5h0m0-.5h0m.5 0h0m.5 1.5h0m.5-.5h0m0 .5h0m.5 0h0m.5 0h0m0-1h0m0 .5h0m.5-.5h0m0 1h0m2-.5h0m1 0h0m.5-1h0m.5 0h0m2 1.5h0m0-.5h0m-20.5 1h0m.5 1h0m0-1h0m.5 1h0m0-.5h0m0 .5h0m.5-.5h0m.5 .5h0m0-1h0m0 1.5h0m.5 0h0m.5-.5h0m0 .5h0m0-.5h0m.5-.5h0m0 .5h0m0 .5h0m0-.5h0m0-1h0m0 1.5h0m0-.5h0m.5 0h0m0-.5h0m.5 0h0m.5 .5h0m0-1h0m0 .5h0m0-.5h0m.5 1.5h0m0-1.5h0m.5 .5h0m0 .5h0m.5-.5h0m0 .5h0m0 .5h0m0-1.5h0m1 1.5h0m0-1h0m0 .5h0m.5 0h0m0-1h0m0 1h0m.5-.5h0m.5-.5h0m0 1.5h0m.5 0h0m0-.5h0m.5-.5h0m0 1h0m0-1.5h0m.5 1.5h0m0-1.5h0m0 1h0m0-.5h0m0 1h0m.5 0h0m.5 0h0m0-.5h0m0 .5h0m0-1.5h0m1 1.5h0m.5 0h0m.5-1h0m0 .5h0m0-.5h0m.5-.5h0m0 .5h0m1 1h0m.5-1h0m.5 .5h0m.5 .5h0m0-.5h0m0 .5h0m.5-.5h0m0-1h0m1 1.5h0m.5-1h0m0 .5h0m.5-1h0m.5 0h0m-19.5 3h0m0-.5h0m0 1h0m.5-1.5h0m.5 .5h0m0 1h0m0-.5h0m0-1h0m.5 0h0m0 .5h0m0 .5h0m0-1h0m.5 1h0m0 .5h0m0-1.5h0m.5 0h0m0 1.5h0m.5-1h0m.5 0h0m0-.5h0m0 1.5h0m0-.5h0m.5-1h0m.5 .5h0m0-.5h0m0 1.5h0m0-1h0m.5 .5h0m0-.5h0m0 1h0m.5-1.5h0m0 1.5h0m0-.5h0m0-1h0m.5 .5h0m0 1h0m0-1h0m0 1h0m0-1.5h0m.5 0h0m0 1h0m0-.5h0m0 .5h0m.5 .5h0m0-.5h0m0-.5h0m0 1h0m.5-1h0m0 1h0m0-1h0m0-.5h0m.5 1.5h0m0-.5h0m0-1h0m.5 1.5h0m.5-.5h0m0-.5h0m0 1h0m.5-1.5h0m.5 0h0m0 1h0m0-1h0m0 1.5h0m.5-1h0m0-.5h0m0 .5h0m0 .5h0m0-.5h0m.5 1h0m0-1.5h0m0 1.5h0m0-1h0m0-.5h0m.5 1.5h0m0-.5h0m.5 .5h0m0-.5h0m.5 0h0m0-1h0m0 1.5h0m0-.5h0m.5-1h0m.5 .5h0m.5 1h0m0-.5h0m1.5 0h0m0 .5h0m0-1h0m.5-.5h0m1.5 .5h0m.5 0h0m0 .5h0m.5 0h0m.5 .5h0m.5-1h0m1 .5h0m.5-1h0m.5 1h0m-21.5 2h0m0-.5h0m0-.5h0m.5 1.5h0m0-.5h0m0 .5h0m.5-.5h0m0 .5h0m.5-1h0m0 1h0m0-1.5h0m0 1.5h0m0-.5h0m0 .5h0m0-.5h0m1 0h0m0 .5h0m0-.5h0m0-1h0m0 .5h0m.5 0h0m0 1h0m0-1.5h0m.5 .5h0m0 .5h0m0 .5h0m0-1h0m.5 .5h0m0-.5h0m0 1h0m0-1.5h0m0 1h0m0-.5h0m.5 1h0m0-.5h0m0-.5h0m0 1h0m0-1h0m.5 0h0m0 .5h0m.5 0h0m0-.5h0m.5 1h0m0-.5h0m0 .5h0m0-.5h0m0-1h0m0 .5h0m.5-.5h0m0 1.5h0m0-.5h0m0-1h0m0 .5h0m.5 .5h0m0-.5h0m0 1h0m0-.5h0m.5 .5h0m0-1.5h0m0 1h0m.5 0h0m0-.5h0m0-.5h0m0 1h0m0-.5h0m.5 1h0m0-.5h0m.5 .5h0m.5-1.5h0m0 1h0m0-1h0m.5 .5h0m0 .5h0m.5-1h0m0 1.5h0m0-.5h0m0-1h0m0 1h0m0-.5h0m0 1h0m0-1.5h0m0 1h0m.5 .5h0m0-1.5h0m0 1h0m0 .5h0m0-1h0m.5 1h0m0-1.5h0m.5 1.5h0m0-.5h0m0 .5h0m.5-1.5h0m0 .5h0m0 .5h0m.5-1h0m0 1.5h0m.5 0h0m0-.5h0m.5 .5h0m0-1h0m.5 1h0m0-1.5h0m.5 0h0m0 1h0m0-1h0m.5 1.5h0m0-.5h0m.5-.5h0m.5-.5h0m0 1h0m.5 .5h0m0-1h0m.5-.5h0m0 1h0m.5 .5h0m0-1.5h0m0 1.5h0m.5 0h0m0-.5h0m0 .5h0m.5-1.5h0m0 .5h0m0 .5h0m.5-1h0m0 .5h0m2-.5h0m4 .5h0m-25.5 3h0m0-.5h0m0-1h0m.5 .5h0m0-.5h0m0 1.5h0m0-.5h0m0-.5h0m0 1h0m.5-1.5h0m0 1h0m.5 0h0m0-.5h0m.5 1h0m0-1.5h0m0 1.5h0m0-.5h0m.5-.5h0m0 1h0m0-1.5h0m.5 0h0m0 .5h0m0-.5h0m0 .5h0m0 1h0m0-.5h0m0-.5h0m0 1h0m0-.5h0m.5 .5h0m0-1h0m.5-.5h0m0 1h0m0 .5h0m0-1h0m.5 0h0m0-.5h0m0 .5h0m0 1h0m0-1h0m0 1h0m0-.5h0m0 .5h0m.5-.5h0m0-1h0m0 1h0m.5 0h0m0-1h0m0 1.5h0m0-1.5h0m0 1.5h0m0-.5h0m.5 .5h0m0-1.5h0m0 .5h0m0 1h0m.5-.5h0m0-.5h0m0 1h0m.5 0h0m0-.5h0m0-.5h0m0 .5h0m.5-.5h0m0-.5h0m0 1.5h0m0-.5h0m.5 0h0m0-1h0m0 .5h0m0 .5h0m.5 .5h0m0-.5h0m.5-.5h0m0 .5h0m0-1h0m0 1.5h0m0-1.5h0m0 .5h0m0 1h0m0-.5h0m0-1h0m.5 1h0m0 .5h0m0-.5h0m0 .5h0m0-1.5h0m0 .5h0m0 .5h0m.5-1h0m0 1h0m0-1h0m.5 1h0m0-1h0m0 .5h0m0 1h0m0-1h0m.5-.5h0m0 .5h0m0 .5h0m0-.5h0m0 .5h0m.5 0h0m0 .5h0m0-.5h0m0-.5h0m.5 .5h0m0-.5h0m0 .5h0m.5 .5h0m0-1.5h0m0 .5h0m0 1h0m.5 0h0m0-1h0m0-.5h0m.5 1.5h0m.5-1h0m0-.5h0m0 1h0m0-.5h0m.5 .5h0m0-.5h0m0 .5h0m0-.5h0m.5 0h0m0-.5h0m.5 0h0m0 1h0m.5-1h0m0 .5h0m.5 .5h0m0-1h0m.5 0h0m.5 1h0m.5 0h0m.5 .5h0m.5-1.5h0m.5 0h0m0 .5h0m1.5 .5h0m1.5 0h0m-22.5 1h0m0 1h0m0 .5h0m.5-.5h0m0-.5h0m0 1h0m0-.5h0m0-.5h0m0 1h0m.5 0h0m0-.5h0m0-1h0m0 .5h0m.5 1h0m0-1h0m0 .5h0m0-1h0m.5 1h0m0-1h0m0 1h0m.5 0h0m0-1h0m.5 .5h0m0 .5h0m0 .5h0m0-1.5h0m0 1h0m0 .5h0m0-.5h0m0 .5h0m.5-1.5h0m0 1h0m0 .5h0m0-1h0m0 1h0m0-1h0m0-.5h0m0 1.5h0m0-1.5h0m.5 .5h0m0-.5h0m0 .5h0m0 .5h0m0-.5h0m.5-.5h0m0 .5h0m.5-.5h0m0 1.5h0m0-.5h0m0-.5h0m0 1h0m0-1h0m.5-.5h0m0 .5h0m.5 0h0m0 1h0m0-1.5h0m0 1.5h0m0-.5h0m0 .5h0m0-1h0m.5 .5h0m0-1h0m0 1.5h0m0-1.5h0m0 1.5h0m0-.5h0m0-1h0m.5 1.5h0m0-1.5h0m0 1.5h0m0-1h0m0 .5h0m0-1h0m.5 0h0m0 1.5h0m0-.5h0m0 .5h0m.5-1.5h0m0 1h0m0-.5h0m0-.5h0m0 1h0m.5-.5h0m0 .5h0m0-1h0m.5 1.5h0m0-1.5h0m0 1h0m.5 .5h0m0-.5h0m0-.5h0m.5 .5h0m0-.5h0m0 .5h0m0-.5h0m0-.5h0m.5 .5h0m0 1h0m.5 0h0m0-1.5h0m0 .5h0m.5 .5h0m0-.5h0m0 .5h0m0 .5h0m0-1h0m0-.5h0m.5 1.5h0m0-1h0m.5 1h0m0-1h0m0 1h0m.5-.5h0m0 .5h0m.5-1h0m.5 0h0m0-.5h0m0 .5h0m0 1h0m0-.5h0m.5-.5h0m0 1h0m.5 0h0m0-1.5h0m.5 .5h0m0-.5h0m.5 1.5h0m0-.5h0m0 .5h0m.5-1.5h0m0 1.5h0m0-1.5h0m.5 0h0m.5 1.5h0m0-.5h0m0-1h0m.5 1h0m.5-1h0m0 .5h0m1.5 .5h0m3 0h0m0-1h0m-23 2.5h0m0 1h0m0-.5h0m0-.5h0m0 1h0m0-1.5h0m.5 .5h0m0 1h0m.5 0h0m0-1h0m0 1h0m0-1.5h0m0 .5h0m0-.5h0m.5 .5h0m0 1h0m0-1.5h0m0 1.5h0m.5-.5h0m0-1h0m.5 1h0m0-.5h0m0-.5h0m0 1h0m.5-1h0m0 1h0m0 .5h0m0-1h0m0 1h0m.5-1.5h0m0 1h0m0-.5h0m0-.5h0m0 .5h0m.5 .5h0m0-.5h0m0 .5h0m0-.5h0m0-.5h0m0 1h0m0 .5h0m.5-.5h0m0-1h0m0 1.5h0m0-1h0m.5 0h0m0 1h0m0-1h0m0 1h0m.5-1h0m0 .5h0m0-.5h0m0 .5h0m0 .5h0m0-1h0m0-.5h0m.5 1.5h0m0-1h0m0 1h0m.5 0h0m0-1h0m0 .5h0m0-1h0m0 .5h0m.5 1h0m0-1h0m0 .5h0m0-1h0m0 1h0m0 .5h0m0-1h0m0-.5h0m.5 1.5h0m0-1h0m0 1h0m0-1.5h0m0 1.5h0m0-.5h0m0-1h0m0 .5h0m.5 0h0m0 1h0m0-1.5h0m0 1.5h0m0-.5h0m0-1h0m.5 0h0m0 1h0m0-1h0m0 1.5h0m0-.5h0m.5 0h0m0-.5h0m0 .5h0m0-1h0m0 1h0m0 .5h0m0-.5h0m.5-1h0m0 1.5h0m0-1h0m0 1h0m0-1.5h0m0 .5h0m0 .5h0m0-1h0m.5 1h0m0-1h0m0 1h0m0 .5h0m0-1.5h0m0 1h0m0-1h0m0 1.5h0m0-.5h0m.5 0h0m0-.5h0m0 .5h0m0-.5h0m0 1h0m.5-.5h0m0 .5h0m0-1h0m0 1h0m.5-1h0m0-.5h0m0 1h0m0-.5h0m0-.5h0m0 .5h0m.5 0h0m0-.5h0m0 1h0m0-.5h0m.5-.5h0m0 1.5h0m0-1.5h0m0 .5h0m.5 0h0m0 .5h0m0-.5h0m0-.5h0m0 1.5h0m0-1h0m0-.5h0m0 1h0m0-1h0m.5 .5h0m0 1h0m0-1.5h0m0 1h0m0 .5h0m.5 0h0m0-.5h0m.5 .5h0m0-1h0m0-.5h0m.5 .5h0m0-.5h0m.5 1h0m0-.5h0m0-.5h0m0 1.5h0m.5-1h0m0 .5h0m0-.5h0m0-.5h0m.5 1.5h0m.5-.5h0m0-1h0m0 .5h0m0-.5h0m.5 .5h0m0-.5h0m.5 1.5h0m.5-.5h0m0-1h0m0 1h0m.5-.5h0m1 .5h0m0-1h0m-20 3h0m0 .5h0m0-1h0m0 1h0m0-.5h0m0 .5h0m0-1h0m0 .5h0m.5-1h0m0 1h0m0-1h0m0 1h0m.5 0h0m0-1h0m0 .5h0m0 1h0m0-1h0m.5-.5h0m0 1.5h0m0-.5h0m0 .5h0m0-1.5h0m0 1.5h0m0-1.5h0m0 1.5h0m0-1.5h0m0 1h0m.5-1h0m0 1.5h0m0-1h0m0 1h0m0-1h0m0-.5h0m0 .5h0m0 1h0m.5-1.5h0m0 1.5h0m0-1.5h0m0 .5h0m.5 .5h0m0 .5h0m0-1.5h0m0 1.5h0m0-1.5h0m0 .5h0m.5 1h0m0-.5h0m0-1h0m0 .5h0m0-.5h0m0 1.5h0m.5-1.5h0m0 1.5h0m0-1.5h0m0 1h0m0-1h0m.5 0h0m0 1.5h0m0-1h0m0-.5h0m0 1h0m0 .5h0m0-1h0m0 .5h0m0-1h0m0 .5h0m0 .5h0m0 .5h0m0-1.5h0m.5 0h0m0 1h0m0-.5h0m0 1h0m0-1h0m0 .5h0m.5-.5h0m0 .5h0m0 .5h0m0-1h0m0 1h0m.5-1.5h0m0 1h0m0-.5h0m0 1h0m0-.5h0m0 .5h0m.5-1.5h0m0 .5h0m0-.5h0m0 1h0m0-1h0m0 .5h0m.5-.5h0m0 .5h0m0-.5h0m.5 .5h0m0 1h0m0-1.5h0m0 .5h0m0 .5h0m.5-.5h0m0 1h0m0-1.5h0m0 1h0m0 .5h0m0-.5h0m.5 .5h0m0-.5h0m0-1h0m0 .5h0m0-.5h0m0 1.5h0m0-1h0m0-.5h0m.5 1.5h0m0-.5h0m0-.5h0m0 .5h0m0-.5h0m0-.5h0m0 1.5h0m.5-1h0m0 1h0m0-1.5h0m.5 .5h0m0 1h0m0-.5h0m0-1h0m0 1.5h0m0-.5h0m0-1h0m.5 .5h0m0 .5h0m0-.5h0m0-.5h0m.5 1.5h0m0-1h0m0-.5h0m.5 0h0m0 1h0m0 .5h0m0-1h0m0-.5h0m.5 0h0m0 1.5h0m.5-.5h0m0 .5h0m0-1.5h0m.5 1h0m0 .5h0m0-.5h0m.5 .5h0m0-1h0m0 .5h0m.5 0h0m.5-1h0m0 1h0m0-.5h0m.5 1h0m0-1h0m0 .5h0m.5 .5h0m.5-1h0m1-.5h0m0 1.5h0m.5-1h0m.5 .5h0m0-.5h0m0 1h0m0-1.5h0m0 .5h0m1 1h0m0-.5h0m0-1h0m2 .5h0m-21 2.5h0m0 .5h0m0-1.5h0m.5 1h0m0-1h0m0 .5h0m0-.5h0m.5 1.5h0m0-1h0m.5 0h0m0-.5h0m0 1h0m0-1h0m0 1h0m.5-.5h0m0-.5h0m0 .5h0m0 .5h0m0-1h0m0 1h0m0-.5h0m.5 .5h0m0-1h0m0 1.5h0m0-1h0m0 1h0m.5-.5h0m0-1h0m0 1h0m.5 0h0m0 .5h0m0-1h0m0-.5h0m0 1.5h0m.5-.5h0m0 .5h0m0-.5h0m0 .5h0m.5-1h0m0 .5h0m0 .5h0m0-1h0m.5 0h0m0 1h0m0-1.5h0m0 1.5h0m0-.5h0m0-.5h0m0 .5h0m0-.5h0m0-.5h0m.5 1.5h0m0-1.5h0m0 .5h0m0 .5h0m.5 .5h0m0-1.5h0m0 1.5h0m0-1.5h0m0 .5h0m0-.5h0m.5 0h0m0 .5h0m0-.5h0m.5 0h0m0 1h0m0-.5h0m0-.5h0m0 .5h0m0 .5h0m0-1h0m.5 1h0m0-1h0m0 1h0m0-.5h0m.5 0h0m0 .5h0m0-1h0m0 1.5h0m0-.5h0m0-1h0m0 1.5h0m0-1h0m0 1h0m0-.5h0m0-1h0m.5 1h0m0-.5h0m0-.5h0m0 1.5h0m0-1.5h0m0 .5h0m.5 1h0m0-1.5h0m0 1h0m0-1h0m0 1h0m0 .5h0m0-1h0m.5 0h0m0 1h0m0-.5h0m0 .5h0m.5-.5h0m0-.5h0m0 .5h0m0-1h0m0 .5h0m0-.5h0m.5 1.5h0m0-1h0m0 .5h0m0 .5h0m.5 0h0m0-1h0m0 1h0m0-1.5h0m0 1h0m.5 0h0m0-.5h0m.5 .5h0m0-.5h0m0 .5h0m0-1h0m0 1h0m0 .5h0m0-.5h0m.5-1h0m0 1h0m0-.5h0m0-.5h0m0 1.5h0m0-1h0m0 1h0m0-1h0m0 .5h0m0 .5h0m0-1.5h0m.5 .5h0m0 .5h0m0-1h0m.5 .5h0m0 .5h0m0-1h0m0 .5h0m.5-.5h0m0 1h0m.5-.5h0m0 1h0m.5-.5h0m0-.5h0m0-.5h0m.5 1.5h0m.5-1h0m.5 .5h0m0-1h0m.5 1h0m0-1h0m1 .5h0m0 1h0m0-1h0m.5-.5h0m.5 1.5h0m.5-.5h0m0-1h0m-19.5 2h0m0 .5h0m0-.5h0m.5 .5h0m.5 0h0m0-.5h0m0 1h0m.5-.5h0m0-.5h0m0 1.5h0m.5-1.5h0m0 1.5h0m0-1h0m0 1h0m0-1.5h0m.5 1.5h0m0-1h0m0 .5h0m0-1h0m0 1.5h0m.5-.5h0m0 .5h0m0-.5h0m0-.5h0m0-.5h0m.5 0h0m0 1.5h0m0-.5h0m0 .5h0m.5-.5h0m0 .5h0m0-1.5h0m0 1h0m0 .5h0m0-.5h0m0-.5h0m.5-.5h0m0 .5h0m0 1h0m0-1.5h0m0 1.5h0m0-.5h0m0-.5h0m0-.5h0m.5 0h0m0 .5h0m0 .5h0m0 .5h0m0-1.5h0m.5 1.5h0m0-1h0m0 .5h0m.5-.5h0m0-.5h0m0 1.5h0m0-1h0m0 .5h0m0 .5h0m0-1h0m.5 0h0m0 .5h0m0-.5h0m0 1h0m0-.5h0m0-.5h0m0-.5h0m0 .5h0m0 1h0m.5-1.5h0m0 1h0m0-1h0m0 1h0m0 .5h0m0-1h0m.5-.5h0m0 1.5h0m0-1h0m0 .5h0m0 .5h0m0-1h0m0 1h0m.5 0h0m0-1.5h0m0 .5h0m0 .5h0m0-.5h0m0-.5h0m0 1.5h0m.5 0h0m0-.5h0m0 .5h0m0-1.5h0m0 .5h0m0-.5h0m0 .5h0m.5 0h0m0 1h0m0-.5h0m0-.5h0m.5-.5h0m0 .5h0m0 .5h0m0-.5h0m0-.5h0m.5 .5h0m0-.5h0m0 1.5h0m0-.5h0m0 .5h0m0-1.5h0m0 .5h0m.5 .5h0m0-1h0m0 .5h0m0 1h0m0-1h0m.5 0h0m0-.5h0m0 .5h0m0 1h0m.5-1h0m0 .5h0m0 .5h0m0-1h0m0 .5h0m.5-1h0m0 .5h0m.5 1h0m0-.5h0m0-1h0m0 1.5h0m0-.5h0m.5 .5h0m0-.5h0m0-1h0m.5 .5h0m0-.5h0m0 1h0m.5-.5h0m0 1h0m0-1h0m.5-.5h0m0 1h0m0 .5h0m.5 0h0m0-.5h0m0-1h0m.5 .5h0m0-.5h0m.5 1.5h0m0-1.5h0m0 1.5h0m0-1h0m0 .5h0m.5-.5h0m.5 1h0m0-1h0m.5-.5h0m.5 1.5h0m0-1.5h0m0 1.5h0m0-1h0m0 .5h0m.5 .5h0m0-1.5h0m0 .5h0m0 1h0m.5-.5h0m0 .5h0m0-1.5h0m.5 1h0m-19.5 2h0m0 .5h0m0-1.5h0m0 1h0m.5-.5h0m0 .5h0m.5-1h0m0 1.5h0m0-.5h0m.5-.5h0m0 .5h0m.5 0h0m0 .5h0m0-.5h0m0 .5h0m0-1h0m0-.5h0m0 1.5h0m.5-1.5h0m0 1h0m0-1h0m0 1h0m.5-.5h0m.5 0h0m0-.5h0m0 .5h0m0-.5h0m0 1.5h0m.5-.5h0m0 .5h0m0-1h0m0-.5h0m0 .5h0m.5-.5h0m0 1.5h0m0-1h0m0-.5h0m0 1.5h0m0-1.5h0m.5 0h0m0 .5h0m0 1h0m0-1h0m.5 .5h0m0 .5h0m0-1h0m0-.5h0m.5 1.5h0m0-1.5h0m0 1h0m0-1h0m0 1h0m.5 0h0m0 .5h0m0-.5h0m0-1h0m0 1.5h0m.5-1h0m0 .5h0m0-1h0m0 .5h0m0-.5h0m0 1h0m.5-.5h0m0-.5h0m0 1h0m0-1h0m0 .5h0m0 .5h0m.5 .5h0m0-1.5h0m0 1.5h0m0-1.5h0m0 1.5h0m0-.5h0m.5 0h0m0-.5h0m0 1h0m0-1.5h0m0 1.5h0m.5 0h0m0-1h0m.5 1h0m0-1.5h0m0 .5h0m.5 0h0m0 .5h0m0-1h0m0 1.5h0m0-.5h0m0-1h0m0 1h0m0-1h0m0 .5h0m0 1h0m.5-.5h0m0 .5h0m.5-.5h0m0 .5h0m0-1h0m0-.5h0m0 1h0m0 .5h0m.5 0h0m0-1h0m0 .5h0m.5 0h0m0 .5h0m0-1.5h0m0 .5h0m.5-.5h0m0 1h0m0-1h0m0 1h0m.5 .5h0m0-.5h0m.5 0h0m0 .5h0m0-1.5h0m.5 .5h0m0-.5h0m0 1.5h0m0-1h0m.5 0h0m.5 1h0m0-.5h0m.5 .5h0m0-.5h0m.5 0h0m0-1h0m.5 .5h0m0-.5h0m0 1h0m0-.5h0m.5 .5h0m.5-1h0m.5 1h0m.5 0h0m.5 0h0m1 .5h0m0-.5h0m1 .5h0m.5-1h0m-21.5 3h0m0-.5h0m.5 .5h0m0-1.5h0m0 1.5h0m0-.5h0m.5-.5h0m0 1h0m0-1.5h0m0 1h0m.5 0h0m0 .5h0m0-1.5h0m.5 1h0m0-.5h0m0-.5h0m.5 1h0m0 .5h0m0-1h0m0 1h0m0-1h0m0-.5h0m.5 0h0m0 .5h0m0-.5h0m0 .5h0m0 .5h0m0-.5h0m.5-.5h0m0 .5h0m0 .5h0m0 .5h0m.5-1h0m0 .5h0m0 .5h0m.5-.5h0m0-1h0m0 .5h0m0 .5h0m0-.5h0m0 1h0m0-.5h0m.5-1h0m0 1.5h0m0-1.5h0m.5 1.5h0m0-1.5h0m0 1.5h0m0-1h0m0 1h0m.5-1.5h0m0 1h0m0-.5h0m.5 .5h0m0-1h0m0 .5h0m0-.5h0m0 .5h0m0-.5h0m.5 0h0m0 1.5h0m.5-.5h0m0-1h0m.5 1.5h0m0-1.5h0m.5 0h0m0 1h0m0 .5h0m0-1.5h0m.5 1.5h0m0-1h0m0 1h0m0-1.5h0m0 1h0m.5 .5h0m0-1.5h0m0 1h0m0 .5h0m0-1.5h0m0 .5h0m0 1h0m0-.5h0m.5-.5h0m0-.5h0m.5 .5h0m0 .5h0m0-.5h0m0 .5h0m.5 0h0m0-1h0m0 1h0m0-1h0m.5 1.5h0m0-1.5h0m0 .5h0m0 1h0m0-1.5h0m0 1.5h0m.5-1.5h0m0 1.5h0m0-1.5h0m0 .5h0m0 .5h0m0-1h0m.5 0h0m.5 1h0m0-.5h0m.5 .5h0m0-1h0m0 .5h0m.5 1h0m0-1.5h0m.5 0h0m0 1h0m0-1h0m.5 .5h0m0-.5h0m0 1.5h0m.5-.5h0m0 .5h0m0-.5h0m.5-.5h0m.5 0h0m0 1h0m0-1.5h0m1 0h0m.5 0h0m.5 1.5h0m0-1h0m.5 .5h0m1.5-.5h0m.5 .5h0m.5 0h0m.5-1h0m4 1h0m-26 2h0m0-1h0m0 .5h0m0-.5h0m.5 1.5h0m0-1h0m.5 1h0m0-1.5h0m0 .5h0m.5 0h0m0 .5h0m0 .5h0m0-1h0m0 1h0m0-1h0m.5 0h0m0 .5h0m0-.5h0m0-.5h0m.5 .5h0m0 1h0m0-.5h0m0-1h0m0 1.5h0m.5-1.5h0m.5 1h0m.5 .5h0m0-1h0m0 .5h0m0 .5h0m.5 0h0m0-1.5h0m0 1h0m.5 .5h0m0-1.5h0m0 1.5h0m0-1h0m.5 1h0m.5-1.5h0m0 .5h0m0-.5h0m0 1h0m.5-1h0m0 .5h0m0-.5h0m.5 1h0m0 .5h0m0-.5h0m.5-1h0m0 1h0m.5 0h0m0 .5h0m0-1h0m0 1h0m.5-1h0m0-.5h0m0 1h0m0-1h0m.5 1h0m0 .5h0m0-.5h0m.5-.5h0m0 .5h0m0-.5h0m.5 0h0m0 1h0m0-1.5h0m.5 0h0m0 1h0m.5 0h0m0-.5h0m.5 .5h0m0-1h0m.5 1h0m0 .5h0m1-.5h0m.5 0h0m.5-1h0m0 .5h0m0 1h0m.5-1.5h0m0 1h0m.5-1h0m0 1.5h0m0-1.5h0m.5 0h0m.5 1h0m0 .5h0m1.5-.5h0m0 .5h0m0-.5h0m1-1h0m1 1h0m0-.5h0m0 .5h0m.5-.5h0m1 .5h0m2.5 0h0m3 0h0m-26.5 2h0m0-.5h0m.5 .5h0m0-1h0m0 .5h0m0 .5h0m.5 0h0m0-.5h0m.5-.5h0m0 .5h0m0 .5h0m.5 .5h0m0-.5h0m0 .5h0m.5-1h0m0 1h0m0-1h0m.5 1h0m0-1h0m0 1h0m.5-1h0m0 1h0m0-1.5h0m0 1h0m.5-1h0m0 1h0m.5-.5h0m0 1h0m0-1.5h0m.5 1h0m0-1h0m0 1h0m0-1h0m.5 0h0m0 1h0m.5 .5h0m0-1h0m.5 .5h0m0-1h0m0 1h0m0-1h0m.5 0h0m0 .5h0m0 1h0m.5 0h0m0-1.5h0m0 .5h0m.5 0h0m0 1h0m.5-1.5h0m0 .5h0m0 .5h0m0-1h0m0 .5h0m.5 .5h0m0-.5h0m0-.5h0m0 1h0m.5-1h0m0 1.5h0m0-.5h0m0 .5h0m.5-1h0m.5 .5h0m0 .5h0m0-.5h0m0-.5h0m0 .5h0m0 .5h0m0-1.5h0m.5 1h0m0-1h0m.5 1.5h0m.5-1.5h0m0 .5h0m0 .5h0m.5 .5h0m.5-1h0m.5-.5h0m.5 .5h0m0 1h0m0-1h0m.5 .5h0m0-.5h0m.5 .5h0m1-1h0m0 1h0m.5 0h0m0-.5h0m0 1h0m1.5-1h0m.5 .5h0m.5 .5h0m.5-1.5h0m-19.5 2h0m.5 .5h0m.5-.5h0m0 .5h0m0-.5h0m.5 .5h0m0-.5h0m0 1.5h0m0-1.5h0m.5 1.5h0m0-.5h0m0-.5h0m.5 .5h0m0-1h0m.5 .5h0m0 1h0m0-.5h0m0-.5h0m.5 1h0m0-.5h0m0-1h0m.5 0h0m0 1h0m.5-1h0m0 1h0m0-.5h0m.5-.5h0m.5 1.5h0m0-1.5h0m0 .5h0m0 .5h0m0 .5h0m.5-1.5h0m.5 .5h0m0 .5h0m.5-.5h0m0 1h0m0-.5h0m0-1h0m0 1h0m.5-1h0m0 .5h0m0 .5h0m0-1h0m0 1h0m0 .5h0m.5-1.5h0m0 .5h0m0 1h0m.5-1.5h0m0 .5h0m.5-.5h0m.5 .5h0m0 .5h0m0 .5h0m.5-1h0m0-.5h0m.5 .5h0m1 .5h0m0-.5h0m.5 1h0m1-1.5h0m0 1.5h0m2-1h0m1.5 1h0m.5-1.5h0m1 .5h0m.5 1h0m1-1h0m0 1h0m-19.5 .5h0m0 1.5h0m.5-1.5h0m0 1.5h0m.5-.5h0m.5 .5h0m0-.5h0m.5 0h0m0 .5h0m.5-1.5h0m0 .5h0m0 .5h0m0 .5h0m0-1h0m0-.5h0m.5 1h0m0-.5h0m0 .5h0m.5 .5h0m0-.5h0m0-.5h0m0-.5h0m.5 .5h0m0 .5h0m.5-.5h0m0 1h0m.5-.5h0m0-.5h0m.5 1h0m0-1h0m1 1h0m.5-.5h0m.5 .5h0m.5-1.5h0m0 1h0m.5-1h0m.5 .5h0m0 .5h0m0-1h0m.5 1.5h0m1 0h0m0-.5h0m.5 .5h0m0-1.5h0m1 0h0m1.5 0h0m.5 1h0m.5 .5h0m1-1.5h0m1 1h0m2 0h0m0-1h0m0 1h0m.5 .5h0m-19 2h0m0-1.5h0m.5 0h0m0 1h0m.5-.5h0m0-.5h0m.5 .5h0m0-.5h0m0 1.5h0m.5-.5h0m0-.5h0m0 .5h0m0-.5h0m.5-.5h0m0 1.5h0m0-1.5h0m.5 1h0m0 .5h0m1-1.5h0m0 1h0m0-.5h0m0-.5h0m1 0h0m0 1.5h0m0-.5h0m0-.5h0m.5-.5h0m.5 0h0m0 1h0m0-1h0m.5 1.5h0m.5-1.5h0m.5 1h0m.5-1h0m0 1h0m0-1h0m.5 0h0m.5 1.5h0m.5-.5h0m.5 .5h0m.5-1h0m.5 0h0m0-.5h0m0 1h0m.5-.5h0m0 1h0m0-1h0m1-.5h0m.5 0h0m1 0h0m0 .5h0m.5 1h0m.5-1h0m0 1h0m.5 0h0m1-.5h0m.5 0h0m2-.5h0m0 .5h0m0-1h0m-19 2.5h0m0 .5h0m.5 0h0m1-1h0m0 1h0m0-1h0m0 .5h0m0 .5h0m0-1h0m.5 0h0m0 1.5h0m0-1.5h0m.5 0h0m.5 .5h0m0-.5h0m0 1h0m.5-.5h0m0 1h0m0-1h0m.5-.5h0m0 .5h0m.5 0h0m0 1h0m0-1h0m0 .5h0m.5-1h0m0 .5h0m.5 1h0m.5-1.5h0m1 1.5h0m.5 0h0m.5 0h0m.5-1.5h0m1 1.5h0m0-1h0m1 0h0m1 0h0m1-.5h0m.5 0h0m0 1h0m0-1h0m2 1.5h0m1 0h0m1-.5h0m1-1h0m1 1.5h0m1-1h0m-19 2h0m0-.5h0m.5 1h0m.5 0h0m0-1h0m0 .5h0m.5 .5h0m.5 .5h0m.5-1.5h0m0 1h0m.5 .5h0m.5-1.5h0m0 1h0m0-1h0m.5 .5h0m.5 1h0m1 0h0m.5-.5h0m0-.5h0m0 .5h0m0 .5h0m.5 0h0m0-.5h0m1-1h0m1.5 1.5h0m1-.5h0m0-1h0m.5 .5h0m1 1h0m0-1.5h0m1 1h0m2-1h0m1 .5h0m0 .5h0m.5 0h0m2-.5h0" stroke="#000" stroke-width="0.45" stroke-linecap="square" fill="none" filter="url(#f12_49)"/>
<line x1="291.3" y1="288" x2="359.4" y2="288" stroke="#666" stroke-width="0.6"/>
<line x1="291.3" y1="356.2" x2="359.4" y2="356.2" stroke="#666" stroke-width="0.6"/>
<line x1="291.3" y1="288" x2="291.3" y2="356.2" stroke="#666" stroke-width="0.6"/>
<line x1="359.4" y1="288" x2="359.4" y2="356.2" stroke="#666" stroke-width="0.6"/>
<line x1="317.5" y1="288" x2="317.5" y2="356.2" stroke="#666" stroke-width="0.6"/>
<line x1="291.3" y1="316" x2="359.4" y2="316" stroke="#666" stroke-width="0.6"/>
<line x1="291.3" y1="288" x2="291.3" y2="356.2" stroke="#000" stroke-width="1.0"/>
<line x1="291.3" y1="356.2" x2="359.4" y2="356.2" stroke="#000" stroke-width="0.9"/>
<line x1="289.7" y1="293.7" x2="291.3" y2="293.7" stroke="#000" stroke-width="0.6"/>
<line x1="289.7" y1="309.6" x2="291.3" y2="309.6" stroke="#000" stroke-width="0.6"/>
<line x1="289.7" y1="324.4" x2="291.3" y2="324.4" stroke="#000" stroke-width="0.6"/>
<line x1="289.7" y1="341.3" x2="291.3" y2="341.3" stroke="#000" stroke-width="0.6"/>
<line x1="289.7" y1="348.8" x2="291.3" y2="348.8" stroke="#000" stroke-width="0.6"/>
<line x1="298" y1="356.2" x2="298" y2="357.8" stroke="#000" stroke-width="0.6"/>
<line x1="305" y1="356.2" x2="305" y2="357.8" stroke="#000" stroke-width="0.6"/>
<line x1="322.4" y1="356.2" x2="322.4" y2="357.8" stroke="#000" stroke-width="0.6"/>
<line x1="339.3" y1="356.2" x2="339.3" y2="357.8" stroke="#000" stroke-width="0.6"/>
<line x1="353.1" y1="356.2" x2="353.1" y2="357.8" stroke="#000" stroke-width="0.6"/>
<text x="288.8" y="294.9" font-size="3.4" text-anchor="end" fill="#555">10</text>
<text x="288.8" y="310.8" font-size="3.4" text-anchor="end" fill="#555">10</text>
<text x="288.8" y="325.59999999999997" font-size="3.4" text-anchor="end" fill="#555">10</text>
<text x="288.8" y="342.5" font-size="3.4" text-anchor="end" fill="#555">10</text>
<text x="288.8" y="350" font-size="3.4" text-anchor="end" fill="#555">0</text>
<text x="298" y="361.2" font-size="3.4" text-anchor="middle" fill="#555">0</text>
<text x="305" y="361.2" font-size="3.4" text-anchor="middle" fill="#555">10</text>
<text x="322.4" y="361.2" font-size="3.4" text-anchor="middle" fill="#555">10</text>
<text x="339.3" y="361.2" font-size="3.4" text-anchor="middle" fill="#555">10</text>
<text x="353.1" y="361.2" font-size="3.4" text-anchor="middle" fill="#555">10</text>
<text x="292.3" y="293.5" font-size="5" fill="#222">5.28</text>
<text x="358.6" y="293.5" font-size="5" text-anchor="end" fill="#222">0.093</text>
<text x="358.6" y="355.3" font-size="5" text-anchor="end" fill="#222">0.5</text>
<text transform="translate(272.7,355.1) rotate(-90)" font-size="12" textLength="32.8" lengthAdjust="spacingAndGlyphs" stroke="#000" stroke-width="0.2">CD123</text>
<path d="M276.5,312.6 L276.5,366.7 L333.2,366.7" fill="none" stroke="#000" stroke-width="2.2" stroke-linejoin="miter"/>
<path d="M271.5,317.1 L276.5,310.6 L281.5,317.1" fill="none" stroke="#000" stroke-width="2.2" stroke-linejoin="miter" stroke-linecap="butt"/>
<path d="M328.7,361.7 L335.2,366.7 L328.7,371.7" fill="none" stroke="#000" stroke-width="2.2" stroke-linejoin="miter" stroke-linecap="butt"/>
<text x="290.7" y="383" font-size="12" textLength="26" lengthAdjust="spacingAndGlyphs" stroke="#000" stroke-width="0.2">CD1c</text>
<path d="M450.0,264.6 450.8,257.7 452.3,250.8 453.8,240.8 455.4,230.0 456.9,220.8 458.5,209.2 460.0,202.3 460.8,201.5 461.5,203.8 463.1,206.9 464.6,214.6 466.2,226.9 467.7,236.2 469.2,248.5 470.8,256.2 473.1,260.0 475.4,262.3 478.5,263.8 481.5,264.6Z" fill="#c8c8c8" stroke="#888" stroke-width="0.6"/>
<path d="M425.4,239.2 426.2,236.2 427.4,230.0 428.5,226.2 429.5,222.3 430.5,219.2 431.5,220.0 432.6,218.5 433.5,214.6 434.2,203.8 434.8,201.5 435.4,206.9 436.2,205.4 436.9,208.5 437.7,203.1 438.5,201.5 439.2,203.8 440.0,204.6 440.8,205.4 441.5,206.9 442.3,207.7 443.1,210.0 443.8,211.5 444.6,214.6 445.4,216.9 446.2,219.2 446.9,220.8 447.7,228.5 448.5,236.2 449.2,245.4 450.0,254.6 450.5,262.3 450.8,264.6" fill="none" stroke="#444" stroke-width="0.9"/>
<path d="M424.9,244.0 425.2,254.6 425.7,261.5 426.2,262.6 426.9,261.1 428.5,261.5 430.0,260.8 431.5,261.5 433.1,260.5 434.6,260.8 436.2,260.0 437.7,260.0 439.2,259.2 440.8,258.5 442.3,257.7 443.8,256.9 445.4,257.7 446.9,256.2 447.7,256.9 449.2,256.2 450.0,253.1 450.8,250.0 451.5,249.2 452.3,248.5 453.1,245.4 453.8,239.2 454.6,234.6 455.4,230.0 456.2,225.4 456.9,220.8 457.7,214.6 458.5,208.5 459.2,205.4 460.0,202.3 460.8,201.1 461.5,203.1 462.3,205.4 463.1,206.2 463.8,210.0 464.6,214.6 465.4,220.8 466.2,226.9 466.9,230.0 467.7,236.2 468.5,242.3 469.2,248.5 470.0,253.1 470.8,256.2 472.3,258.5 473.8,259.2 475.4,260.8 476.9,262.3 479.2,263.5 481.5,264.2 484.6,264.6 487.7,264.9" fill="none" stroke="#000" stroke-width="1.5" stroke-linejoin="round"/>
<rect x="424.9" y="196.9" width="67.40000000000003" height="67.70000000000002" fill="none" stroke="#333" stroke-width="0.8"/>
<line x1="423.09999999999997" y1="264.6" x2="424.9" y2="264.6" stroke="#000" stroke-width="0.5"/>
<text x="422.59999999999997" y="265.8" font-size="3.3" font-weight="bold" text-anchor="end" fill="#444">0</text>
<line x1="423.09999999999997" y1="251.76000000000002" x2="424.9" y2="251.76000000000002" stroke="#000" stroke-width="0.5"/>
<text x="422.59999999999997" y="252.96" font-size="3.3" font-weight="bold" text-anchor="end" fill="#444">20</text>
<line x1="423.09999999999997" y1="238.92000000000002" x2="424.9" y2="238.92000000000002" stroke="#000" stroke-width="0.5"/>
<text x="422.59999999999997" y="240.12" font-size="3.3" font-weight="bold" text-anchor="end" fill="#444">40</text>
<line x1="423.09999999999997" y1="226.08" x2="424.9" y2="226.08" stroke="#000" stroke-width="0.5"/>
<text x="422.59999999999997" y="227.28" font-size="3.3" font-weight="bold" text-anchor="end" fill="#444">60</text>
<line x1="423.09999999999997" y1="213.24" x2="424.9" y2="213.24" stroke="#000" stroke-width="0.5"/>
<text x="422.59999999999997" y="214.44" font-size="3.3" font-weight="bold" text-anchor="end" fill="#444">80</text>
<line x1="423.09999999999997" y1="200.4" x2="424.9" y2="200.4" stroke="#000" stroke-width="0.5"/>
<text x="422.59999999999997" y="201.6" font-size="3.3" font-weight="bold" text-anchor="end" fill="#444">100</text>
<line x1="432.988" y1="264.6" x2="432.988" y2="266.20000000000005" stroke="#000" stroke-width="0.5"/>
<text x="432.988" y="269.8" font-size="3.3" font-weight="bold" text-anchor="middle" fill="#444">0</text>
<line x1="438.38" y1="264.6" x2="438.38" y2="266.20000000000005" stroke="#000" stroke-width="0.5"/>
<text x="438.38" y="269.8" font-size="3.3" font-weight="bold" text-anchor="middle" fill="#444">10</text>
<line x1="455.23" y1="264.6" x2="455.23" y2="266.20000000000005" stroke="#000" stroke-width="0.5"/>
<text x="455.23" y="269.8" font-size="3.3" font-weight="bold" text-anchor="middle" fill="#444">10</text>
<line x1="470.058" y1="264.6" x2="470.058" y2="266.20000000000005" stroke="#000" stroke-width="0.5"/>
<text x="470.058" y="269.8" font-size="3.3" font-weight="bold" text-anchor="middle" fill="#444">10</text>
<line x1="484.886" y1="264.6" x2="484.886" y2="266.20000000000005" stroke="#000" stroke-width="0.5"/>
<text x="484.886" y="269.8" font-size="3.3" font-weight="bold" text-anchor="middle" fill="#444">10</text>
<text x="425.6" y="282.5" font-size="10" textLength="22" lengthAdjust="spacingAndGlyphs" stroke="#000" stroke-width="0.2">CD86</text>
<path d="M454.4,278.6 L494,278.6" fill="none" stroke="#000" stroke-width="2"/>
<path d="M488.5,273.6 L495,278.6 L488.5,283.6" fill="none" stroke="#000" stroke-width="2" stroke-linejoin="miter"/>
<path d="M450.8,358.5 452.3,356.5 453.8,353.5 455.4,349.6 456.9,346.5 458.5,343.5 460.0,338.8 461.5,332.7 463.1,326.5 463.8,321.9 464.6,311.2 465.4,305.0 466.2,300.4 466.9,297.3 467.7,297.3 468.9,295.8 470.0,294.2 470.8,297.3 471.5,300.4 472.3,301.9 473.1,308.1 473.8,311.2 474.6,309.6 475.4,315.8 476.2,321.9 476.9,328.1 477.7,331.2 478.5,335.8 479.2,340.4 480.0,346.5 480.8,351.2 481.5,354.2 483.1,357.3 484.6,358.5Z" fill="#c8c8c8" stroke="#aaa" stroke-width="0.7"/>
<path d="M426.2,334.2 426.9,336.5 427.7,335.8 428.5,335.0 429.2,334.2 430.0,332.7 430.8,330.4 431.5,329.6 432.3,331.2 433.1,333.5 433.8,332.7 434.6,331.2 435.4,330.4 436.2,329.6 436.9,328.1 437.7,325.8 438.5,324.2 439.2,322.7 440.0,321.9 440.8,320.4 441.5,319.6 442.3,317.3 443.1,315.0 443.8,312.7 444.6,309.6 445.4,305.0 446.2,301.9 446.9,299.6 447.7,295.8 448.2,294.2 448.5,297.3 448.8,315.8 448.9,355.8 449.1,358.5" fill="none" stroke="#555" stroke-width="0.8"/>
<path d="M426.2,358.1 429.2,357.3 432.3,357.6 435.4,357.3 438.5,357.0 441.5,356.5 444.6,355.8 447.7,355.5 449.2,355.8 450.8,354.2 452.3,352.7 453.8,350.4 455.4,348.1 456.9,346.5 458.5,343.5 459.2,340.4 460.0,337.3 460.8,334.2 461.5,331.2 462.3,328.1 463.1,323.5 463.8,317.3 464.6,311.2 465.4,305.0 466.2,300.4 466.9,295.8 467.4,294.5 468.0,297.3 468.9,300.4 470.0,305.0 470.8,311.2 471.5,315.8 472.3,321.9 473.1,328.1 473.8,331.2 474.6,332.7 475.4,335.8 476.2,338.8 476.9,343.5 477.7,346.5 478.5,349.6 480.0,352.7 481.5,355.5 483.1,357.3 486.2,358.1 489.2,358.2" fill="none" stroke="#000" stroke-width="1.5" stroke-linejoin="round"/>
<rect x="425.8" y="290.4" width="68.80000000000001" height="68.10000000000002" fill="none" stroke="#333" stroke-width="0.8"/>
<line x1="424.0" y1="358.5" x2="425.8" y2="358.5" stroke="#000" stroke-width="0.5"/>
<text x="423.5" y="359.7" font-size="3.3" font-weight="bold" text-anchor="end" fill="#444">0</text>
<line x1="424.0" y1="345.58" x2="425.8" y2="345.58" stroke="#000" stroke-width="0.5"/>
<text x="423.5" y="346.78" font-size="3.3" font-weight="bold" text-anchor="end" fill="#444">20</text>
<line x1="424.0" y1="332.65999999999997" x2="425.8" y2="332.65999999999997" stroke="#000" stroke-width="0.5"/>
<text x="423.5" y="333.85999999999996" font-size="3.3" font-weight="bold" text-anchor="end" fill="#444">40</text>
<line x1="424.0" y1="319.74" x2="425.8" y2="319.74" stroke="#000" stroke-width="0.5"/>
<text x="423.5" y="320.94" font-size="3.3" font-weight="bold" text-anchor="end" fill="#444">60</text>
<line x1="424.0" y1="306.82" x2="425.8" y2="306.82" stroke="#000" stroke-width="0.5"/>
<text x="423.5" y="308.02" font-size="3.3" font-weight="bold" text-anchor="end" fill="#444">80</text>
<line x1="424.0" y1="293.9" x2="425.8" y2="293.9" stroke="#000" stroke-width="0.5"/>
<text x="423.5" y="295.09999999999997" font-size="3.3" font-weight="bold" text-anchor="end" fill="#444">100</text>
<line x1="434.05600000000004" y1="358.5" x2="434.05600000000004" y2="360.1" stroke="#000" stroke-width="0.5"/>
<text x="434.05600000000004" y="363.7" font-size="3.3" font-weight="bold" text-anchor="middle" fill="#444">0</text>
<line x1="439.56" y1="358.5" x2="439.56" y2="360.1" stroke="#000" stroke-width="0.5"/>
<text x="439.56" y="363.7" font-size="3.3" font-weight="bold" text-anchor="middle" fill="#444">10</text>
<line x1="456.76" y1="358.5" x2="456.76" y2="360.1" stroke="#000" stroke-width="0.5"/>
<text x="456.76" y="363.7" font-size="3.3" font-weight="bold" text-anchor="middle" fill="#444">10</text>
<line x1="471.896" y1="358.5" x2="471.896" y2="360.1" stroke="#000" stroke-width="0.5"/>
<text x="471.896" y="363.7" font-size="3.3" font-weight="bold" text-anchor="middle" fill="#444">10</text>
<line x1="487.03200000000004" y1="358.5" x2="487.03200000000004" y2="360.1" stroke="#000" stroke-width="0.5"/>
<text x="487.03200000000004" y="363.7" font-size="3.3" font-weight="bold" text-anchor="middle" fill="#444">10</text>
<text x="426.5" y="377.3" font-size="10" textLength="35" lengthAdjust="spacingAndGlyphs" stroke="#000" stroke-width="0.2">HLA-DR</text>
<path d="M468.3,373.8 L493.5,373.8" fill="none" stroke="#000" stroke-width="2"/>
<path d="M488.0,368.8 L494.5,373.8 L488.0,378.8" fill="none" stroke="#000" stroke-width="2" stroke-linejoin="miter"/>
<line x1="42.5" y1="448.5" x2="42.5" y2="588.2" stroke="#000" stroke-width="2"/>
<line x1="41.5" y1="587.2" x2="250.8" y2="587.2" stroke="#000" stroke-width="2"/>
<line x1="37.5" y1="587.2" x2="42.5" y2="587.2" stroke="#000" stroke-width="1.4"/>
<text x="36.1" y="590.8000000000001" font-size="10" font-weight="bold" text-anchor="end">0.0</text>
<line x1="37.5" y1="541.2166666666667" x2="42.5" y2="541.2166666666667" stroke="#000" stroke-width="1.4"/>
<text x="36.1" y="544.8166666666667" font-size="10" font-weight="bold" text-anchor="end">0.5</text>
<line x1="37.5" y1="495.23333333333335" x2="42.5" y2="495.23333333333335" stroke="#000" stroke-width="1.4"/>
<text x="36.1" y="498.83333333333337" font-size="10" font-weight="bold" text-anchor="end">1.0</text>
<line x1="37.5" y1="449.25" x2="42.5" y2="449.25" stroke="#000" stroke-width="1.4"/>
<text x="36.1" y="452.85" font-size="10" font-weight="bold" text-anchor="end">1.5</text>
<line x1="94.2" y1="587.2" x2="94.2" y2="590.7" stroke="#000" stroke-width="1.3"/>
<line x1="198.3" y1="587.2" x2="198.3" y2="591.7" stroke="#000" stroke-width="1.5"/>
<text x="85.2" y="600.9" font-size="10" font-weight="bold" textLength="17" lengthAdjust="spacingAndGlyphs">HIS</text>
<text x="173.7" y="600.9" font-size="10" font-weight="bold" textLength="49" lengthAdjust="spacingAndGlyphs">HIS SGM3</text>
<text transform="translate(20.4,590.8) rotate(-90)" font-size="10.6" font-weight="bold" textLength="143.8" lengthAdjust="spacingAndGlyphs">% of CD38-CD34+c-KIT+ cells</text>
<rect x="91.75" y="468.50" width="5.5" height="5.5"/>
<rect x="91.75" y="508.50" width="5.5" height="5.5"/>
<rect x="91.75" y="534.75" width="5.5" height="5.5"/>
<rect x="91.75" y="545.25" width="5.5" height="5.5"/>
<rect x="83.50" y="554.25" width="5.5" height="5.5"/>
<rect x="91.75" y="555.50" width="5.5" height="5.5"/>
<rect x="99.75" y="552.25" width="5.5" height="5.5"/>
<rect x="91.75" y="570.25" width="5.5" height="5.5"/>
<line x1="58.75" y1="538.75" x2="128.75" y2="538.75" stroke="#000" stroke-width="1.4"/>
<path d="M195.15,544.05L198.25,538.45L201.35,544.05Z"/>
<path d="M195.15,557.80L198.25,552.20L201.35,557.80Z"/>
<path d="M195.15,567.30L198.25,561.70L201.35,567.30Z"/>
<path d="M169.90,570.80L173.00,565.20L176.10,570.80Z"/>
<path d="M178.65,570.80L181.75,565.20L184.85,570.80Z"/>
<path d="M203.15,574.05L206.25,568.45L209.35,574.05Z"/>
<path d="M211.90,570.80L215.00,565.20L218.10,570.80Z"/>
<path d="M186.90,576.05L190.00,570.45L193.10,576.05Z"/>
<path d="M195.15,577.80L198.25,572.20L201.35,577.80Z"/>
<path d="M178.65,582.30L181.75,576.70L184.85,582.30Z"/>
<path d="M186.90,585.30L190.00,579.70L193.10,585.30Z"/>
<path d="M211.90,584.80L215.00,579.20L218.10,584.80Z"/>
<path d="M203.15,587.80L206.25,582.20L209.35,587.80Z"/>
<path d="M195.15,588.55L198.25,582.95L201.35,588.55Z"/>
<line x1="163" y1="571" x2="232.3" y2="571" stroke="#000" stroke-width="1.4"/>
<line x1="141.2" y1="522.5" x2="159.2" y2="522.5" stroke="#000" stroke-width="2.3"/>
<text x="147.1" y="522.6" font-size="14" font-weight="bold" text-anchor="middle">*</text>
<text x="153.5" y="522.6" font-size="14" font-weight="bold" text-anchor="middle">*</text>
<text x="340.7" y="415.8" font-size="9.6" textLength="13.5" lengthAdjust="spacingAndGlyphs">HIS</text>
<text x="466.2" y="405.8" font-size="9.6" textLength="13" lengthAdjust="spacingAndGlyphs">HIS</text>
<text x="445.5" y="418.4" font-size="9.8" textLength="54.5" lengthAdjust="spacingAndGlyphs">CD34+CD38-</text>
<text x="325.7" y="530.8" font-size="9.6" textLength="41.8" lengthAdjust="spacingAndGlyphs">HIS SGM3</text>
<text x="451.2" y="522.6" font-size="9.6" textLength="42" lengthAdjust="spacingAndGlyphs">HIS SGM3</text>
<text x="445.5" y="535.3" font-size="9.8" textLength="54.5" lengthAdjust="spacingAndGlyphs">CD34+CD38-</text>
<path d="M345.5 448.5h0m10.5 5.5h0m1 1h0m3 2.5h0m5.5-1h0m-24.5 3h0m9-1.5h0m11 1.5h0m-24.5 2h0m3-.5h0m5 0h0m0 .5h0m1-.5h0m7 0h0m2 0h0m1 0h0m.5-.5h0m6 .5h0m2.5-1h0m1 1h0m.5 0h0m7.5 .5h0m-40.5 2h0m10.5-1.5h0m3 1.5h0m.5 0h0m1-1.5h0m3 1.5h0m1.5 0h0m1-1.5h0m1 0h0m.5 1.5h0m4-1.5h0m0 1h0m1.5 0h0m.5 0h0m-28.5 2.5h0m.5-1h0m5 0h0m3.5 1h0m4.5 0h0m1-1h0m3.5 0h0m1 0h0m1.5 0h0m0 .5h0m3 0h0m.5 .5h0m2-1.5h0m4 1.5h0m4.5-1.5h0m.5 1h0m-46 2.5h0m4.5 0h0m6.5 0h0m5.5 0h0m2-.5h0m2.5 0h0m.5 0h0m.5 .5h0m2.5 0h0m3.5-1.5h0m0 1h0m0-.5h0m1 .5h0m0 .5h0m1 0h0m1-1h0m0-.5h0m.5 1h0m.5 0h0m1-1h0m1 0h0m1 0h0m.5 1h0m.5 0h0m.5 .5h0m1-1h0m0-.5h0m1.5 0h0m0 1h0m.5 0h0m1 .5h0m1.5-.5h0m4-1h0m1 .5h0m1.5 .5h0m1-1h0m-46 3.5h0m4 0h0m6.5-1h0m3-.5h0m1.5 0h0m1 1h0m1-1h0m0 .5h0m3.5 .5h0m1.5 0h0m0-.5h0m0 1h0m.5-1h0m1-.5h0m.5 1h0m0 .5h0m.5 0h0m.5 0h0m.5-1h0m.5 .5h0m0-.5h0m.5 .5h0m.5 0h0m2-1h0m.5 1.5h0m1.5 0h0m.5 0h0m2 0h0m0-1h0m.5 .5h0m1-1h0m0 1.5h0m1.5-.5h0m.5 .5h0m2.5-.5h0m1.5 .5h0m5.5-1.5h0m-40.5 3h0m3.5 0h0m2-.5h0m1-.5h0m1 0h0m3.5 .5h0m.5 0h0m.5 1h0m0-1h0m.5-.5h0m.5 1.5h0m1.5 0h0m.5 0h0m0-.5h0m0-.5h0m0 .5h0m2 0h0m.5 0h0m0-.5h0m0 .5h0m.5 0h0m0-.5h0m.5-.5h0m.5 1.5h0m0-1h0m.5-.5h0m.5 1.5h0m0-1h0m.5 1h0m0-.5h0m1 0h0m0-.5h0m.5 1h0m0-.5h0m.5 .5h0m.5-1h0m.5-.5h0m.5 1.5h0m0-.5h0m0 .5h0m.5-1.5h0m0 1.5h0m.5-1h0m0 .5h0m.5 0h0m.5-.5h0m0 1h0m3.5-.5h0m.5-1h0m0 .5h0m1.5-.5h0m1 .5h0m.5-.5h0m.5 0h0m4.5 1h0m.5-.5h0m2.5-.5h0m-39.5 3h0m.5 0h0m.5-.5h0m3 0h0m.5 0h0m1 .5h0m1-1h0m.5 .5h0m.5 0h0m.5 1h0m.5-.5h0m0-1h0m.5 1h0m1 .5h0m.5-1h0m.5-.5h0m.5 .5h0m0 1h0m1-.5h0m.5-.5h0m0 1h0m0-1h0m.5 .5h0m.5-.5h0m0-.5h0m1 0h0m.5 1h0m.5-1h0m.5 0h0m0 1h0m0 .5h0m.5-1.5h0m0 1.5h0m0-.5h0m.5 .5h0m.5-1h0m0 1h0m.5 0h0m0-1.5h0m.5 1.5h0m0-1h0m.5 1h0m.5-1h0m0-.5h0m.5 1h0m.5 .5h0m0-1h0m0 1h0m1-1h0m.5-.5h0m.5 .5h0m.5 .5h0m.5-.5h0m.5 0h0m.5 .5h0m0 .5h0m1 0h0m0-1h0m.5 1h0m0-.5h0m1-.5h0m0 1h0m0-1.5h0m.5 .5h0m0-.5h0m1 1h0m.5-.5h0m.5-.5h0m.5 .5h0m.5 1h0m.5-.5h0m.5 .5h0m0-1.5h0m2.5 1.5h0m1.5-1.5h0m3 1h0m1 .5h0m-43.5 2h0m2-1h0m.5-.5h0m1 .5h0m1 0h0m3.5 .5h0m.5 0h0m.5 .5h0m1-1.5h0m.5 .5h0m1 1h0m.5-1h0m0 .5h0m2-.5h0m0 1h0m.5 0h0m1-.5h0m0-1h0m.5 1h0m.5 0h0m.5 .5h0m0-1.5h0m.5 1.5h0m1-1.5h0m0 1.5h0m.5-1h0m0 1h0m.5-1h0m0 1h0m.5-1.5h0m.5 1.5h0m.5-.5h0m.5 0h0m.5-.5h0m0 .5h0m.5-.5h0m0 1h0m0-1h0m.5 .5h0m0-1h0m1 1.5h0m0-.5h0m0-.5h0m.5 1h0m.5-1h0m0 1h0m0-1h0m.5-.5h0m.5 0h0m0 .5h0m.5-.5h0m0 1.5h0m0-.5h0m0 .5h0m0-1.5h0m.5 .5h0m.5 1h0m0-.5h0m1 0h0m0-.5h0m0-.5h0m.5 1.5h0m.5-.5h0m1.5-1h0m1.5 .5h0m1 0h0m.5-.5h0m1.5 .5h0m1-.5h0m0 1.5h0m4.5 0h0m-50.5 1.5h0m11 0h0m1-.5h0m.5 0h0m1 0h0m.5-.5h0m3 0h0m.5 1h0m.5-1h0m1 .5h0m0-.5h0m1 1.5h0m0-1h0m0-.5h0m.5 0h0m1.5 0h0m.5 .5h0m1 .5h0m0-1h0m.5 .5h0m.5 .5h0m0 .5h0m0-.5h0m.5 .5h0m0-1.5h0m.5 1h0m0-.5h0m.5 1h0m0-1h0m0 1h0m.5-.5h0m.5-1h0m0 1.5h0m.5 0h0m0-.5h0m0-1h0m.5 0h0m0 .5h0m0-.5h0m.5 0h0m.5 1h0m0-.5h0m.5 .5h0m.5 .5h0m.5-.5h0m.5-.5h0m0 1h0m.5-.5h0m0-.5h0m.5 0h0m0 .5h0m0 .5h0m.5-1h0m0 .5h0m0-.5h0m0-.5h0m0 1h0m.5 0h0m.5 0h0m0-1h0m.5 .5h0m0 .5h0m.5-1h0m.5 .5h0m0 .5h0m.5 .5h0m0-1h0m0 1h0m.5-1.5h0m0 1.5h0m.5-1.5h0m.5 .5h0m.5 1h0m.5-1.5h0m.5 .5h0m0-.5h0m.5 .5h0m0 1h0m.5 0h0m.5 0h0m1-.5h0m0 .5h0m.5-1h0m2.5 .5h0m0 .5h0m.5 0h0m1-1.5h0m0 1.5h0m1-.5h0m1.5 .5h0m2-1h0m1 0h0m-60 1.5h0m7.5 1h0m4 .5h0m2-.5h0m.5-1h0m2 .5h0m3 0h0m0 1h0m2-1.5h0m2.5 0h0m.5 1.5h0m0-.5h0m1-.5h0m1 .5h0m0 .5h0m.5-1.5h0m0 .5h0m1 0h0m.5-.5h0m0 .5h0m0 1h0m.5-1h0m0 .5h0m.5 0h0m0-1h0m.5 1h0m0-.5h0m0 .5h0m.5 .5h0m1-.5h0m0 .5h0m.5-.5h0m0-1h0m0 1.5h0m.5 0h0m0-1.5h0m0 .5h0m.5 0h0m.5-.5h0m0 1.5h0m0-.5h0m0-.5h0m.5 0h0m0 .5h0m0-1h0m0 1.5h0m0-1h0m.5 .5h0m0-1h0m.5 0h0m.5 1h0m.5-.5h0m0 1h0m.5-1h0m0 1h0m1-1h0m0 1h0m.5-1h0m1-.5h0m0 1h0m0-1h0m.5 1.5h0m.5-.5h0m0-1h0m.5 .5h0m.5 1h0m0-.5h0m.5 0h0m0 .5h0m0-.5h0m0-.5h0m0 1h0m.5 0h0m0-1h0m0 1h0m0-1.5h0m0 1.5h0m.5 0h0m.5-.5h0m.5 .5h0m0-1h0m.5 1h0m0-.5h0m0-.5h0m.5-.5h0m0 .5h0m0-.5h0m.5 .5h0m0 .5h0m.5-.5h0m0 .5h0m0-1h0m1 0h0m.5 0h0m.5 1.5h0m0-.5h0m0-.5h0m.5-.5h0m0 1.5h0m.5-1h0m0 .5h0m0-.5h0m.5 1h0m.5 0h0m0-.5h0m1.5 .5h0m0-1h0m1 1h0m.5-1.5h0m0 1h0m.5 .5h0m.5-.5h0m1 .5h0m1-1h0m1 1h0m1.5 0h0m.5-1.5h0m2 0h0m.5 0h0m.5 1h0m8-.5h0m-54.5 1.5h0m7 1h0m.5 0h0m0-1h0m1 1.5h0m.5-.5h0m.5 0h0m0 .5h0m1.5-1.5h0m.5 1h0m.5-1h0m.5 1h0m.5 .5h0m0-1h0m0-.5h0m.5 1h0m.5-.5h0m0 .5h0m0 .5h0m.5-.5h0m0 .5h0m.5-1h0m1 0h0m0 1h0m1-.5h0m.5 0h0m.5 .5h0m0-1.5h0m0 1h0m.5-1h0m.5 .5h0m0 1h0m.5-1h0m.5 .5h0m0-.5h0m0-.5h0m0 .5h0m.5 .5h0m0-1h0m0 1.5h0m0-.5h0m.5 0h0m0-1h0m0 .5h0m.5 1h0m0-1h0m1 .5h0m.5 .5h0m0-1h0m0 1h0m0-1.5h0m.5 0h0m0 1h0m.5 .5h0m.5-1h0m0-.5h0m0 .5h0m0 .5h0m.5-1h0m0 .5h0m0 1h0m0-1.5h0m.5 1h0m0-.5h0m0 1h0m0-1h0m.5 1h0m0-1.5h0m0 1h0m0-.5h0m.5 0h0m0-.5h0m.5 1h0m0-1h0m.5 0h0m0 1.5h0m.5-.5h0m0-.5h0m0-.5h0m.5 .5h0m0 .5h0m0 .5h0m0-1h0m.5 .5h0m0-1h0m.5 .5h0m0 .5h0m0-.5h0m0 .5h0m0 .5h0m0-1.5h0m1.5 1.5h0m1-1.5h0m.5 1h0m0 .5h0m.5-1.5h0m0 1h0m.5-1h0m0 .5h0m0-.5h0m.5 0h0m0 1.5h0m1.5-.5h0m0-.5h0m.5 0h0m.5 .5h0m.5-.5h0m.5 0h0m.5 0h0m0 .5h0m.5 .5h0m0-.5h0m.5 .5h0m1-.5h0m.5-.5h0m2.5 .5h0m-46 2h0m1.5 .5h0m.5 0h0m1-.5h0m.5 .5h0m2-.5h0m0 .5h0m0-.5h0m.5 0h0m3.5-.5h0m0-.5h0m.5 1.5h0m1 0h0m0-1.5h0m.5 1.5h0m.5-1.5h0m.5 1h0m.5-1h0m0 1h0m1 .5h0m0-.5h0m0 .5h0m.5-.5h0m0-.5h0m0-.5h0m.5 0h0m0 .5h0m.5-.5h0m.5 0h0m0 1.5h0m1 0h0m0-1.5h0m.5 1.5h0m0-1.5h0m.5 0h0m0 .5h0m1.5 0h0m0 1h0m.5 0h0m.5-.5h0m1-1h0m0 1.5h0m.5-1.5h0m0 1.5h0m0-1h0m.5 .5h0m.5-.5h0m0 .5h0m.5-1h0m.5 1.5h0m0-1.5h0m0 .5h0m.5 1h0m0-1.5h0m0 1h0m0-1h0m.5 .5h0m0-.5h0m.5 1.5h0m0-1h0m.5 0h0m0-.5h0m0 .5h0m.5 .5h0m0-.5h0m0 .5h0m.5 .5h0m0-.5h0m.5-1h0m0 1.5h0m.5-1.5h0m0 1.5h0m.5-1.5h0m.5 0h0m0 .5h0m0 1h0m.5-.5h0m.5 .5h0m0-1.5h0m0 .5h0m0 1h0m0-1h0m.5 1h0m0-1.5h0m0 1.5h0m0-1.5h0m.5 1h0m0-.5h0m0 1h0m.5-1.5h0m1 1.5h0m0-1.5h0m.5 0h0m0 1h0m.5 .5h0m.5 0h0m0-1h0m0 1h0m.5-.5h0m0 .5h0m0-1h0m.5 .5h0m0-.5h0m0-.5h0m0 .5h0m.5 0h0m0 .5h0m0-1h0m.5 1h0m.5 .5h0m.5-1h0m.5 .5h0m.5 .5h0m1-.5h0m0 .5h0m.5-1h0m0 1h0m0-1h0m.5 1h0m1-1h0m0 .5h0m0-.5h0m.5-.5h0m1 0h0m2.5 .5h0m1.5 .5h0m-62 1.5h0m14.5 0h0m4-.5h0m.5 .5h0m1 1h0m1.5-1h0m1.5-.5h0m2.5 0h0m.5 1.5h0m.5-1.5h0m0 1h0m0-1h0m1 0h0m.5 .5h0m0 .5h0m0 .5h0m.5-1h0m.5 1h0m0-1.5h0m0 .5h0m0 .5h0m.5 0h0m0-1h0m.5 1.5h0m0-1.5h0m0 1h0m0-.5h0m.5 1h0m1 0h0m0-.5h0m.5-.5h0m1 .5h0m0-.5h0m0 .5h0m.5-.5h0m.5 1h0m0-1.5h0m.5 0h0m0 1h0m1.5-1h0m.5 .5h0m.5 .5h0m0-1h0m0 1.5h0m0-.5h0m.5 .5h0m0-.5h0m.5 .5h0m0-.5h0m0 .5h0m0-1h0m.5 0h0m.5-.5h0m0 1.5h0m0-1h0m0-.5h0m0 .5h0m.5 1h0m0-.5h0m0-.5h0m.5-.5h0m0 .5h0m0 .5h0m.5-.5h0m.5 1h0m.5-.5h0m0-1h0m0 .5h0m0-.5h0m.5 1h0m0-.5h0m0 .5h0m.5-1h0m0 1h0m.5-.5h0m0-.5h0m0 .5h0m0-.5h0m0 1.5h0m.5-1.5h0m0 1.5h0m.5 0h0m.5-1.5h0m.5 .5h0m0 .5h0m0-.5h0m.5 0h0m0 .5h0m0-1h0m0 .5h0m.5 .5h0m0-.5h0m0 1h0m0-1.5h0m0 .5h0m0-.5h0m.5 1h0m0 .5h0m1-1.5h0m.5 1.5h0m0-1.5h0m.5 .5h0m.5 0h0m1-.5h0m.5 0h0m.5 1h0m0-1h0m0 1h0m.5 .5h0m.5-1.5h0m0 1.5h0m1-.5h0m.5-.5h0m0 1h0m.5-1.5h0m.5 1.5h0m1.5 0h0m.5-1h0m1.5 0h0m1.5 0h0m.5 1h0m2 0h0m6 0h0m-54 .5h0m5.5 0h0m1.5 0h0m2 1h0m.5-1h0m1.5 1h0m0-1h0m.5 1.5h0m.5 0h0m0-1h0m0 1h0m.5 0h0m0-.5h0m.5 0h0m0 .5h0m.5 0h0m1-.5h0m.5 .5h0m0-.5h0m1-.5h0m.5 1h0m0-1h0m0 .5h0m.5 0h0m0 .5h0m0-1h0m1 .5h0m.5-.5h0m.5 .5h0m.5 .5h0m0-.5h0m0-.5h0m.5 .5h0m0-.5h0m.5 1h0m.5 0h0m.5-.5h0m0 .5h0m0-1h0m.5-.5h0m.5 0h0m.5 .5h0m0 .5h0m0 .5h0m.5 0h0m0-1h0m0 1h0m.5-.5h0m.5-1h0m0 1.5h0m0-1h0m0 1h0m.5 0h0m0-.5h0m0-.5h0m.5 .5h0m0 .5h0m0-1.5h0m0 .5h0m.5 .5h0m0-.5h0m.5-.5h0m0 1h0m0-.5h0m.5-.5h0m0 1.5h0m.5-1h0m0-.5h0m0 .5h0m.5 1h0m0-1h0m.5 1h0m0-1.5h0m0 1h0m0 .5h0m1-1.5h0m0 1.5h0m.5-.5h0m.5 0h0m0-1h0m.5 1.5h0m0-1h0m.5 0h0m0-.5h0m0 1.5h0m.5-1.5h0m0 .5h0m0 .5h0m0-1h0m0 .5h0m.5-.5h0m1 1.5h0m0-.5h0m0-1h0m.5 1.5h0m.5-1.5h0m0 1h0m.5-1h0m0 .5h0m0 .5h0m.5 0h0m1.5 0h0m.5-.5h0m.5 .5h0m0 .5h0m0-.5h0m.5 0h0m0-1h0m0 1h0m0 .5h0m3-1.5h0m1 1.5h0m.5-1.5h0m-45.5 3.5h0m1.5-1.5h0m1.5 .5h0m1 0h0m2.5 1h0m1.5 0h0m1-1.5h0m0 .5h0m0 .5h0m.5 0h0m.5 .5h0m.5 0h0m0-.5h0m.5-1h0m0 1h0m.5-.5h0m0 .5h0m1.5-1h0m0 .5h0m2.5 0h0m1 .5h0m0-1h0m.5 1h0m0-1h0m.5 0h0m.5 1h0m0 .5h0m.5-1.5h0m.5 1.5h0m.5-.5h0m.5-1h0m.5 0h0m0 1h0m0-1h0m0 1.5h0m0-.5h0m.5-.5h0m0 1h0m.5-.5h0m1-1h0m0 .5h0m1 1h0m0-.5h0m1 0h0m1-1h0m1 1h0m0 .5h0m.5-.5h0m.5-.5h0m0-.5h0m.5 .5h0m0-.5h0m.5 0h0m0 .5h0m0 1h0m.5-1.5h0m0 .5h0m0-.5h0m.5 1.5h0m0-.5h0m0 .5h0m0-.5h0m.5-1h0m.5 .5h0m0 1h0m0-1h0m1.5 0h0m0 .5h0m.5 .5h0m0-1.5h0m0 1h0m0-.5h0m0-.5h0m.5 1.5h0m0-.5h0m.5-.5h0m0 1h0m.5-1.5h0m1 1.5h0m0-.5h0m.5 0h0m0 .5h0m0-1.5h0m1.5 1h0m0 .5h0m3.5-1.5h0m1 1.5h0m1 0h0m2 0h0m1-.5h0m.5 0h0m.5-.5h0m5 .5h0m-51 2h0m1.5-.5h0m3.5 0h0m.5 1h0m2-1h0m0 1h0m1-1h0m1 0h0m1 1h0m1 0h0m1-1.5h0m.5 0h0m.5 1h0m1.5-1h0m1 1.5h0m0-1h0m.5-.5h0m.5 .5h0m0-.5h0m0 .5h0m0 .5h0m0 .5h0m.5 0h0m1-1.5h0m.5 0h0m0 1h0m0-.5h0m.5 .5h0m0-.5h0m.5 .5h0m0-.5h0m.5-.5h0m.5 1.5h0m0-1h0m1.5 0h0m0 .5h0m1.5 .5h0m0-.5h0m0 .5h0m.5-1.5h0m0 .5h0m.5 .5h0m.5 .5h0m.5-.5h0m0-.5h0m.5 1h0m1 0h0m1-.5h0m1-1h0m.5 1h0m.5 0h0m.5 .5h0m0-.5h0m.5 .5h0m.5-1h0m.5-.5h0m0 .5h0m0-.5h0m.5 1h0m2 0h0m0 .5h0m0-.5h0m1-.5h0m.5-.5h0m.5 .5h0m0 .5h0m.5-1h0m.5 .5h0m.5-.5h0m.5 .5h0m2-.5h0m-34.5 3.5h0m2-.5h0m2 0h0m0-.5h0m1 1h0m3-1h0m1.5 .5h0m0 .5h0m0-1h0m1.5 .5h0m1-1h0m1 .5h0m0 .5h0m0-.5h0m1 1h0m.5-.5h0m.5 0h0m0 .5h0m1-.5h0m1 0h0m.5-1h0m0 1h0m0-1h0m.5 1.5h0m0-.5h0m1.5 .5h0m0-1h0m.5 0h0m1-.5h0m0 .5h0m1.5-.5h0m.5 1h0m.5-1h0m.5 1.5h0m.5 0h0m.5-1.5h0m.5 .5h0m.5 1h0m0-.5h0m1-.5h0m.5 .5h0m.5-1h0m.5 0h0m.5 0h0m0 1.5h0m.5-1h0m.5 .5h0m1 .5h0m.5-.5h0m0-1h0m1 1.5h0m0-1h0m1.5-.5h0m.5 1h0m3.5-.5h0m1 .5h0m2.5 0h0m1 .5h0m5-1.5h0m-64.5 3.5h0m18-.5h0m1.5 .5h0m2.5 0h0m1-.5h0m0-1h0m.5 1.5h0m0-1.5h0m.5 .5h0m.5 0h0m.5 .5h0m.5 .5h0m1-1.5h0m2 .5h0m1.5 .5h0m2-.5h0m0 .5h0m.5 .5h0m0-1h0m.5 .5h0m1 0h0m.5 .5h0m0-1.5h0m.5 .5h0m1-.5h0m1 0h0m.5 1.5h0m0-1h0m.5 0h0m0 1h0m.5-1h0m.5 1h0m.5-1.5h0m0 .5h0m.5-.5h0m.5 0h0m0 1h0m2-1h0m0 .5h0m1 1h0m.5-1.5h0m.5 1h0m1 0h0m0 .5h0m1.5 0h0m2-1h0m1 1h0m1.5-1h0m0 .5h0m6-1h0m1 0h0m2.5 .5h0m0 .5h0m-45.5 2h0m.5-1h0m5 1.5h0m1-1.5h0m2 0h0m1.5 1.5h0m0-.5h0m.5-.5h0m0-.5h0m.5 0h0m1 0h0m.5 1.5h0m.5-.5h0m1-.5h0m0-.5h0m1.5 1h0m.5-.5h0m0-.5h0m.5 .5h0m.5 1h0m.5-1.5h0m.5 .5h0m0 .5h0m.5 .5h0m.5-1h0m.5 1h0m.5-.5h0m.5 0h0m.5-.5h0m.5 .5h0m0-.5h0m1 1h0m1.5 0h0m1-1.5h0m.5 1h0m.5-1h0m1.5 0h0m1 1.5h0m1-1h0m0 1h0m0-1.5h0m.5 1h0m1.5-1h0m1 1h0m.5-1h0m.5 1h0m1 .5h0m2.5-1h0m3.5-.5h0m12 1.5h0m-56 .5h0m4.5 1h0m1 0h0m3.5-1h0m2.5 0h0m1.5 .5h0m.5 .5h0m0-1h0m2.5 .5h0m2 .5h0m.5 0h0m0 .5h0m1-1.5h0m.5 1h0m0-1h0m.5 1h0m1.5-.5h0m1 1h0m1.5-1.5h0m1.5 0h0m0 .5h0m.5 1h0m2 0h0m2.5 0h0m6-.5h0m1.5-1h0m6 0h0m14 1.5h0m5.5-.5h0m-69.5 1h0m7 0h0m4 1.5h0m1.5-1.5h0m5 1.5h0m1 0h0m3.5-1h0m0-.5h0m1 .5h0m2.5-.5h0m1 0h0m0 1.5h0m2.5 0h0m2.5-1h0m4 1h0m.5 0h0m4-1.5h0m4.5 0h0m-25 2.5h0m2-.5h0m.5 0h0m1.5 .5h0m1.5-.5h0m23 .5h0" stroke="#666" stroke-width="0.45" stroke-linecap="square" fill="none" filter="url(#f12_42)"/>
<path d="M335.5 455h0m30.5 .5h0m-40.5 1.5h0m8-1h0m.5 1.5h0m22.5-1.5h0m26 1h0m-76.5 2.5h0m.5-1.5h0m9.5 0h0m2 .5h0m5.5 0h0m-18.5 2.5h0m9.5 0h0m.5-1h0m10 0h0m24.5 .5h0m7.5 0h0m11-.5h0m-59 3h0m9.5 .5h0m17.5-1.5h0m13 .5h0m9.5-.5h0m8 0h0m-58.5 3.5h0m4.5 0h0m10.5-.5h0m5-.5h0m.5 1h0m0-.5h0m-21 2.5h0m21 0h0m5.5-1h0m12 0h0m11.5 0h0m-54.5 2h0m1 .5h0m2-.5h0m3.5-.5h0m13.5 1.5h0m30-.5h0m-45.5 1h0m4 0h0m.5 .5h0m13 .5h0m1 .5h0m14.5 0h0m-28 1h0m12.5-.5h0m7.5 1h0m2.5-1h0m1 .5h0m4.5 .5h0m.5 .5h0m1 0h0m2-1.5h0m1 1.5h0m7 0h0m-49 .5h0m3 1.5h0m.5-1h0m.5-.5h0m5.5 1.5h0m1.5-.5h0m2-.5h0m1-.5h0m.5 1h0m1 0h0m9.5 0h0m3-1h0m.5 .5h0m1.5-.5h0m.5 0h0m4.5 0h0m.5 1.5h0m1.5-.5h0m-36.5 1h0m2 1.5h0m2-.5h0m.5-1h0m2.5 1h0m3 0h0m2.5 0h0m0-1h0m1 1h0m6.5 0h0m.5-1h0m4 0h0m1 .5h0m0 .5h0m3 .5h0m7-1.5h0m1.5 0h0m1 0h0m1.5 0h0m3 1.5h0m26.5 0h0m4.5-.5h0m-75 2h0m3.5-1h0m3.5 0h0m4.5 0h0m5.5 1.5h0m3 0h0m.5-.5h0m1.5 .5h0m1-.5h0m1-.5h0m.5 .5h0m4.5-1h0m1 1.5h0m1.5-.5h0m.5-1h0m1.5 1h0m1.5-.5h0m.5-.5h0m1.5 0h0m2 0h0m0 1.5h0m-33.5 2h0m1.5 0h0m.5 0h0m1-.5h0m5.5-1h0m1 0h0m1 1h0m.5-.5h0m5 .5h0m.5 0h0m1.5 0h0m1-1h0m.5 0h0m1 1h0m1 0h0m.5 0h0m.5-.5h0m1 1h0m4.5-1.5h0m1.5 0h0m5 .5h0m1 .5h0m1 0h0m-41.5 2h0m.5 .5h0m1.5-.5h0m.5-.5h0m.5 1h0m.5-.5h0m1.5-1h0m4.5 .5h0m2 1h0m6-1.5h0m.5 0h0m1.5 1h0m3-1h0m1 .5h0m1 0h0m1 .5h0m.5 0h0m.5 .5h0m2-1h0m0-.5h0m1 .5h0m.5 1h0m1.5-1h0m1 0h0m2 0h0m3 .5h0m4-.5h0m2 0h0m1.5-.5h0m6 .5h0m5.5-.5h0m16 1h0m-69.5 1.5h0m2.5-.5h0m5 0h0m3.5 1.5h0m1.5-.5h0m7 0h0m4 0h0m0-1h0m1 .5h0m3.5 .5h0m2.5-1h0m1 1.5h0m1-.5h0m.5 .5h0m1.5-.5h0m3.5 0h0m24-1h0m-65.5 2h0m3.5 .5h0m5 1h0m2.5-1.5h0m3.5 1.5h0m0-1h0m1 .5h0m1.5 0h0m.5-1h0m1 1.5h0m2-1.5h0m4 .5h0m.5 .5h0m0-1h0m1 1h0m2.5-.5h0m1.5-.5h0m0 1.5h0m1-.5h0m2.5 .5h0m.5-.5h0m2.5 0h0m1.5 .5h0m1-1h0m.5-.5h0m1 1h0m-41.5 2h0m1-.5h0m5 0h0m3 1h0m.5-1.5h0m1.5 1h0m1 .5h0m5-1.5h0m0 1h0m1 .5h0m3-.5h0m.5-.5h0m2 0h0m0-.5h0m4.5 0h0m3 .5h0m2 1h0m.5-.5h0m0-1h0m1 1h0m1.5 .5h0m1-1.5h0m1.5 0h0m3.5 1h0m.5 .5h0m15.5-1h0m.5 0h0m-53.5 1.5h0m5 1.5h0m4.5-1h0m2 0h0m1.5-.5h0m1 1h0m2 0h0m3.5 0h0m2.5-1h0m6.5 1.5h0m.5-1.5h0m1 1h0m.5 .5h0m3.5-1h0m.5 0h0m.5 .5h0m.5-1h0m1 0h0m-39 3h0m6.5 .5h0m2-1h0m4.5 .5h0m1-.5h0m0 1h0m1.5-1h0m.5 0h0m4.5-.5h0m1.5 1.5h0m.5-.5h0m1-.5h0m2.5 .5h0m2-.5h0m0-.5h0m2 0h0m0 1.5h0m2.5 0h0m2-1.5h0m4 .5h0m2.5 1h0m5.5-.5h0m3-1h0m11 0h0m-59.5 2h0m1 0h0m1.5 .5h0m.5-.5h0m3 1.5h0m3-1h0m3 1h0m.5-1h0m3.5 0h0m3-.5h0m1.5 1h0m0 .5h0m.5-1.5h0m.5 1h0m0 .5h0m1.5-1h0m3-.5h0m1 1.5h0m3 0h0m.5 0h0m4-.5h0m2-.5h0m.5 .5h0m0 .5h0m.5-1.5h0m5 1h0m-45.5 2.5h0m2.5 0h0m2.5-1h0m1.5 1h0m.5 0h0m.5-1.5h0m1 .5h0m1.5-.5h0m4 1h0m2.5-1h0m0 1.5h0m3.5-.5h0m9 .5h0m3-1h0m0-.5h0m1 0h0m.5 1h0m1-1h0m3 0h0m1.5 1h0m1 .5h0m.5-1.5h0m1 0h0m7.5 .5h0m2 1h0m-51 2h0m1.5-1h0m6-.5h0m.5 1h0m2 0h0m.5 .5h0m2.5-.5h0m11-1h0m.5 .5h0m.5 1h0m.5-1.5h0m3 .5h0m.5 .5h0m1.5 .5h0m1.5-1h0m3 .5h0m4.5 0h0m.5-.5h0m1 1h0m7.5-.5h0m14.5-.5h0m-58.5 1.5h0m1.5 1.5h0m9.5-1h0m1 .5h0m2 0h0m2-1h0m.5 .5h0m.5-.5h0m2 0h0m0 1.5h0m1.5 0h0m1 0h0m1-.5h0m7 .5h0m0-1h0m1 .5h0m2.5 .5h0m4-.5h0m1.5-1h0m2.5 0h0m12.5 1h0m-54 1h0m5 0h0m1.5 0h0m2.5 .5h0m3.5-.5h0m7.5 .5h0m8.5-.5h0m7 .5h0m43 0h0" stroke="#888" stroke-width="0.5" stroke-linecap="square" fill="none"/>
<path d="M351 465.5h0m1.5 0h0m-9 1.5h0m6 2h0m2.5 .5h0m-9.5 2h0m6.5-1.5h0m-7.5 2.5h0m2 1h0m1.5-1h0m.5 1h0m.5 0h0m.5 0h0m1-1.5h0m0 .5h0m.5 .5h0m1-.5h0m.5 1h0m1.5-1h0m.5 0h0m.5 1h0m0-.5h0m1 0h0m0-.5h0m2 1h0m3.5 0h0m1-1h0m-21.5 1.5h0m3 1.5h0m4-1h0m0 1h0m1 0h0m.5-1.5h0m0 1h0m.5 .5h0m0-1h0m.5 1h0m.5 0h0m.5 0h0m.5-1h0m0 1h0m0-.5h0m0 .5h0m.5-1h0m0 .5h0m0-.5h0m0 1h0m0-1h0m.5 0h0m0-.5h0m.5 1h0m0-.5h0m1 1h0m.5-.5h0m0 .5h0m.5-.5h0m.5 .5h0m0-1.5h0m.5 .5h0m.5-.5h0m.5 1h0m1 0h0m0-1h0m2.5 .5h0m1-.5h0m.5 .5h0m2.5-.5h0m.5 0h0m-22 3h0m2-1h0m.5 1.5h0m0-.5h0m0-.5h0m0-.5h0m.5 1.5h0m0-.5h0m.5 0h0m0 .5h0m0-1h0m.5 0h0m0-.5h0m0 .5h0m.5 1h0m0-.5h0m0-1h0m.5 1.5h0m0-.5h0m0-1h0m0 .5h0m.5 1h0m0-1.5h0m0 1.5h0m0-1h0m0 .5h0m0-1h0m.5 1.5h0m0-1.5h0m0 .5h0m0 1h0m0-1h0m0 .5h0m0-.5h0m0 .5h0m0-.5h0m.5 1h0m0-.5h0m0 .5h0m0-1.5h0m0 1h0m.5 .5h0m0-1h0m0 1h0m0-1.5h0m.5 .5h0m0 .5h0m0-.5h0m.5 0h0m0 1h0m0-.5h0m0 .5h0m0-1.5h0m0 1.5h0m0-1.5h0m.5 1h0m0-.5h0m.5 1h0m0-1h0m0 1h0m0-.5h0m0 .5h0m.5-.5h0m0 .5h0m0-1h0m.5 .5h0m0 .5h0m.5-1h0m0 1h0m.5-.5h0m.5-.5h0m0 1h0m0-1h0m.5 1h0m0-1h0m.5 1h0m0-.5h0m.5-.5h0m.5 0h0m1 .5h0m.5 0h0m1.5-.5h0m.5 1h0m1-1h0m6 .5h0m-33.5 1.5h0m3 .5h0m4.5 .5h0m1-1h0m0-.5h0m1 .5h0m0 .5h0m0 .5h0m.5-.5h0m0 .5h0m0-1h0m0-.5h0m.5 0h0m.5 1h0m0-.5h0m0 1h0m.5 0h0m0-1.5h0m.5 1h0m0 .5h0m.5 0h0m0-.5h0m0-1h0m.5 1.5h0m0-.5h0m0 .5h0m0-1.5h0m0 1.5h0m.5 0h0m0-1h0m0 .5h0m0 .5h0m0-1h0m0 .5h0m0 .5h0m.5-.5h0m0 .5h0m0-.5h0m0-.5h0m0-.5h0m0 1h0m0 .5h0m0-.5h0m0 .5h0m0-.5h0m0 .5h0m.5-1.5h0m0 .5h0m0 1h0m0-1.5h0m0 1.5h0m0-1.5h0m0 1.5h0m0-.5h0m.5 .5h0m0-.5h0m0 .5h0m0-1.5h0m0 1h0m0 .5h0m0-.5h0m0 .5h0m0-1h0m0-.5h0m0 1.5h0m0-.5h0m0-.5h0m0 .5h0m.5 0h0m0 .5h0m0-1.5h0m0 .5h0m0 .5h0m0-1h0m0 .5h0m0 .5h0m0 .5h0m0-1.5h0m0 1.5h0m0-1h0m0 .5h0m.5-1h0m0 1.5h0m0-.5h0m0-1h0m0 .5h0m0 .5h0m0 .5h0m0-1h0m0-.5h0m0 1.5h0m.5-1h0m0 1h0m0-1.5h0m0 .5h0m0 1h0m0-1h0m0 .5h0m0 .5h0m0-1h0m.5 1h0m0-1h0m0-.5h0m0 1.5h0m0-.5h0m0-1h0m0 1h0m0-.5h0m0-.5h0m.5 1.5h0m0-.5h0m0 .5h0m0-.5h0m0-1h0m0 .5h0m0 .5h0m0 .5h0m0-.5h0m0 .5h0m0-1.5h0m0 1h0m.5 0h0m0-.5h0m0 1h0m0-1.5h0m0 1.5h0m0-1.5h0m0 1h0m0 .5h0m0-1h0m0 1h0m0-1h0m0 1h0m0-1h0m0-.5h0m.5 1h0m0-.5h0m0 1h0m0-1.5h0m0 1.5h0m0-.5h0m0-1h0m0 .5h0m.5 1h0m0-1h0m0-.5h0m0 1.5h0m.5-.5h0m0-.5h0m0 .5h0m0-1h0m.5 .5h0m0 .5h0m0-1h0m.5 0h0m0 .5h0m0-.5h0m0 1h0m.5-.5h0m0 .5h0m0 .5h0m0-1h0m.5 .5h0m0 .5h0m0-1.5h0m.5 .5h0m.5 1h0m0-.5h0m0-.5h0m.5 .5h0m0 .5h0m0-.5h0m1-1h0m.5 1.5h0m1.5-1.5h0m4.5 0h0m1.5 0h0m-29 2h0m4 0h0m.5 .5h0m0 1h0m.5-.5h0m1-1h0m.5 1.5h0m.5-1.5h0m.5 0h0m0 1.5h0m0-1h0m.5 0h0m.5-.5h0m0 1h0m0-1h0m0 1.5h0m0-1.5h0m.5 1h0m.5 0h0m0-.5h0m.5-.5h0m0 .5h0m0-.5h0m0 1.5h0m0-1h0m0 1h0m0-1.5h0m0 1.5h0m0-1h0m0 1h0m.5 0h0m0-1.5h0m0 1.5h0m0-.5h0m0-1h0m0 1h0m0-1h0m0 .5h0m.5 0h0m0-.5h0m0 1.5h0m0-.5h0m0-1h0m0 1h0m0 .5h0m0-.5h0m0-.5h0m0 1h0m0-.5h0m0-.5h0m0 1h0m0-1.5h0m0 1.5h0m0-.5h0m0-1h0m0 1.5h0m0-1h0m.5-.5h0m0 .5h0m0 1h0m0-1h0m0-.5h0m0 1h0m0 .5h0m0-1.5h0m0 .5h0m0 .5h0m0 .5h0m0-.5h0m0-.5h0m0 .5h0m.5-1h0m0 1h0m0-1h0m0 1h0m0 .5h0m0-.5h0m0-1h0m0 1h0m0 .5h0m0-1.5h0m0 .5h0m0 1h0m0-1.5h0m0 1.5h0m0-.5h0m0-.5h0m.5 1h0m0-1h0m0 1h0m0-1h0m0 .5h0m0-.5h0m0-.5h0m0 1h0m0 .5h0m0-1.5h0m0 1h0m0 .5h0m0-.5h0m0-.5h0m0 1h0m0-.5h0m0-1h0m0 1h0m0 .5h0m0-.5h0m.5-.5h0m0 1h0m0-1h0m0 1h0m0-1h0m0-.5h0m0 1.5h0m0-.5h0m0 .5h0m0-1.5h0m0 .5h0m.5 0h0m0 1h0m0-.5h0m0-.5h0m0 .5h0m0-.5h0m0 .5h0m0-.5h0m0 .5h0m0-1h0m0 1h0m0-1h0m0 .5h0m0 .5h0m0-.5h0m0 .5h0m.5 .5h0m0-.5h0m0 .5h0m0-.5h0m0 .5h0m0-1h0m0 .5h0m0 .5h0m0-1h0m0 1h0m0-1.5h0m0 1.5h0m0-1h0m.5 1h0m0-1.5h0m0 1h0m0-.5h0m0-.5h0m0 .5h0m0 1h0m0-1.5h0m0 .5h0m0 .5h0m0-.5h0m0 .5h0m0-1h0m0 .5h0m0-.5h0m.5 1h0m0 .5h0m0-1.5h0m0 1h0m0 .5h0m0-1h0m0-.5h0m0 1h0m0-.5h0m0-.5h0m.5 1h0m0 .5h0m0-.5h0m0 .5h0m0-1.5h0m0 1h0m0-1h0m0 .5h0m0-.5h0m0 .5h0m0 1h0m0-1.5h0m0 1h0m0-.5h0m.5 0h0m0 .5h0m0-.5h0m0-.5h0m0 .5h0m0 1h0m0-1.5h0m0 1h0m0-.5h0m0 1h0m0-.5h0m0-1h0m0 1.5h0m.5-1h0m0-.5h0m0 .5h0m0 1h0m0-1h0m0 1h0m.5 0h0m0-.5h0m0-.5h0m0 1h0m0-.5h0m0 .5h0m0-1h0m0 1h0m0-.5h0m.5-.5h0m0 1h0m0-1.5h0m0 1h0m.5 0h0m0 .5h0m0-1h0m0 1h0m.5 0h0m0-.5h0m0-.5h0m0 1h0m0-1h0m0 .5h0m0 .5h0m0-1.5h0m.5 1h0m0-1h0m0 1.5h0m.5-.5h0m0-.5h0m.5-.5h0m0 .5h0m.5-.5h0m1 0h0m.5 0h0m0 .5h0m0 1h0m.5-.5h0m1.5-1h0m.5 1h0m1.5 0h0m1 0h0m1 .5h0m.5-1.5h0m.5 1.5h0m1 0h0m-25.5 1.5h0m.5-.5h0m.5 0h0m1-.5h0m0 .5h0m0 1h0m0-1.5h0m.5 1h0m0-1h0m0 1h0m.5 .5h0m0-1.5h0m0 .5h0m.5 0h0m0-.5h0m0 1.5h0m.5-1h0m0 1h0m0-1h0m0 .5h0m.5 0h0m0 .5h0m0-1h0m0-.5h0m.5 0h0m0 1h0m0-.5h0m.5 0h0m0 1h0m0-1.5h0m0 1.5h0m0-1h0m0 1h0m0-1h0m0 .5h0m0-.5h0m.5-.5h0m0 1.5h0m0-1h0m0 1h0m0-.5h0m0-.5h0m0-.5h0m0 1h0m0-1h0m0 .5h0m.5 .5h0m0-1h0m0 1.5h0m0-.5h0m0-1h0m0 1h0m0 .5h0m0-.5h0m0-1h0m0 1h0m0 .5h0m0-1h0m0 1h0m0-.5h0m.5-1h0m0 1.5h0m0-1h0m0-.5h0m0 1h0m0 .5h0m0-1h0m0 1h0m0-1h0m0-.5h0m0 1.5h0m0-1h0m.5-.5h0m0 .5h0m0 .5h0m0-1h0m0 1h0m0-.5h0m0 .5h0m0-.5h0m0 .5h0m0-.5h0m0 .5h0m0 .5h0m0-1h0m0 1h0m.5-.5h0m0-.5h0m0-.5h0m0 .5h0m0-.5h0m0 .5h0m0 1h0m0-.5h0m0-.5h0m0 .5h0m0-1h0m0 1.5h0m0-1h0m0-.5h0m.5 1h0m0 .5h0m0-.5h0m0 .5h0m0-1.5h0m0 1h0m0 .5h0m0-1h0m0-.5h0m0 1h0m0-.5h0m0 .5h0m0-1h0m0 1h0m0-.5h0m0-.5h0m0 1.5h0m0-1.5h0m0 1.5h0m0-1.5h0m0 1.5h0m0-1h0m0 .5h0m.5-1h0m0 .5h0m0 .5h0m0-1h0m0 1h0m0-.5h0m0 .5h0m0 .5h0m0-1h0m0 1h0m0-1h0m0 1h0m0-1.5h0m0 1.5h0m0-.5h0m0 .5h0m0-.5h0m0 .5h0m0-1h0m0-.5h0m0 .5h0m0 1h0m.5-.5h0m0-.5h0m0 .5h0m0 .5h0m0-1h0m0-.5h0m0 1h0m0-1h0m0 1h0m.5 0h0m0-1h0m0 .5h0m0-.5h0m0 1.5h0m0-1.5h0m0 1.5h0m0-.5h0m0 .5h0m0-1h0m0 .5h0m0-1h0m0 .5h0m.5 1h0m0-.5h0m0-1h0m0 .5h0m0 1h0m0-1h0m0-.5h0m0 .5h0m0-.5h0m0 1h0m.5 .5h0m0-1.5h0m0 .5h0m0 .5h0m0-.5h0m0 .5h0m0 .5h0m0-1.5h0m0 .5h0m.5-.5h0m0 1h0m0-.5h0m0-.5h0m.5 .5h0m0 .5h0m0-1h0m0 1.5h0m0-1.5h0m0 1.5h0m.5-1h0m0 .5h0m0 .5h0m0-.5h0m0-.5h0m0 .5h0m0-1h0m0 1.5h0m0-1.5h0m0 1h0m0 .5h0m.5-1.5h0m0 1.5h0m0-1.5h0m0 1h0m0-.5h0m0 .5h0m.5 .5h0m0-1.5h0m0 1.5h0m.5 0h0m0-.5h0m0 .5h0m0-1h0m0-.5h0m0 1.5h0m1-1h0m.5 0h0m.5 .5h0m.5 .5h0m1.5-1.5h0m2.5 1h0m1 .5h0m2.5-.5h0m2.5 .5h0m2 0h0m2-1h0m.5-.5h0m-33.5 3h0m.5 0h0m.5 0h0m1 .5h0m1-1.5h0m.5 1h0m.5-.5h0m0 .5h0m0 .5h0m.5-.5h0m0-1h0m.5 0h0m1 1h0m0 .5h0m0-1h0m.5 .5h0m0 .5h0m.5-.5h0m0-.5h0m0-.5h0m.5 .5h0m0 .5h0m0-1h0m0 1h0m.5-1h0m0 .5h0m0-.5h0m0 1.5h0m0-1.5h0m0 .5h0m0-.5h0m.5 0h0m0 1.5h0m.5-1.5h0m0 1h0m0-1h0m0 .5h0m0 .5h0m0 .5h0m.5-1.5h0m0 .5h0m0 .5h0m0 .5h0m0-.5h0m.5 .5h0m0-1h0m0 .5h0m0-1h0m0 1h0m0-1h0m0 1h0m0-.5h0m0 .5h0m0 .5h0m0-.5h0m0-.5h0m.5 0h0m0 .5h0m0-1h0m0 1.5h0m0-1.5h0m0 1h0m0 .5h0m0-.5h0m0 .5h0m.5-1.5h0m0 1.5h0m0-.5h0m0 .5h0m0-1.5h0m0 1h0m0-.5h0m0 1h0m0-1h0m.5-.5h0m0 1h0m0-1h0m0 .5h0m0 1h0m0-.5h0m0-.5h0m.5 1h0m0-1h0m0-.5h0m0 1h0m0-1h0m0 1h0m0-.5h0m0 1h0m0-1.5h0m.5 0h0m0 .5h0m0-.5h0m0 .5h0m0-.5h0m0 .5h0m0-.5h0m0 1h0m0-1h0m.5 0h0m0 .5h0m0 1h0m0-1h0m0 .5h0m0 .5h0m0-1h0m0 .5h0m0-.5h0m0-.5h0m0 1.5h0m.5-1h0m0-.5h0m0 .5h0m0-.5h0m0 .5h0m.5-.5h0m0 1.5h0m0-.5h0m0-.5h0m0-.5h0m0 .5h0m0 1h0m.5-.5h0m0 .5h0m0-1.5h0m0 1h0m0-.5h0m0 .5h0m0-1h0m.5 .5h0m0 .5h0m0 .5h0m0-1h0m.5 0h0m0-.5h0m0 1h0m0 .5h0m0-1h0m.5 1h0m0-.5h0m0-.5h0m0 .5h0m.5 .5h0m.5-1h0m0-.5h0m0 1.5h0m.5-1.5h0m0 1h0m.5 0h0m.5-1h0m1.5 1h0m0-.5h0m.5 1h0m1-.5h0m.5-1h0m1.5 1h0m0 .5h0m2.5-.5h0m.5-.5h0m1 .5h0m1 0h0m.5 .5h0m1.5 0h0m.5-1.5h0m1.5 1.5h0m.5-1h0m.5 1h0m.5 0h0m.5 0h0m.5-1.5h0m-33.5 2.5h0m1.5 1h0m2.5-.5h0m.5 0h0m.5-.5h0m0 1h0m0-1.5h0m.5 .5h0m0 .5h0m0-1h0m.5 1.5h0m0-1h0m0 .5h0m1-1h0m0 .5h0m0-.5h0m.5 0h0m0 .5h0m0-.5h0m.5 .5h0m0 1h0m0-1h0m0-.5h0m.5 .5h0m.5 .5h0m0-1h0m0 .5h0m0-.5h0m.5 .5h0m0-.5h0m0 .5h0m0 .5h0m.5-.5h0m0-.5h0m.5 1h0m0-1h0m.5 0h0m0 .5h0m0 1h0m0-1h0m0-.5h0m.5 1.5h0m0-1.5h0m.5 .5h0m0-.5h0m0 1h0m.5-1h0m0 1h0m0 .5h0m.5-1.5h0m.5 1.5h0m0-1.5h0m0 1h0m.5-1h0m0 1.5h0m0-1h0m.5 1h0m.5 0h0m0-.5h0m.5-1h0m0 1h0m1 0h0m2 0h0m1-1h0m1.5 0h0m0 .5h0m.5 0h0m3.5 0h0m0 .5h0m.5 .5h0m1-.5h0m.5-1h0m0 1h0m.5-.5h0m0-.5h0m0 1h0m0 .5h0m0-1.5h0m1 1.5h0m.5 0h0m.5-1.5h0m0 1.5h0m.5-1.5h0m0 1.5h0m0-1h0m.5-.5h0m1.5 .5h0m0 .5h0m1 .5h0m1 0h0m-39.5 1.5h0m2.5-1h0m4.5 1h0m0 .5h0m1-1.5h0m1 .5h0m1 0h0m.5-.5h0m0 1.5h0m.5-1.5h0m.5 .5h0m.5 .5h0m.5-1h0m0 1.5h0m0-.5h0m.5 .5h0m.5 0h0m0-1h0m.5 1h0m.5-1.5h0m0 .5h0m.5-.5h0m0 .5h0m.5 0h0m1-.5h0m1.5 0h0m.5 1h0m1-1h0m0 .5h0m1.5 1h0m1-.5h0m1.5 .5h0m0-1.5h0m2.5 0h0m1 1.5h0m.5-.5h0m1.5-1h0m.5 1h0m.5-1h0m0 1h0m.5 .5h0m0-1.5h0m0 .5h0m.5 0h0m0 1h0m0-1.5h0m.5 1.5h0m0-1h0m0 1h0m0-1h0m0 1h0m0-.5h0m0 .5h0m.5-1.5h0m0 .5h0m0 .5h0m0 .5h0m.5-1h0m.5 1h0m0-.5h0m.5 .5h0m0-.5h0m0 .5h0m0-1.5h0m0 .5h0m0 .5h0m.5-.5h0m0-.5h0m0 1.5h0m0-.5h0m0-1h0m.5 0h0m0 1.5h0m0-1.5h0m0 1h0m0 .5h0m0-1h0m0 .5h0m.5 0h0m0 .5h0m0-1h0m0 .5h0m.5 0h0m0-1h0m0 1h0m0-.5h0m.5 .5h0m.5-1h0m0 1h0m0-1h0m0 1h0m.5 .5h0m.5-.5h0m0 .5h0m0-.5h0m0-.5h0m0 .5h0m1-1h0m.5 0h0m1 1h0m1 .5h0m1-.5h0m-39.5 2.5h0m2-1h0m2 .5h0m1-1h0m1 0h0m.5 1.5h0m1 0h0m1-1.5h0m0 1h0m1.5-1h0m2.5 0h0m.5 1.5h0m1-1.5h0m.5 .5h0m0 .5h0m0-.5h0m3 0h0m1 1h0m1.5-1.5h0m8 1.5h0m0-1h0m.5 .5h0m0-.5h0m0 1h0m.5 0h0m0-.5h0m0-.5h0m.5 1h0m0-1.5h0m.5 1.5h0m0-.5h0m0 .5h0m0-1h0m0-.5h0m.5 0h0m0 .5h0m0 .5h0m0 .5h0m0-1h0m0-.5h0m0 .5h0m0-.5h0m0 1h0m.5-1h0m0 1.5h0m0-1h0m0-.5h0m0 1.5h0m0-1h0m0 .5h0m0 .5h0m0-.5h0m0-1h0m0 .5h0m0 1h0m0-.5h0m.5 0h0m0-1h0m0 .5h0m0 .5h0m0 .5h0m0-1h0m.5 0h0m0-.5h0m0 1h0m0 .5h0m0-1h0m0 .5h0m0-1h0m0 1h0m0-.5h0m0-.5h0m.5 1.5h0m0-1h0m0 1h0m0-1h0m0 .5h0m0-1h0m0 .5h0m0 1h0m0-1.5h0m0 1.5h0m0-.5h0m.5 0h0m0-1h0m0 1.5h0m0-1h0m0 1h0m0-1.5h0m0 1h0m.5 .5h0m0-.5h0m0-1h0m0 .5h0m0 1h0m.5-.5h0m0 .5h0m0-1h0m0-.5h0m0 1h0m0-1h0m0 1.5h0m0-.5h0m0 .5h0m.5-1h0m0 .5h0m0-.5h0m0 .5h0m0-1h0m0 1.5h0m.5-1h0m0-.5h0m0 .5h0m0 .5h0m0 .5h0m0-1.5h0m.5 0h0m1 .5h0m0 1h0m0-1h0m1-.5h0m2 .5h0m-35 1.5h0m3 0h0m.5 0h0m5.5 1h0m0-.5h0m1.5 0h0m2.5-.5h0m8.5 0h0m0 1.5h0m.5-.5h0m0-.5h0m.5 .5h0m.5 0h0m0-.5h0m.5 .5h0m0-1h0m0 1.5h0m0-.5h0m0 .5h0m0-1.5h0m.5 .5h0m0-.5h0m0 1h0m.5 0h0m0-.5h0m0 1h0m0-.5h0m0 .5h0m.5-1h0m0-.5h0m0 1h0m0 .5h0m0-1h0m0-.5h0m.5 .5h0m0 1h0m0-.5h0m0-.5h0m0 .5h0m0-.5h0m.5 .5h0m0 .5h0m0-.5h0m0-1h0m0 1h0m0-.5h0m0 1h0m0-.5h0m.5-.5h0m0 1h0m0-.5h0m0-.5h0m0 1h0m0-.5h0m0-1h0m0 1.5h0m0-.5h0m0-1h0m0 1.5h0m0-1.5h0m.5 1.5h0m0-.5h0m0-1h0m0 1.5h0m0-1h0m0 .5h0m0-1h0m0 .5h0m0 1h0m.5 0h0m0-1.5h0m0 1h0m0-.5h0m0 1h0m.5 0h0m0-1.5h0m0 1.5h0m0-1.5h0m0 1.5h0m0-1.5h0m0 1h0m0-.5h0m0 .5h0m0 .5h0m0-1h0m0-.5h0m.5 1.5h0m0-.5h0m0 .5h0m0-1.5h0m0 1.5h0m0-.5h0m0 .5h0m0-.5h0m0-.5h0m0 1h0m0-1h0m.5-.5h0m0 1h0m0-1h0m0 1.5h0m0-.5h0m0-.5h0m0 1h0m0-1h0m0 1h0m0-1h0m.5 1h0m0-1h0m0 1h0m0-1.5h0m0 1.5h0m.5 0h0m0-1h0m0 .5h0m0 .5h0m0-1.5h0m0 1.5h0m0-1h0m0 1h0m0-1h0m0-.5h0m.5 .5h0m0-.5h0m0 1h0m0-.5h0m0 .5h0m0-.5h0m.5 0h0m.5 1h0m0-1h0m0-.5h0m.5 1h0m0-.5h0m.5 0h0m1 .5h0m2 0h0m-36 1h0m7.5 1h0m2-.5h0m.5 1h0m0-1.5h0m2.5 1h0m9-1h0m.5 0h0m1 1.5h0m1-1h0m0 1h0m.5-1.5h0m0 1.5h0m0-1h0m.5 0h0m0-.5h0m0 1h0m0 .5h0m.5-1.5h0m0 1.5h0m0-1.5h0m0 1h0m0-1h0m.5 .5h0m0-.5h0m0 1h0m0 .5h0m0-1.5h0m0 1.5h0m.5-1.5h0m0 .5h0m0 .5h0m0-1h0m0 .5h0m0 .5h0m0-.5h0m0-.5h0m0 1h0m0-.5h0m.5 0h0m0-.5h0m0 1h0m0 .5h0m0-.5h0m0 .5h0m0-.5h0m0-.5h0m0 1h0m0-1.5h0m0 .5h0m0-.5h0m0 1h0m0-1h0m0 1.5h0m.5-.5h0m0 .5h0m0-1.5h0m0 1.5h0m0-1h0m0 .5h0m0 .5h0m0-1h0m0-.5h0m0 1h0m0 .5h0m.5-.5h0m0 .5h0m0-.5h0m0-1h0m0 1.5h0m0-1h0m0-.5h0m0 1.5h0m0-1.5h0m0 1.5h0m0-1h0m.5 0h0m0 1h0m0-.5h0m0 .5h0m0-1h0m0 1h0m0-.5h0m0-1h0m0 .5h0m0-.5h0m.5 0h0m0 .5h0m0 1h0m0-1.5h0m0 .5h0m0 .5h0m0-1h0m0 .5h0m0 1h0m0-1h0m0-.5h0m0 1.5h0m0-1.5h0m0 1.5h0m0-1h0m.5 0h0m0 .5h0m0-1h0m0 1h0m0-.5h0m0 .5h0m0-1h0m0 .5h0m0 .5h0m0 .5h0m0-1h0m0 .5h0m0-1h0m.5 1.5h0m0-1h0m0-.5h0m0 .5h0m0 .5h0m.5-.5h0m0 .5h0m0 .5h0m0-1.5h0m0 1h0m0 .5h0m.5-1h0m0 1h0m0-1h0m0-.5h0m0 1h0m.5-1h0m0 1.5h0m.5 0h0m0-1.5h0m0 .5h0m0 .5h0m0 .5h0m0-1.5h0m0 1.5h0m.5 0h0m0-1.5h0m.5 0h0m0 1h0m.5 0h0m0 .5h0m1-.5h0m1-1h0m.5 1h0m-26.5 2h0m2-1h0m11 1.5h0m1.5-1h0m.5 .5h0m0 .5h0m.5-.5h0m.5-1h0m0 .5h0m0 1h0m0-.5h0m0 .5h0m0-.5h0m0-1h0m.5 .5h0m0 1h0m0-.5h0m0-1h0m0 .5h0m0 .5h0m0-1h0m0 1h0m0 .5h0m.5-1.5h0m0 1h0m0-.5h0m0 1h0m0-.5h0m0 .5h0m0-.5h0m.5 .5h0m0-1h0m0-.5h0m0 1h0m0 .5h0m0-1h0m0-.5h0m0 1.5h0m0-.5h0m0-1h0m0 1h0m.5-.5h0m0-.5h0m0 .5h0m0 .5h0m0-1h0m0 .5h0m0 .5h0m0-.5h0m.5-.5h0m0 .5h0m0 .5h0m0-1h0m0 .5h0m0 .5h0m0-.5h0m.5 0h0m0 1h0m0-1.5h0m0 .5h0m0 1h0m0-.5h0m0 .5h0m0-1.5h0m0 1h0m0-.5h0m0 1h0m0-.5h0m0-1h0m0 .5h0m.5 0h0m0-.5h0m0 1.5h0m0-1h0m0-.5h0m0 .5h0m0 .5h0m0 .5h0m.5-1.5h0m0 1h0m0-.5h0m0 .5h0m0-.5h0m0 .5h0m0-1h0m.5 .5h0m0-.5h0m0 1.5h0m0-.5h0m0-1h0m0 .5h0m0-.5h0m0 1.5h0m0-.5h0m0 .5h0m0-1.5h0m.5 .5h0m0 .5h0m0 .5h0m0-1h0m0 1h0m0-1h0m.5-.5h0m0 1h0m0-1h0m0 1h0m0-.5h0m0 .5h0m.5-1h0m0 .5h0m0 .5h0m0-.5h0m.5 0h0m0-.5h0m0 1.5h0m0-1h0m0-.5h0m.5 1h0m0-.5h0m.5 1h0m0-1h0m0 1h0m0-.5h0m0-.5h0m.5 1h0m0-.5h0m.5 0h0m0 .5h0m.5-1h0m-36.5 1.5h0m16.5 1h0m7.5-.5h0m1.5 .5h0m.5-.5h0m.5-.5h0m0 .5h0m.5-.5h0m0 1h0m0 .5h0m.5-1h0m.5 0h0m0 1h0m0-1h0m.5 1h0m0-1h0m.5 1h0m0-.5h0m0 .5h0m0-1.5h0m0 .5h0m0-.5h0m0 1h0m.5-1h0m0 1h0m0-.5h0m0-.5h0m0 1.5h0m0-1h0m0-.5h0m0 .5h0m.5 0h0m0 .5h0m.5-1h0m0 .5h0m0 1h0m0-.5h0m0-1h0m0 1.5h0m0-.5h0m.5 .5h0m0-.5h0m0 .5h0m.5 0h0m0-1.5h0m0 1h0m0 .5h0m0-1.5h0m0 1h0m0-.5h0m.5-.5h0m0 1.5h0m0-.5h0m0-.5h0m0 1h0m0-1h0m0 .5h0m0 .5h0m.5-.5h0m0-1h0m0 1h0m0-1h0m0 .5h0m.5 .5h0m0 .5h0m0-.5h0m0 .5h0m0-1h0m0-.5h0m.5 1h0m0-.5h0m0 1h0m.5-.5h0m0-.5h0m0-.5h0m0 1.5h0m0-1.5h0m.5 0h0m0 .5h0m.5 0h0m.5 0h0m-10.5 2.5h0m.5-1h0m1 .5h0m0-.5h0m1 1h0m0-1h0m.5 1h0m0 .5h0m.5-.5h0m0-.5h0m.5-.5h0m0 1h0m0-1h0m.5 1.5h0m0-1h0m0 1h0m0-.5h0m.5 .5h0m0-1h0m0-.5h0m0 .5h0m0-.5h0m0 .5h0m0-.5h0m.5 0h0m0 .5h0m.5 0h0m0 1h0m0-1.5h0m0 .5h0m0-.5h0m.5 0h0m0 1.5h0m0-.5h0m0 .5h0m0-1h0m0 1h0m0-1h0m.5-.5h0m0 1.5h0m0-1.5h0m0 1.5h0m0-1h0m0 1h0m0-1.5h0m0 1h0m0-1h0m.5 1.5h0m0-1.5h0m0 .5h0m.5 1h0m0-.5h0m0-1h0m.5 1.5h0m0-1.5h0m0 1.5h0m.5-1.5h0m0 1.5h0m.5-1h0m.5 .5h0m0-.5h0m.5 .5h0m-9.5 1h0m2.5 0h0m1 0h0m.5 0h0m.5 0h0m1.5 0h0m0 .5h0m0-.5h0m.5 .5h0m0-.5h0m.5 .5h0m1 0h0m0-.5h0m1 .5h0m1 0h0m.5-.5h0" stroke="#000" stroke-width="0.45" stroke-linecap="square" fill="none" filter="url(#f12_70)"/>
<rect x="300.5" y="429.2" width="87.19999999999999" height="73.80000000000001" fill="none" stroke="#333" stroke-width="0.8"/>
<line x1="300.5" y1="503" x2="387.7" y2="503" stroke="#000" stroke-width="1.0"/>
<rect x="302.5" y="454.25" width="35.75" height="20" fill="none" stroke="#222" stroke-width="0.8"/>
<text x="315" y="447.3" font-size="5" fill="#222">1.26</text>
<line x1="299.2" y1="433" x2="300.5" y2="433" stroke="#000" stroke-width="0.5"/>
<line x1="299.2" y1="443" x2="300.5" y2="443" stroke="#000" stroke-width="0.5"/>
<line x1="299.2" y1="452" x2="300.5" y2="452" stroke="#000" stroke-width="0.5"/>
<line x1="299.2" y1="462" x2="300.5" y2="462" stroke="#000" stroke-width="0.5"/>
<line x1="299.2" y1="471" x2="300.5" y2="471" stroke="#000" stroke-width="0.5"/>
<line x1="299.2" y1="480" x2="300.5" y2="480" stroke="#000" stroke-width="0.5"/>
<line x1="299.2" y1="489" x2="300.5" y2="489" stroke="#000" stroke-width="0.5"/>
<line x1="299.2" y1="498" x2="300.5" y2="498" stroke="#000" stroke-width="0.5"/>
<line x1="305" y1="503" x2="305" y2="504.3" stroke="#000" stroke-width="0.5"/>
<line x1="311" y1="503" x2="311" y2="504.3" stroke="#000" stroke-width="0.5"/>
<line x1="318" y1="503" x2="318" y2="504.3" stroke="#000" stroke-width="0.5"/>
<line x1="325" y1="503" x2="325" y2="504.3" stroke="#000" stroke-width="0.5"/>
<line x1="333" y1="503" x2="333" y2="504.3" stroke="#000" stroke-width="0.5"/>
<line x1="340" y1="503" x2="340" y2="504.3" stroke="#000" stroke-width="0.5"/>
<line x1="348" y1="503" x2="348" y2="504.3" stroke="#000" stroke-width="0.5"/>
<line x1="355" y1="503" x2="355" y2="504.3" stroke="#000" stroke-width="0.5"/>
<line x1="363" y1="503" x2="363" y2="504.3" stroke="#000" stroke-width="0.5"/>
<line x1="370" y1="503" x2="370" y2="504.3" stroke="#000" stroke-width="0.5"/>
<line x1="378" y1="503" x2="378" y2="504.3" stroke="#000" stroke-width="0.5"/>
<line x1="385" y1="503" x2="385" y2="504.3" stroke="#000" stroke-width="0.5"/>
<path d="M361.5 565.5h0m23 3.5h0m-59.5 6.5h0m8-1.5h0m-17 3.5h0m3.5-1.5h0m14 0h0m-13.5 4h0m50.5 2h0m-18 2h0m32.5 .5h0m-74 2.5h0m15 .5h0m8-1h0m-24.5 3h0m6.5-1.5h0m3 2h0m6.5 1h0m-18.5 1.5h0m2 0h0m.5 .5h0m5 .5h0m7.5-1h0m11.5 1h0m7-1h0m1.5-.5h0m-33.5 3h0m2.5 .5h0m4-1.5h0m4.5 0h0m3 .5h0m2.5 0h0m.5 0h0m2.5-.5h0m6 1h0m6 0h0m3-1h0m-21 2.5h0m5 0h0m2 0h0m6.5 1h0m1.5-.5h0m9-.5h0m30 1h0m-57.5 2h0m3.5-.5h0m3.5 0h0m.5-1h0m4.5 0h0m2.5 1h0m7 0h0m-35 1h0m9 0h0m5.5 .5h0m.5 .5h0m.5-.5h0m4 0h0m6.5 0h0m6.5 1h0m5.5-1h0m2.5 1h0m34.5-.5h0m-72 1.5h0m4-.5h0m14 1.5h0m1-.5h0m1.5-.5h0m3 0h0m1.5 0h0m8 0h0m2.5-.5h0m-39 2.5h0m0 .5h0m5 .5h0m13-.5h0m.5-.5h0m3 1h0m3 0h0m4 0h0m1.5-.5h0m1.5-1h0m.5 0h0m1 1h0m1 .5h0m.5 0h0m1.5-1h0m1 .5h0m2-.5h0m7.5 0h0m-42.5 3h0m1.5-.5h0m4-1h0m11.5 1.5h0m1.5 0h0m0-1h0m1-.5h0m5 1.5h0m0-1.5h0m2 1.5h0m.5-1h0m2-.5h0m.5 0h0m1.5 .5h0m1.5 0h0m2.5 0h0m0-.5h0m1 0h0m-29 2.5h0m1.5-.5h0m1 1.5h0m2 0h0m.5-1.5h0m1 1.5h0m1-.5h0m1.5-.5h0m1 1h0m1-.5h0m2.5-.5h0m1.5-.5h0m1.5 0h0m2 1.5h0m.5 0h0m5 0h0m1-1.5h0m4.5 1.5h0m2-1h0m1-.5h0m34 .5h0m-77 1.5h0m2.5 1h0m5-1h0m1.5 .5h0m.5 0h0m.5-.5h0m3.5 1.5h0m.5 0h0m.5-1h0m1.5-.5h0m1.5 1.5h0m.5-1.5h0m3 0h0m0 1h0m1 .5h0m1 0h0m2.5 0h0m.5-1h0m.5-.5h0m1 .5h0m2-.5h0m2 1h0m2-1h0m1.5 .5h0m.5 0h0m4.5 0h0m9-.5h0m-33.5 3h0m0 .5h0m.5 0h0m3-.5h0m2-.5h0m.5 1h0m2 0h0m2.5-.5h0m2-1h0m1 1h0m1 .5h0m3-1.5h0m2.5 1.5h0m.5-1h0m2.5 1h0m2.5-1.5h0m0 .5h0m.5-.5h0m-41 3h0m.5-.5h0m1 1h0m3-.5h0m4.5 .5h0m2.5-1h0m.5-.5h0m5.5 .5h0m.5-.5h0m0 1.5h0m1-1.5h0m2.5 1.5h0m7.5 0h0m.5-1h0m1 .5h0m0 .5h0m3-1.5h0m3 1h0m2.5 .5h0m.5 0h0m-25 1h0m1 .5h0m2.5 .5h0m3 0h0m.5-1h0m.5-.5h0m.5 1h0m16.5-.5h0m6 0h0m-46 2h0m12 1h0m.5-1h0m9 1h0m.5-.5h0m1-1h0m2.5 0h0m6 1.5h0m0-1.5h0m.5 .5h0m7 0h0m1-.5h0m-33.5 3h0m1 .5h0m6 0h0m0-1h0m.5 1h0m5.5-1h0m.5 .5h0m5 0h0m.5-.5h0m.5-.5h0m3.5 1h0m1.5-1h0m0 .5h0m2.5-.5h0m1 0h0m2 1h0m2.5-.5h0m0 .5h0m21 0h0" stroke="#888" stroke-width="0.5" stroke-linecap="square" fill="none"/>
<path d="M351 571.5h0m.5 1.5h0m10.5-.5h0m4 1h0m-13.5 .5h0m7.5 1h0m.5-.5h0m2.5 .5h0m10-.5h0m-24 1.5h0m1 1.5h0m11-.5h0m5.5-.5h0m1.5-.5h0m1.5 1.5h0m1-.5h0m6 0h0m1.5-1h0m1 1h0m-42 2.5h0m10.5-.5h0m4.5 0h0m1-1h0m.5 1h0m0-1h0m4.5 1.5h0m.5-1h0m0 1h0m1-1.5h0m1 1h0m.5-.5h0m4.5 1h0m3 0h0m1.5-1h0m4.5 1h0m.5-1h0m1 1h0m3.5-.5h0m-38 2h0m.5-1h0m12 1h0m5-.5h0m1 .5h0m1.5 0h0m0 .5h0m.5 0h0m0-1.5h0m.5 1.5h0m2 0h0m.5-.5h0m1 0h0m0-1h0m2 1h0m0 .5h0m1-.5h0m1.5-.5h0m8 0h0m-32 3h0m.5 0h0m1-.5h0m1-1h0m1 0h0m2 1h0m.5-.5h0m1.5 1h0m1-1.5h0m2 .5h0m1 0h0m0-.5h0m.5 .5h0m5-.5h0m.5 1h0m.5 .5h0m.5-.5h0m3-1h0m4.5 0h0m1 .5h0m2-.5h0m-29.5 3.5h0m.5 0h0m4.5-1h0m.5 0h0m.5 .5h0m1-.5h0m.5-.5h0m0 1h0m.5-.5h0m1 0h0m1-.5h0m1 .5h0m0 1h0m.5-1h0m.5 .5h0m.5-.5h0m2.5 1h0m0-1.5h0m1 0h0m1 1h0m.5 .5h0m.5-1.5h0m0 1.5h0m1.5-1h0m.5-.5h0m0 .5h0m.5 1h0m.5-.5h0m1 0h0m.5 .5h0m1-1h0m1.5-.5h0m4 1.5h0m6-1.5h0m.5 1h0m-50.5 2h0m7-1h0m1.5 .5h0m3.5 1h0m3-.5h0m2.5-.5h0m2.5 1h0m.5-.5h0m1-1h0m.5 .5h0m0-.5h0m.5 1h0m.5-.5h0m1.5 1h0m.5-1.5h0m.5 1h0m.5-.5h0m1 1h0m0-1h0m.5 1h0m.5 0h0m.5-.5h0m.5 0h0m.5 .5h0m0-1.5h0m1 1.5h0m0-1h0m0 1h0m1-.5h0m1 0h0m0 .5h0m.5-.5h0m.5-.5h0m.5 1h0m1.5-1.5h0m0 1.5h0m0-.5h0m.5 .5h0m.5-1h0m0 .5h0m0-.5h0m.5 1h0m2-1h0m0 1h0m.5-.5h0m.5-.5h0m.5 1h0m0-.5h0m.5 0h0m1.5-1h0m.5 .5h0m2 0h0m1.5 .5h0m1 .5h0m.5-1h0m2.5 .5h0m1 .5h0m-50.5 1h0m8.5 .5h0m1.5-1h0m.5 1.5h0m.5-1h0m2.5 .5h0m.5 .5h0m0-1h0m.5-.5h0m2 1.5h0m0-.5h0m.5 0h0m.5 .5h0m0-1h0m1.5-.5h0m0 1.5h0m.5-1.5h0m.5 .5h0m.5 .5h0m.5 0h0m.5 .5h0m0-1h0m.5 1h0m.5-1.5h0m0 .5h0m.5 .5h0m0-.5h0m0-.5h0m0 1h0m0-.5h0m.5 .5h0m0 .5h0m0-.5h0m0 .5h0m.5-1.5h0m.5 1h0m1.5 .5h0m.5-.5h0m0-1h0m0 1.5h0m.5-.5h0m.5 .5h0m0-.5h0m0-.5h0m0 .5h0m2 .5h0m1.5 0h0m.5-1.5h0m.5 0h0m0 .5h0m0-.5h0m.5 1h0m.5-1h0m0 .5h0m0 1h0m1-1.5h0m.5 1h0m0-.5h0m0-.5h0m.5 1.5h0m.5-.5h0m0-.5h0m0-.5h0m1 0h0m2.5 1.5h0m1.5-1.5h0m0 .5h0m.5 1h0m1-.5h0m2-1h0m6.5 0h0m-63 2h0m4 .5h0m1.5 1h0m1.5-.5h0m6.5 0h0m1 .5h0m.5-1h0m2.5 1h0m.5-1.5h0m0 1h0m1.5 .5h0m.5-1.5h0m.5 0h0m.5 1h0m2 .5h0m3-.5h0m1 .5h0m.5-1h0m1-.5h0m0 .5h0m.5 0h0m.5-.5h0m0 .5h0m1 .5h0m0-.5h0m.5 0h0m.5 1h0m0-.5h0m0-.5h0m1-.5h0m0 1h0m.5 0h0m1.5 0h0m0-.5h0m0 1h0m0-1.5h0m.5 .5h0m.5 .5h0m0 .5h0m.5-1.5h0m.5 1.5h0m0-.5h0m0 .5h0m0-1h0m1 1h0m.5 0h0m0-1.5h0m.5 .5h0m0 .5h0m.5-1h0m0 1h0m.5 0h0m.5 .5h0m.5-.5h0m.5-1h0m.5 1h0m.5 .5h0m0-1.5h0m0 1h0m.5-.5h0m0 .5h0m.5 .5h0m0-.5h0m0-1h0m.5 1h0m0 .5h0m0-.5h0m.5-.5h0m.5-.5h0m0 1.5h0m.5-1.5h0m.5 1h0m0 .5h0m.5-1h0m.5 1h0m.5-1h0m.5 .5h0m0 .5h0m.5-1h0m0 .5h0m.5-.5h0m0 1h0m1-.5h0m.5 0h0m0-.5h0m.5 0h0m0 1h0m.5-1h0m.5 .5h0m.5-.5h0m0-.5h0m.5 .5h0m1 1h0m.5 0h0m1-.5h0m.5-1h0m1.5 .5h0m.5-.5h0m1.5 1.5h0m4.5-1h0m-55 2h0m.5 1h0m1.5-1.5h0m.5 1h0m6 0h0m.5-1h0m.5 1h0m2-.5h0m1 1h0m1 0h0m.5-.5h0m1.5 .5h0m0-.5h0m1 0h0m.5 0h0m.5 .5h0m.5-1.5h0m0 1.5h0m.5 0h0m0-.5h0m.5 0h0m.5 0h0m.5-.5h0m0 .5h0m.5 0h0m0-.5h0m1 1h0m0-.5h0m.5 .5h0m0-1h0m0 .5h0m.5 .5h0m0-1h0m.5-.5h0m0 1h0m.5-.5h0m.5 1h0m0-1.5h0m0 .5h0m.5 1h0m.5-1.5h0m0 1.5h0m.5-1h0m.5 0h0m0-.5h0m.5 1.5h0m0-1.5h0m.5 0h0m0 1h0m.5-.5h0m.5 0h0m0 1h0m1-.5h0m0-.5h0m.5-.5h0m0 .5h0m0 .5h0m0-1h0m.5 0h0m.5 0h0m.5 0h0m0 1h0m.5-.5h0m.5 1h0m1-1h0m.5 0h0m.5 .5h0m0-.5h0m.5 0h0m0 1h0m.5-.5h0m.5-.5h0m0 .5h0m.5-.5h0m0-.5h0m0 1.5h0m.5-.5h0m0-1h0m.5 1h0m.5 0h0m.5-1h0m.5 1h0m.5-1h0m.5 0h0m.5 1.5h0m.5-1.5h0m.5 1.5h0m0-.5h0m1-1h0m0 .5h0m1.5 .5h0m0 .5h0m.5-1.5h0m.5 .5h0m1 .5h0m4.5-.5h0m.5 .5h0m3 0h0m-54.5 1h0m4.5 0h0m1 0h0m1 0h0m.5 0h0m0 1h0m.5-1h0m0 1.5h0m1-1h0m.5-.5h0m.5 .5h0m3 1h0m1-1h0m0-.5h0m2.5 1h0m0 .5h0m.5 0h0m.5-1.5h0m0 1h0m0 .5h0m1-1.5h0m.5 1.5h0m0-1h0m1.5 1h0m0-1h0m.5 .5h0m0-.5h0m.5 0h0m.5 1h0m0-1h0m0 .5h0m.5 .5h0m0-.5h0m1 .5h0m.5-.5h0m0-1h0m1 1h0m0-.5h0m.5-.5h0m.5 1.5h0m.5 0h0m1 0h0m.5-1.5h0m0 1.5h0m0-.5h0m0 .5h0m0-1h0m.5 .5h0m0-.5h0m.5 0h0m0 1h0m0-1h0m0 .5h0m.5 0h0m0 .5h0m.5-1.5h0m.5 1h0m0-.5h0m.5 0h0m0 1h0m0-.5h0m.5-1h0m0 1h0m0 .5h0m.5-1.5h0m0 .5h0m0-.5h0m0 .5h0m0-.5h0m.5 0h0m.5 1.5h0m0-1.5h0m0 1.5h0m0-.5h0m0 .5h0m.5-1.5h0m0 1.5h0m0-1.5h0m0 1h0m0 .5h0m.5-1h0m0 1h0m.5-1h0m0-.5h0m.5 1h0m0-1h0m0 1.5h0m0-.5h0m.5 0h0m0-.5h0m.5 .5h0m0-1h0m0 1.5h0m.5-.5h0m.5-1h0m0 .5h0m.5-.5h0m.5 0h0m0 .5h0m0 .5h0m0 .5h0m.5 0h0m0-1.5h0m0 .5h0m.5 0h0m0-.5h0m0 .5h0m.5-.5h0m0 1h0m.5-1h0m0 1h0m0 .5h0m0-.5h0m.5 0h0m.5-1h0m0 1h0m.5-1h0m0 1h0m0-1h0m1 0h0m.5 .5h0m0-.5h0m1.5 1h0m.5-1h0m.5 0h0m.5 .5h0m.5 1h0m1 0h0m1 0h0m0-1.5h0m1 1h0m.5 0h0m0 .5h0m.5-1.5h0m2.5 0h0m2 .5h0m.5 .5h0m-71.5 2.5h0m2.5-1h0m13.5 0h0m2 1h0m.5-1.5h0m4 .5h0m.5-.5h0m1.5 .5h0m1.5 0h0m.5 .5h0m0-.5h0m1 .5h0m0 .5h0m1 0h0m1-1h0m0-.5h0m0 1h0m.5 0h0m0 .5h0m2 0h0m0-1h0m.5 .5h0m.5 .5h0m.5-1h0m.5 1h0m.5-.5h0m0-1h0m0 1h0m.5 .5h0m0-.5h0m0 .5h0m.5-.5h0m0-1h0m0 .5h0m.5 .5h0m0 .5h0m0-.5h0m0-.5h0m0-.5h0m.5 .5h0m0 .5h0m1 0h0m.5 .5h0m0-.5h0m.5-.5h0m0 .5h0m0-.5h0m.5 .5h0m.5-.5h0m.5-.5h0m0 1.5h0m0-1h0m0 1h0m1-.5h0m1 0h0m0 .5h0m0-1h0m.5 .5h0m0-.5h0m.5 1h0m0-1.5h0m0 .5h0m0 .5h0m0-.5h0m.5 1h0m0-1h0m.5-.5h0m0 .5h0m0 .5h0m.5-.5h0m0 1h0m0-1.5h0m0 1h0m0 .5h0m0-.5h0m0-.5h0m.5 .5h0m0-1h0m.5 .5h0m.5 1h0m0-1h0m0-.5h0m0 1.5h0m0-1.5h0m.5 .5h0m0-.5h0m0 1h0m.5 .5h0m0-1h0m.5 1h0m0-.5h0m0-.5h0m.5-.5h0m.5 0h0m0 1.5h0m0-1h0m0 .5h0m0-.5h0m.5 .5h0m0-1h0m.5 .5h0m0 1h0m0-1.5h0m.5 1.5h0m0-1.5h0m0 1.5h0m.5-.5h0m0-.5h0m.5 1h0m0-1h0m0 .5h0m.5 .5h0m.5-.5h0m0 .5h0m0-.5h0m0-1h0m.5 1.5h0m.5-.5h0m0-.5h0m.5 .5h0m0-1h0m.5 .5h0m0-.5h0m.5 .5h0m0-.5h0m.5 1.5h0m.5-1.5h0m0 1.5h0m.5-1.5h0m0 1h0m.5-.5h0m0-.5h0m1 1.5h0m0-1.5h0m.5 1h0m2-.5h0m.5 1h0m.5 0h0m0-.5h0m.5-1h0m.5 1.5h0m0-1.5h0m.5 0h0m0 1.5h0m.5-1.5h0m.5 0h0m.5 0h0m0 1h0m3.5 0h0m2.5 0h0m.5-1h0m1.5 1h0m4-.5h0m-67 1.5h0m3 1.5h0m4 0h0m0-.5h0m1 0h0m3.5-1h0m1 1h0m.5-1h0m.5 0h0m.5 1.5h0m1.5-1.5h0m.5 .5h0m.5-.5h0m.5 1.5h0m1.5-1h0m0 1h0m2 0h0m0-1.5h0m1 1.5h0m0-1h0m2 .5h0m1 .5h0m0-.5h0m.5 0h0m.5-.5h0m.5 0h0m0-.5h0m.5 0h0m.5 0h0m.5 1h0m0 .5h0m.5-1.5h0m.5 1h0m0 .5h0m0-1.5h0m0 1.5h0m0-.5h0m0-1h0m.5 1h0m0-1h0m0 .5h0m.5 .5h0m.5-.5h0m0-.5h0m1 1h0m0 .5h0m.5-1.5h0m0 1h0m0 .5h0m.5-.5h0m0-1h0m0 1.5h0m.5 0h0m0-1.5h0m0 .5h0m.5 0h0m0 .5h0m1-1h0m.5 1h0m0 .5h0m0-.5h0m0-1h0m0 .5h0m.5 1h0m0-1h0m.5 1h0m0-1h0m0-.5h0m.5 1.5h0m.5 0h0m0-.5h0m0-1h0m0 .5h0m.5 1h0m0-1.5h0m.5 1h0m0-.5h0m0 1h0m.5-.5h0m0-.5h0m0 1h0m0-1h0m.5-.5h0m0 1h0m.5 0h0m.5-.5h0m.5 1h0m0-1.5h0m0 .5h0m.5 1h0m0-.5h0m.5 .5h0m0-1h0m0 .5h0m.5 .5h0m0-.5h0m0-.5h0m.5 .5h0m0-.5h0m.5-.5h0m0 1h0m.5-.5h0m0-.5h0m.5 1.5h0m.5-1.5h0m.5 .5h0m0 .5h0m0 .5h0m0-.5h0m.5 0h0m.5-1h0m.5 .5h0m0-.5h0m0 1h0m0 .5h0m.5 0h0m.5-1h0m0-.5h0m.5 .5h0m0 1h0m0-1h0m1-.5h0m0 1h0m0 .5h0m.5 0h0m0-.5h0m1 .5h0m0-1.5h0m0 1.5h0m0-1.5h0m.5 1h0m0 .5h0m1-.5h0m.5-.5h0m.5 .5h0m.5 .5h0m.5-1h0m.5 0h0m3 1h0m.5-1.5h0m3 1h0m-49 2h0m.5-1h0m1 1h0m0 .5h0m1 0h0m.5-1.5h0m2 .5h0m0-.5h0m.5 0h0m.5 1h0m0-.5h0m.5 0h0m.5 1h0m.5-.5h0m.5 .5h0m.5-.5h0m0-.5h0m0 .5h0m1.5-1h0m.5 1.5h0m.5-.5h0m.5 0h0m0 .5h0m0-1h0m.5 .5h0m0 .5h0m0-.5h0m.5-1h0m.5 .5h0m.5 1h0m0-1h0m0-.5h0m.5 0h0m.5 .5h0m0 1h0m.5 0h0m0-.5h0m0 .5h0m.5 0h0m.5 0h0m.5-1h0m0 1h0m0-1h0m.5 1h0m0-1.5h0m0 1h0m.5-.5h0m1 0h0m0 1h0m.5-.5h0m0-.5h0m0 .5h0m0-1h0m.5 0h0m0 1.5h0m.5-1h0m0 1h0m0-1h0m.5 1h0m0-1h0m0 1h0m.5 0h0m0-1.5h0m0 1.5h0m.5-1h0m.5 0h0m0 .5h0m.5 .5h0m0-1h0m0 .5h0m0-1h0m.5 1h0m1 0h0m0-1h0m0 .5h0m0 1h0m.5-1.5h0m0 1h0m0 .5h0m0-1.5h0m.5 .5h0m0-.5h0m0 .5h0m.5 1h0m0-1h0m0 .5h0m.5 0h0m0-.5h0m0 1h0m0-1.5h0m0 1.5h0m0-.5h0m.5 0h0m.5-1h0m0 1.5h0m0-.5h0m0-1h0m.5 1h0m0 .5h0m.5-1.5h0m0 .5h0m.5 .5h0m.5 .5h0m0-.5h0m.5-.5h0m.5 .5h0m0-1h0m.5 1.5h0m.5-1.5h0m0 1.5h0m0-1.5h0m1 1h0m0 .5h0m0-.5h0m0-1h0m.5 0h0m0 1h0m.5-1h0m0 1h0m0-1h0m.5 .5h0m0 .5h0m.5 0h0m0 .5h0m0-1h0m.5 .5h0m.5-.5h0m.5 0h0m.5 1h0m.5 0h0m0-1h0m0 .5h0m0 .5h0m.5-1h0m0-.5h0m.5 1.5h0m0-1h0m.5 .5h0m.5 0h0m0-1h0m.5 .5h0m.5-.5h0m0 .5h0m0 1h0m.5-1.5h0m.5 0h0m.5 .5h0m.5-.5h0m.5 1h0m1.5-.5h0m1.5 1h0m0-.5h0m.5-1h0m1.5 .5h0m2 .5h0m-53.5 1.5h0m.5 0h0m2 .5h0m2 .5h0m1.5-1h0m1 0h0m1 1h0m0-.5h0m.5-.5h0m.5 0h0m1.5 0h0m0-.5h0m0 1.5h0m.5 0h0m.5-1.5h0m.5 1.5h0m0-1h0m.5 .5h0m.5 0h0m0-.5h0m0-.5h0m.5 0h0m1 1h0m.5 0h0m.5-1h0m.5 .5h0m0-.5h0m.5 .5h0m0 .5h0m.5 .5h0m0-1h0m0 1h0m1-1h0m0 1h0m.5-1h0m1-.5h0m.5 1h0m.5-1h0m0 1h0m.5-.5h0m0-.5h0m.5 1h0m.5 .5h0m0-1.5h0m.5 1.5h0m0-1.5h0m0 1h0m.5 0h0m.5 .5h0m0-.5h0m.5-1h0m0 1.5h0m0-1.5h0m0 .5h0m.5 .5h0m0-1h0m.5 .5h0m0-.5h0m.5 1h0m0-.5h0m0-.5h0m0 1.5h0m0-1.5h0m.5 0h0m0 .5h0m.5-.5h0m0 .5h0m0 .5h0m0-.5h0m0-.5h0m.5 1h0m0-.5h0m0-.5h0m0 1h0m0 .5h0m0-1h0m.5-.5h0m.5 .5h0m0 .5h0m.5-.5h0m0 1h0m0-.5h0m0-1h0m.5 0h0m.5 .5h0m0 .5h0m0-.5h0m0 1h0m.5-1h0m0 1h0m.5-.5h0m0 .5h0m0-.5h0m.5-1h0m0 1.5h0m.5-.5h0m0 .5h0m0-1.5h0m.5 0h0m0 1h0m0-.5h0m.5 .5h0m.5 .5h0m0-.5h0m.5 0h0m.5-.5h0m0 1h0m.5-1h0m0 .5h0m.5 .5h0m0-1.5h0m.5 0h0m0 1h0m.5-.5h0m0-.5h0m0 .5h0m0 .5h0m.5-.5h0m.5 0h0m0-.5h0m0 1h0m.5 .5h0m0-1h0m0 1h0m1-1h0m0-.5h0m.5 1h0m.5-1h0m0 1h0m.5-.5h0m.5 .5h0m.5-.5h0m.5-.5h0m.5 1h0m0 .5h0m0-1h0m.5 0h0m0 .5h0m.5-1h0m.5 1.5h0m.5 0h0m.5-.5h0m.5-1h0m1 0h0m.5 1h0m5-.5h0m0 1h0m1.5-1h0m.5-.5h0m-61 3h0m9.5 .5h0m2 0h0m0-1h0m.5 .5h0m1-.5h0m1 1h0m1.5-1h0m1 .5h0m0-1h0m.5 1h0m.5 0h0m0-.5h0m.5 1h0m1 0h0m.5-.5h0m1 0h0m0-1h0m.5 .5h0m.5 0h0m.5 0h0m0 .5h0m0-1h0m.5 0h0m1 0h0m0 1h0m.5 .5h0m0-1.5h0m0 .5h0m.5 .5h0m.5-.5h0m.5-.5h0m.5 1.5h0m0-1.5h0m0 1h0m.5-1h0m.5 1.5h0m0-.5h0m0 .5h0m.5-.5h0m.5 0h0m0-1h0m.5 .5h0m0 .5h0m0-1h0m.5 0h0m0 .5h0m0-.5h0m0 1h0m.5-1h0m0 1.5h0m.5-1h0m.5-.5h0m0 1h0m0-1h0m0 1h0m.5 0h0m0-.5h0m.5 1h0m0-1h0m0 1h0m0-1.5h0m.5 1.5h0m0-1h0m.5 1h0m0-1.5h0m.5 1.5h0m.5-1h0m0 .5h0m0 .5h0m0-1.5h0m0 1h0m0 .5h0m0-1h0m.5 0h0m.5 0h0m0 .5h0m0-.5h0m0 1h0m.5 0h0m0-.5h0m0-.5h0m0 .5h0m.5 0h0m0-1h0m.5 1h0m0-.5h0m0 1h0m.5-.5h0m0-.5h0m.5-.5h0m0 .5h0m0 .5h0m0 .5h0m0-.5h0m.5-1h0m0 1h0m0-.5h0m0 1h0m0-.5h0m.5 0h0m0-1h0m.5 1h0m0 .5h0m.5 0h0m0-1h0m0-.5h0m0 1h0m.5 .5h0m0-1.5h0m.5 1h0m0-.5h0m.5-.5h0m.5 0h0m0 1h0m0-1h0m0 1.5h0m.5-1h0m0 1h0m0-.5h0m0 .5h0m0-.5h0m.5 0h0m.5-.5h0m.5 0h0m.5 1h0m0-1h0m.5 1h0m.5-1.5h0m0 .5h0m.5-.5h0m.5 1.5h0m.5-1.5h0m0 1.5h0m.5-1.5h0m0 .5h0m0-.5h0m0 1h0m.5-1h0m.5 1h0m0 .5h0m0-.5h0m.5-1h0m.5 0h0m0 1h0m.5-1h0m0 .5h0m.5-.5h0m0 1h0m1-.5h0m2.5 0h0m0 1h0m.5-1.5h0m7.5 1.5h0m0-1.5h0m1 1h0m-58 2h0m1.5-.5h0m2 1h0m.5-.5h0m1.5 .5h0m0-1.5h0m0 .5h0m1 .5h0m1-1h0m.5 1.5h0m0-1.5h0m.5 1.5h0m1-1h0m.5 1h0m0-1h0m1 .5h0m1.5 0h0m0 .5h0m1-.5h0m0-.5h0m0-.5h0m1.5 1h0m.5-.5h0m0 1h0m.5-1.5h0m1 0h0m0 1h0m.5 .5h0m1-1.5h0m0 1h0m1-1h0m.5 1h0m0-1h0m0 .5h0m0 .5h0m.5 .5h0m0-1.5h0m0 1h0m.5 0h0m.5 .5h0m.5-1.5h0m0 .5h0m.5 .5h0m0-.5h0m1.5 .5h0m.5 .5h0m0-.5h0m0 .5h0m0-.5h0m0-1h0m.5 .5h0m.5-.5h0m.5 0h0m.5 0h0m.5 0h0m0 .5h0m0-.5h0m.5 .5h0m0-.5h0m0 .5h0m.5 1h0m0-1.5h0m0 1h0m.5-.5h0m0 1h0m.5-.5h0m0-1h0m.5 0h0m0 .5h0m.5 1h0m0-1.5h0m.5 0h0m0 1h0m0-.5h0m.5 1h0m0-.5h0m.5-1h0m0 1.5h0m0-1h0m.5 .5h0m0-1h0m0 .5h0m.5 1h0m.5-.5h0m0-1h0m0 1h0m0-1h0m0 1h0m.5-.5h0m0 .5h0m0-.5h0m0 .5h0m0-1h0m.5 1.5h0m1.5 0h0m0-.5h0m0 .5h0m.5-1.5h0m0 1h0m0-.5h0m.5 1h0m0-1.5h0m.5 0h0m0 1.5h0m.5-1h0m0-.5h0m0 1.5h0m.5-1.5h0m0 1h0m0-1h0m.5 1.5h0m.5-.5h0m.5 .5h0m0-1.5h0m0 1h0m0-1h0m0 1h0m.5-.5h0m0 .5h0m.5 0h0m.5-1h0m0 .5h0m0 .5h0m0 .5h0m0-.5h0m.5-.5h0m2.5 0h0m1.5 1h0m.5-.5h0m.5-.5h0m.5 1h0m1.5 0h0m0-1.5h0m.5 1.5h0m.5-.5h0m.5 0h0m.5 .5h0m3-.5h0m1 0h0m6.5-.5h0m2-.5h0m-63.5 3h0m2-.5h0m4.5 .5h0m3.5 .5h0m0-1h0m3 0h0m0-.5h0m1.5 1.5h0m1-1.5h0m0 1h0m0-1h0m.5 0h0m0 1.5h0m.5-1h0m.5 0h0m.5 .5h0m.5-1h0m1.5 .5h0m0 1h0m0-1.5h0m0 .5h0m.5-.5h0m0 .5h0m1 0h0m.5 0h0m0 .5h0m0-1h0m.5 1.5h0m.5-.5h0m0-.5h0m0-.5h0m.5 1.5h0m0-1.5h0m.5 0h0m0 1.5h0m.5-1h0m0-.5h0m.5 .5h0m1-.5h0m.5 1h0m0-.5h0m1-.5h0m0 1.5h0m.5-1.5h0m0 .5h0m.5 0h0m.5 .5h0m0 .5h0m.5-1h0m0 1h0m0-.5h0m0 .5h0m0-.5h0m.5-.5h0m0 1h0m0-1h0m.5 0h0m0 1h0m0-1h0m.5 .5h0m0-1h0m.5 1h0m.5-1h0m0 1.5h0m0-1h0m.5-.5h0m0 .5h0m.5 .5h0m.5 0h0m0 .5h0m0-.5h0m.5-.5h0m0 1h0m.5 0h0m1-1.5h0m.5 0h0m.5 .5h0m0 1h0m.5 0h0m0-1.5h0m0 .5h0m.5-.5h0m0 1h0m0-1h0m0 .5h0m0-.5h0m1 .5h0m0 .5h0m0-.5h0m.5 1h0m.5-.5h0m1-1h0m0 1h0m0 .5h0m.5-1.5h0m.5 0h0m1 1.5h0m0-.5h0m1-.5h0m1.5 .5h0m1.5-1h0m1 1h0m3.5-.5h0m0 .5h0m4.5 .5h0m-59.5 .5h0m5.5 1h0m5 0h0m1-1h0m.5 .5h0m1 .5h0m.5-1h0m1.5 1h0m.5 .5h0m.5-1.5h0m2 1h0m0-1h0m0 1h0m.5-.5h0m.5 0h0m1.5 .5h0m.5-1h0m1.5 1h0m.5 0h0m1 0h0m.5-1h0m.5 .5h0m.5-.5h0m0 1h0m0-.5h0m.5 0h0m.5 0h0m0-.5h0m0 1.5h0m.5-.5h0m0-1h0m0 1h0m.5 0h0m0 .5h0m0-1h0m1.5-.5h0m0 1h0m.5 .5h0m.5-.5h0m.5-.5h0m.5 1h0m0-.5h0m.5-.5h0m.5 .5h0m0 .5h0m0-1.5h0m.5 0h0m.5 .5h0m0-.5h0m0 .5h0m.5 1h0m0-1.5h0m0 .5h0m.5 0h0m.5 0h0m0 .5h0m1 .5h0m.5 0h0m0-.5h0m.5-.5h0m0-.5h0m.5 0h0m.5 1.5h0m.5-.5h0m0 .5h0m.5 0h0m.5-.5h0m.5-1h0m0 .5h0m.5 1h0m0-1.5h0m1 1h0m.5-1h0m0 .5h0m.5 .5h0m.5-.5h0m.5 0h0m1-.5h0m.5 1.5h0m.5-1h0m2 0h0m.5 .5h0m1 0h0m.5-.5h0m0-.5h0m.5 1h0m.5 0h0m1-.5h0m1.5-.5h0m2 1.5h0m.5 0h0m.5-1h0m1 1h0m2.5-1h0m-46.5 3h0m.5-1.5h0m1 0h0m.5 1.5h0m3-.5h0m0-.5h0m0 1h0m3-.5h0m.5 0h0m0-.5h0m2.5 .5h0m0-1h0m.5 0h0m0 1h0m.5 .5h0m.5-.5h0m0-.5h0m.5 1h0m1-1h0m0-.5h0m.5 0h0m0 .5h0m1.5 .5h0m2.5 0h0m1 .5h0m.5-.5h0m.5 0h0m0-.5h0m0 1h0m.5-.5h0m0-.5h0m.5 .5h0m.5-1h0m0 .5h0m.5 .5h0m0 .5h0m.5-1.5h0m.5 1.5h0m0-1.5h0m0 .5h0m1 .5h0m1.5 .5h0m0-1h0m.5 .5h0m0 .5h0m.5-.5h0m.5 0h0m0-1h0m1 0h0m0 .5h0m0 1h0m0-1.5h0m.5 1.5h0m1-1h0m.5 1h0m1 0h0m0-1.5h0m2 0h0m0 1h0m.5-.5h0m.5 0h0m.5 1h0m.5 0h0m.5-1h0m.5-.5h0m0 1h0m.5-.5h0m.5-.5h0m0 .5h0m0-.5h0m.5 0h0m.5 1.5h0m0-1.5h0m.5 0h0m.5 1h0m.5 .5h0m0-1.5h0m1 1.5h0m4 0h0m4 0h0m3-1.5h0m-61.5 3.5h0m.5 0h0m7.5-1.5h0m3.5 0h0m1 .5h0m0 .5h0m3-.5h0m.5 .5h0m.5 0h0m.5-.5h0m1 .5h0m0-1h0m.5 .5h0m1-.5h0m1 0h0m.5 1h0m.5 0h0m0-.5h0m1 1h0m0-1.5h0m1 1h0m0-.5h0m.5 0h0m0-.5h0m.5 1.5h0m0-1h0m.5 .5h0m.5-1h0m0 1h0m.5 0h0m2 0h0m0-1h0m.5 1h0m0-.5h0m1.5-.5h0m.5 1.5h0m.5-1h0m0 .5h0m.5 0h0m.5-1h0m1 1h0m0 .5h0m.5-.5h0m.5 .5h0m1-.5h0m0-.5h0m.5 1h0m.5-.5h0m0-.5h0m.5-.5h0m1 .5h0m1 1h0m0-.5h0m.5 0h0m1-1h0m1.5 .5h0m.5 0h0m2-.5h0m.5 0h0m1.5 1.5h0m0-1.5h0m5.5 0h0m4 1h0m-54 1h0m2 .5h0m2.5 0h0m0-.5h0m3 1h0m5.5 0h0m1-.5h0m1 1h0m0-1.5h0m2.5 1h0m2.5 0h0m.5-1h0m1.5 0h0m.5 0h0m.5 .5h0m1 0h0m.5 0h0m0-.5h0m0 .5h0m2.5-.5h0m0 1.5h0m2-.5h0m0 .5h0m.5-1h0m1 0h0m1 1h0m.5-.5h0m1.5 .5h0m2.5-.5h0m.5 .5h0m.5-1.5h0m4 .5h0m1.5-.5h0m.5 0h0m3 0h0m.5 1h0m1-1h0m13 1.5h0m-60.5 .5h0m5 0h0m4.5 1.5h0m1-1.5h0m5 .5h0m3.5-.5h0m1 0h0m.5 1.5h0m2-1h0m2-.5h0m0 1.5h0m3-1h0m1.5-.5h0m0 .5h0m2 1h0m1-1.5h0m1 0h0m1.5 1.5h0m0-1.5h0m.5 1.5h0m1-1h0m0-.5h0m9 0h0m0 .5h0m.5 .5h0m5-1h0m-58 3h0m9-1h0m1.5 1h0m4.5-.5h0m4.5-.5h0m.5 1.5h0m5-1h0m4.5 1h0m4-.5h0m0-.5h0m3 .5h0m0 .5h0m1.5-.5h0m8.5 0h0m7.5-.5h0m-37.5 1.5h0m23.5 0h0m12 0h0" stroke="#666" stroke-width="0.45" stroke-linecap="square" fill="none" filter="url(#f12_42)"/>
<path d="M352.5 587.5h0m3-1.5h0m-6.5 2.5h0m6 0h0m2 0h0m1.5 0h0m0-.5h0m2.5 1.5h0m-16 2h0m6-1.5h0m1.5 .5h0m1 .5h0m0 .5h0m.5 0h0m1-.5h0m.5-.5h0m0 1h0m.5 0h0m.5-1.5h0m.5 .5h0m2 .5h0m.5 .5h0m.5-1.5h0m.5 0h0m1 0h0m2 0h0m4 0h0m-23.5 2.5h0m2.5 0h0m1.5 .5h0m.5-1h0m0 1.5h0m.5-.5h0m.5 0h0m1 0h0m1 .5h0m0-1h0m0 1h0m0-.5h0m.5-.5h0m.5 .5h0m.5 .5h0m0-1h0m.5 .5h0m0 .5h0m0-1.5h0m.5 1h0m0-1h0m.5 1.5h0m0-1h0m.5-.5h0m0 1.5h0m.5-1h0m0 1h0m1-.5h0m.5 .5h0m.5-1.5h0m0 1.5h0m.5-.5h0m.5 0h0m0-1h0m1 1h0m.5 .5h0m1 0h0m1-.5h0m1.5-1h0m.5 .5h0m0 1h0m2.5-1.5h0m1 1.5h0m.5 0h0m-25.5 .5h0m3 1h0m0 .5h0m.5-.5h0m0-1h0m.5 0h0m.5 .5h0m.5 .5h0m.5 .5h0m0-.5h0m0-.5h0m.5 .5h0m.5 0h0m0 .5h0m.5-1.5h0m0 1h0m0 .5h0m0-.5h0m0-1h0m.5 1.5h0m.5-.5h0m0 .5h0m.5-.5h0m.5 0h0m0-1h0m0 1.5h0m.5-1h0m0 .5h0m0 .5h0m.5 0h0m0-1h0m0 .5h0m.5 0h0m0-.5h0m0 1h0m0-.5h0m.5-.5h0m.5 .5h0m0-1h0m0 1.5h0m0-.5h0m0-1h0m0 .5h0m0 1h0m.5 0h0m0-.5h0m0-.5h0m.5 0h0m.5-.5h0m0 1.5h0m.5-1h0m0 1h0m0-1h0m.5 1h0m0-1h0m0 1h0m.5 0h0m0-1.5h0m0 1h0m0 .5h0m0-1.5h0m.5 .5h0m0 1h0m.5 0h0m.5-.5h0m.5-.5h0m0 1h0m1-1h0m.5 0h0m0-.5h0m0 .5h0m.5 .5h0m2 .5h0m.5 0h0m1 0h0m3.5-1.5h0m1 1h0m1.5-.5h0m-27.5 3h0m.5-1h0m1 .5h0m.5-.5h0m0 1h0m0-1.5h0m0 1h0m0-1h0m1 1h0m0 .5h0m0-1.5h0m.5 1.5h0m0-.5h0m.5 .5h0m0-.5h0m.5 0h0m.5 .5h0m0-.5h0m0-.5h0m0 .5h0m.5-1h0m0 1h0m.5-1h0m0 1h0m.5 .5h0m0-.5h0m0-.5h0m0 1h0m0-1h0m0 .5h0m.5 0h0m0-.5h0m0 .5h0m0-1h0m0 1h0m0-1h0m0 1h0m0-1h0m.5 1.5h0m0-.5h0m0 .5h0m.5-1h0m0-.5h0m0 1.5h0m0-.5h0m0 .5h0m0-.5h0m.5-1h0m0 1.5h0m0-1h0m0 .5h0m0-.5h0m0 1h0m0-1h0m0-.5h0m0 1h0m0-.5h0m.5-.5h0m0 1h0m0-1h0m0 1.5h0m0-1h0m0-.5h0m0 1h0m.5 .5h0m0-.5h0m0-.5h0m0 1h0m0-1.5h0m0 .5h0m0 1h0m0-.5h0m0 .5h0m.5-1h0m0 .5h0m0 .5h0m0-.5h0m0-.5h0m.5 0h0m0 1h0m0-1h0m0 1h0m0-.5h0m0 .5h0m0-1h0m0 1h0m0-1h0m0-.5h0m.5 1h0m0-.5h0m0 .5h0m0 .5h0m0-1h0m0 .5h0m.5-.5h0m0-.5h0m0 .5h0m0-.5h0m0 1.5h0m.5-.5h0m0-.5h0m0 1h0m0-1h0m0 1h0m.5 0h0m0-.5h0m0-1h0m0 1h0m.5 .5h0m0-1.5h0m0 1.5h0m0-1.5h0m0 1h0m0-.5h0m0 .5h0m.5 .5h0m0-.5h0m.5 .5h0m0-.5h0m0-.5h0m.5-.5h0m0 1.5h0m0-1h0m.5 .5h0m0-.5h0m0 .5h0m.5-1h0m0 1h0m0-1h0m.5 1.5h0m.5-.5h0m.5 0h0m0-.5h0m0 .5h0m.5-1h0m0 1.5h0m4-1.5h0m.5 .5h0m1.5-.5h0m0 1h0m1.5-.5h0m.5 .5h0m-27.5 2.5h0m0-1.5h0m0 1.5h0m.5 0h0m1.5-1h0m.5 .5h0m1-1h0m.5 1h0m0-.5h0m0 1h0m.5 0h0m0-1h0m.5-.5h0m0 1h0m0-1h0m0 .5h0m.5 0h0m0 1h0m0-.5h0m.5-.5h0m0-.5h0m0 1.5h0m.5-1h0m0 1h0m0-.5h0m0-.5h0m.5-.5h0m0 .5h0m0-.5h0m0 1h0m0 .5h0m0-1.5h0m0 .5h0m0-.5h0m0 1h0m0 .5h0m0-1.5h0m.5 1h0m0 .5h0m0-1.5h0m0 .5h0m0-.5h0m0 1h0m0 .5h0m.5-.5h0m0 .5h0m0-.5h0m0-1h0m0 1h0m0 .5h0m0-1h0m0 1h0m.5-1.5h0m0 .5h0m0 1h0m0-1.5h0m0 1.5h0m.5 0h0m0-.5h0m0-1h0m0 1h0m0-.5h0m0 .5h0m0 .5h0m0-.5h0m0-1h0m.5 1.5h0m0-1h0m0 .5h0m0-.5h0m0-.5h0m0 .5h0m0 1h0m0-1.5h0m0 .5h0m0-.5h0m0 1h0m0 .5h0m.5 0h0m0-.5h0m0-.5h0m0 .5h0m0 .5h0m0-1.5h0m0 .5h0m0 1h0m0-.5h0m0 .5h0m0-1h0m.5 .5h0m0-1h0m0 1.5h0m0-1h0m0 .5h0m0-1h0m0 1.5h0m0-1.5h0m.5 1.5h0m0-1.5h0m0 1.5h0m0-.5h0m0-1h0m0 .5h0m.5 .5h0m0-.5h0m0-.5h0m0 1.5h0m0-.5h0m0 .5h0m0-1h0m0 1h0m0-1h0m0 .5h0m.5-1h0m0 1.5h0m0-1h0m0 .5h0m0 .5h0m0-1h0m0-.5h0m0 1h0m0-1h0m0 1.5h0m0-1.5h0m.5 1.5h0m0-1.5h0m0 1h0m0-.5h0m0-.5h0m0 .5h0m0 1h0m0-1h0m0 1h0m0-1.5h0m0 1h0m.5 0h0m0 .5h0m0-.5h0m0-.5h0m0 1h0m0-.5h0m.5-.5h0m0 .5h0m0-1h0m0 1.5h0m0-1.5h0m0 .5h0m0-.5h0m.5 .5h0m0 .5h0m.5 .5h0m0-1h0m0 1h0m0-.5h0m0-1h0m0 1.5h0m0-1h0m0-.5h0m.5 1.5h0m0-1.5h0m0 1.5h0m0-1h0m0 1h0m0-1.5h0m0 .5h0m0 .5h0m0-1h0m0 1h0m.5-1h0m0 1.5h0m0-.5h0m0-1h0m.5 1.5h0m0-.5h0m0-.5h0m0 .5h0m0 .5h0m.5-1.5h0m0 1h0m0-.5h0m.5 1h0m0-.5h0m0-.5h0m.5 .5h0m0-1h0m0 1.5h0m0-1.5h0m0 .5h0m.5 1h0m0-1.5h0m0 1h0m.5 0h0m0-1h0m1 1h0m0 .5h0m0-1h0m.5 .5h0m0 .5h0m.5 0h0m.5 0h0m1 0h0m.5-.5h0m0 .5h0m1-1.5h0m1 1h0m.5 .5h0m.5-1.5h0m.5 1h0m.5 .5h0m-33.5 .5h0m2 1h0m2.5-.5h0m3-.5h0m1 1h0m0 .5h0m0-.5h0m.5 .5h0m0-1.5h0m0 1h0m0-.5h0m.5 1h0m0-1.5h0m.5 1h0m.5 0h0m0-.5h0m0 1h0m0-1.5h0m.5 .5h0m0-.5h0m0 1.5h0m.5-.5h0m0-1h0m0 .5h0m.5 .5h0m.5 0h0m0 .5h0m0-1h0m0 .5h0m0 .5h0m0-.5h0m.5-1h0m0 1.5h0m0-.5h0m0-.5h0m0 .5h0m0-1h0m0 .5h0m.5 0h0m0 1h0m0-.5h0m0-.5h0m0-.5h0m0 1.5h0m.5-1.5h0m0 1h0m0-1h0m0 1.5h0m0-1.5h0m0 1.5h0m0-1h0m0 .5h0m0 .5h0m0-.5h0m.5-.5h0m0 1h0m0-1.5h0m0 .5h0m0 1h0m0-.5h0m0 .5h0m0-1.5h0m.5 0h0m0 1.5h0m0-1h0m0 .5h0m0 .5h0m0-1h0m0 .5h0m0-1h0m0 1.5h0m0-1.5h0m0 1h0m.5-.5h0m0-.5h0m0 .5h0m0 .5h0m0-1h0m0 1h0m0 .5h0m0-.5h0m0 .5h0m0-1.5h0m0 .5h0m0 .5h0m0-1h0m0 .5h0m0 1h0m0-.5h0m.5-.5h0m0-.5h0m0 1.5h0m0-.5h0m0-.5h0m0 1h0m0-1h0m.5 .5h0m0-.5h0m0 .5h0m0 .5h0m0-.5h0m0-.5h0m0 1h0m0-1.5h0m0 1.5h0m0-1h0m0 1h0m0-1.5h0m0 1h0m0-.5h0m.5 0h0m0 1h0m0-1h0m0-.5h0m0 .5h0m0 1h0m0-.5h0m0-.5h0m0-.5h0m0 .5h0m0 1h0m0-1h0m0-.5h0m0 1h0m0-.5h0m0 1h0m0-1.5h0m0 .5h0m0 1h0m.5-1h0m0-.5h0m0 1.5h0m0-1h0m0 1h0m0-.5h0m0-1h0m0 .5h0m0-.5h0m0 1.5h0m0-.5h0m0-.5h0m0 .5h0m.5 0h0m0-.5h0m0-.5h0m0 .5h0m0 1h0m0-1h0m0 1h0m0-1h0m0 1h0m0-.5h0m0-1h0m0 1.5h0m0-1h0m.5 0h0m0-.5h0m0 .5h0m0-.5h0m0 1.5h0m0-1.5h0m0 .5h0m0 1h0m0-1.5h0m0 1.5h0m0-.5h0m0 .5h0m0-1h0m.5 .5h0m0 .5h0m0-1.5h0m0 .5h0m0 .5h0m0 .5h0m0-1.5h0m0 .5h0m0 .5h0m0 .5h0m0-1h0m0 1h0m0-.5h0m0 .5h0m0-1h0m0 1h0m0-1.5h0m0 .5h0m.5 0h0m0-.5h0m0 1.5h0m0-.5h0m0-.5h0m0 1h0m0-1.5h0m0 1.5h0m0-1h0m0 1h0m0-.5h0m0-.5h0m.5 .5h0m0-1h0m0 1h0m0 .5h0m0-1.5h0m0 1h0m0 .5h0m0-.5h0m0-1h0m0 .5h0m0-.5h0m0 1.5h0m0-1.5h0m0 1.5h0m.5-.5h0m0-1h0m0 1.5h0m0-1h0m0-.5h0m0 1h0m0 .5h0m0-1h0m0 1h0m.5-.5h0m0-1h0m0 1h0m0 .5h0m0-.5h0m0-.5h0m0 1h0m0-1h0m0-.5h0m.5 1.5h0m0-1.5h0m.5 1h0m0-1h0m0 1h0m0-.5h0m0 1h0m0-.5h0m0 .5h0m0-1h0m0-.5h0m0 1h0m.5-.5h0m0-.5h0m0 .5h0m0 1h0m0-1.5h0m0 .5h0m0 1h0m.5-1.5h0m0 1h0m0 .5h0m0-1.5h0m0 1.5h0m.5-1.5h0m0 .5h0m0 .5h0m0-.5h0m0 1h0m0-1.5h0m0 .5h0m.5 .5h0m0-1h0m.5 1.5h0m.5-1.5h0m0 1.5h0m0-1.5h0m.5 .5h0m.5-.5h0m0 .5h0m0-.5h0m0 1.5h0m0-1.5h0m0 1h0m.5 .5h0m.5-1.5h0m0 1h0m0 .5h0m.5-.5h0m0 .5h0m0-.5h0m1-.5h0m0 .5h0m.5 .5h0m1.5-.5h0m1 0h0m.5 .5h0m.5-1.5h0m0 1.5h0m.5 0h0m1-.5h0m-29 2.5h0m1 0h0m0-1.5h0m.5 1.5h0m.5 0h0m1-1h0m.5-.5h0m.5 .5h0m0 1h0m0-1h0m.5 .5h0m0-1h0m.5 0h0m.5 1h0m0 .5h0m0-1.5h0m0 1h0m0-.5h0m0 .5h0m0 .5h0m.5-1h0m0 .5h0m.5-.5h0m0 .5h0m0-.5h0m0-.5h0m0 1h0m.5-.5h0m0-.5h0m0 .5h0m0 .5h0m0 .5h0m0-1h0m.5 0h0m0 1h0m0-1.5h0m0 1.5h0m.5-1.5h0m0 1h0m0-1h0m0 1h0m0-1h0m0 1.5h0m0-.5h0m0 .5h0m0-1.5h0m0 1.5h0m0-1.5h0m0 1h0m0 .5h0m.5-1.5h0m0 1.5h0m0-1.5h0m0 .5h0m0-.5h0m0 .5h0m0 1h0m0-.5h0m.5 0h0m0-.5h0m0 .5h0m0-.5h0m0 .5h0m0-.5h0m0-.5h0m0 1.5h0m0-1.5h0m0 1h0m.5-.5h0m0 .5h0m0 .5h0m0-1h0m0-.5h0m0 1h0m0 .5h0m.5-1h0m0-.5h0m0 1.5h0m0-1h0m0-.5h0m0 .5h0m.5 1h0m0-1h0m0-.5h0m0 1h0m0-.5h0m0 .5h0m0-.5h0m0 .5h0m0-.5h0m0-.5h0m0 .5h0m0 .5h0m0-1h0m0 .5h0m.5 .5h0m0-1h0m0 .5h0m0-.5h0m0 1.5h0m0-1h0m0 1h0m0-1.5h0m0 .5h0m0 1h0m0-1h0m.5 0h0m0 1h0m0-.5h0m0 .5h0m0-.5h0m0-.5h0m0-.5h0m0 1.5h0m.5-1h0m0 1h0m0-.5h0m0 .5h0m0-.5h0m0-1h0m0 .5h0m0-.5h0m0 .5h0m0 .5h0m0-.5h0m0 1h0m0-.5h0m0-1h0m0 1h0m0-.5h0m0 .5h0m.5-1h0m0 1.5h0m0-.5h0m0-.5h0m0-.5h0m0 .5h0m0 .5h0m0 .5h0m0-.5h0m0 .5h0m0-1h0m0-.5h0m.5 .5h0m0 1h0m0-1h0m0-.5h0m0 .5h0m0-.5h0m0 .5h0m0 .5h0m0 .5h0m0-1.5h0m0 .5h0m0-.5h0m0 .5h0m0-.5h0m0 1h0m0 .5h0m0-1h0m.5 .5h0m0-1h0m0 .5h0m0 1h0m0-.5h0m0-.5h0m0-.5h0m0 1h0m0-.5h0m0-.5h0m0 .5h0m0-.5h0m0 .5h0m0 1h0m0-1.5h0m.5 1h0m0 .5h0m0-1h0m0-.5h0m0 .5h0m0 .5h0m0 .5h0m0-1.5h0m0 1.5h0m0-.5h0m.5-1h0m0 .5h0m0 1h0m0-1h0m0-.5h0m0 .5h0m0-.5h0m0 1h0m.5 0h0m0-.5h0m0 1h0m0-1h0m0 .5h0m0-1h0m.5 0h0m0 1.5h0m0-1.5h0m0 1.5h0m0-1.5h0m0 1h0m.5 .5h0m0-1h0m0 1h0m0-1h0m0 .5h0m0 .5h0m0-1h0m.5 0h0m0 1h0m0-1.5h0m0 1.5h0m0-1.5h0m0 1h0m0-1h0m.5 0h0m0 1.5h0m0-1.5h0m0 .5h0m0 1h0m0-1.5h0m0 1h0m0-.5h0m0 1h0m.5-1h0m0 .5h0m0-1h0m0 .5h0m0-.5h0m0 1h0m0-.5h0m0 1h0m.5 0h0m0-1h0m0-.5h0m0 .5h0m0 1h0m0-1h0m.5 0h0m0 1h0m0-1.5h0m0 1h0m0-1h0m0 .5h0m0 1h0m0-.5h0m0-1h0m.5 .5h0m0 .5h0m0 .5h0m0-1.5h0m0 1.5h0m0-1.5h0m0 1.5h0m0-.5h0m0-.5h0m0 .5h0m0 .5h0m0-1.5h0m.5 0h0m0 1h0m0-1h0m.5 0h0m.5 0h0m0 1.5h0m.5-.5h0m0 .5h0m0-.5h0m.5 0h0m0-1h0m0 1.5h0m0-.5h0m0 .5h0m.5-.5h0m1-1h0m0 .5h0m0-.5h0m.5 .5h0m0 1h0m.5-.5h0m1 .5h0m.5-1h0m0-.5h0m0 1.5h0m.5-.5h0m.5 .5h0m.5-.5h0m.5-.5h0m0 1h0m.5-1.5h0m.5 .5h0m0 1h0m.5-.5h0m1 .5h0m.5 0h0m.5-1.5h0m1 .5h0m.5 1h0m-32 1.5h0m2 .5h0m1-1.5h0m0 1.5h0m0-1.5h0m0 .5h0m1 .5h0m.5-.5h0m0-.5h0m0 1.5h0m.5-.5h0m0-.5h0m0 1h0m.5-1.5h0m.5 .5h0m0-.5h0m0 .5h0m0-.5h0m.5 .5h0m0 1h0m0-.5h0m.5-1h0m0 .5h0m.5 1h0m0-1.5h0m0 .5h0m0 .5h0m0 .5h0m0-1h0m.5 .5h0m0 .5h0m0-.5h0m0-1h0m0 .5h0m0 .5h0m0-1h0m0 1.5h0m.5-1.5h0m0 1.5h0m0-1h0m0 1h0m0-1.5h0m0 1h0m0 .5h0m.5-1h0m0 .5h0m0 .5h0m0-1h0m0-.5h0m0 1h0m0-.5h0m0-.5h0m.5 1h0m0-1h0m0 .5h0m0 .5h0m0-1h0m0 1h0m.5-.5h0m0 .5h0m0-1h0m0 1h0m0-1h0m.5 1.5h0m0-1h0m0 1h0m0-1.5h0m0 1h0m0-1h0m0 1h0m0-1h0m0 1h0m0 .5h0m0-.5h0m0-.5h0m0 .5h0m.5 0h0m0 .5h0m0-1.5h0m0 .5h0m0 1h0m0-1h0m0-.5h0m0 .5h0m0 .5h0m0-.5h0m.5-.5h0m0 1.5h0m0-1h0m0-.5h0m0 .5h0m.5-.5h0m0 1.5h0m0-1h0m0-.5h0m0 1.5h0m0-.5h0m0-1h0m0 .5h0m.5 0h0m0-.5h0m0 1.5h0m0-1h0m0-.5h0m0 .5h0m.5 .5h0m0-1h0m0 .5h0m0 .5h0m0-1h0m0 1.5h0m0-1h0m0-.5h0m0 1.5h0m0-.5h0m0-1h0m0 .5h0m0 1h0m0-1.5h0m0 1.5h0m0-.5h0m0 .5h0m0-1.5h0m0 1.5h0m0-1.5h0m.5 1h0m0-1h0m0 1h0m0-1h0m0 1.5h0m0-.5h0m0-.5h0m.5 1h0m0-1h0m0-.5h0m0 1.5h0m0-1h0m0 .5h0m0-1h0m0 1.5h0m0-1h0m.5-.5h0m0 1h0m0-.5h0m0 .5h0m0-.5h0m0-.5h0m0 .5h0m0 .5h0m.5 0h0m0-.5h0m0-.5h0m0 .5h0m0-.5h0m0 .5h0m0 1h0m0-1h0m.5-.5h0m0 1h0m0-1h0m0 1.5h0m0-1.5h0m0 1.5h0m0-.5h0m.5 0h0m0-.5h0m0 1h0m0-1.5h0m.5 1h0m0-.5h0m0 .5h0m0-.5h0m.5 .5h0m0-1h0m0 1h0m0-.5h0m0 1h0m.5-1h0m0 1h0m0-.5h0m.5 0h0m0-1h0m0 .5h0m0 1h0m0-1h0m0 .5h0m0-1h0m0 1.5h0m0-1.5h0m0 1.5h0m.5-.5h0m0 .5h0m0-1.5h0m0 .5h0m0 .5h0m.5 .5h0m0-1.5h0m0 .5h0m0 .5h0m0 .5h0m0-1.5h0m0 1.5h0m0-.5h0m.5 0h0m.5 0h0m0 .5h0m.5-.5h0m0 .5h0m.5 0h0m0-.5h0m.5-1h0m0 1h0m0 .5h0m0-1.5h0m0 1h0m.5-.5h0m0 .5h0m0-.5h0m.5 1h0m.5-.5h0m.5 .5h0m0-.5h0m.5-.5h0m.5 .5h0m0-1h0m.5 .5h0m.5-.5h0m0 1.5h0m.5-.5h0m0-1h0m.5 1h0m0-.5h0m.5 0h0m0 .5h0m0-1h0m0 1h0m.5 0h0m0 .5h0m.5-1.5h0m.5 0h0m.5 1h0m0-.5h0m0 1h0m.5-.5h0m0-1h0m0 .5h0m.5-.5h0m0 1.5h0m1-.5h0m.5 .5h0m1 0h0m-31.5 1h0m.5-.5h0m.5 .5h0m1.5-.5h0m0 .5h0m0 1h0m.5-1h0m.5 0h0m.5-.5h0m0 1h0m0-.5h0m.5 .5h0m0-1h0m0 1h0m0-.5h0m.5 0h0m0 .5h0m0-.5h0m.5 1h0m0-.5h0m0 .5h0m0-1h0m0-.5h0m0 1.5h0m0-.5h0m0-.5h0m.5-.5h0m0 .5h0m0 .5h0m.5 .5h0m0-1.5h0m0 1h0m0-1h0m0 1.5h0m0-1.5h0m.5 0h0m0 1.5h0m0-1.5h0m0 1h0m0 .5h0m0-1h0m.5 0h0m.5 0h0m0 1h0m0-1.5h0m0 1.5h0m0-.5h0m0-.5h0m0 .5h0m0-.5h0m0 1h0m.5 0h0m0-1.5h0m0 .5h0m.5 1h0m0-1.5h0m0 1h0m0-1h0m.5 1.5h0m0-1h0m0 1h0m0-1h0m.5-.5h0m0 .5h0m0 1h0m0-1.5h0m.5 1.5h0m0-1.5h0m0 1.5h0m0-1h0m0-.5h0m0 1h0m0-.5h0m.5 1h0m0-1.5h0m0 .5h0m0-.5h0m0 1.5h0m0-1h0m.5-.5h0m0 1h0m0-1h0m0 1h0m0-.5h0m.5-.5h0m0 1.5h0m0-1.5h0m0 .5h0m0 1h0m0-.5h0m0-1h0m.5 1h0m0-1h0m0 .5h0m0 .5h0m.5-1h0m0 .5h0m0-.5h0m0 1h0m0-1h0m0 .5h0m0-.5h0m.5 .5h0m0 .5h0m0-.5h0m0-.5h0m0 .5h0m0-.5h0m.5 0h0m0 1.5h0m0-1h0m0 1h0m0-1.5h0m.5 .5h0m0 .5h0m.5 .5h0m0-1.5h0m0 .5h0m0 1h0m0-.5h0m0-1h0m0 1h0m.5-1h0m0 1h0m0-.5h0m0-.5h0m0 .5h0m.5-.5h0m0 1h0m0 .5h0m0-1.5h0m0 .5h0m0-.5h0m0 1h0m.5 .5h0m0-1.5h0m0 .5h0m0-.5h0m0 1.5h0m0-1.5h0m.5 0h0m0 1.5h0m0-1h0m.5-.5h0m0 .5h0m.5-.5h0m0 .5h0m0 .5h0m0-1h0m0 1.5h0m0-1h0m0-.5h0m.5 1h0m0 .5h0m0-.5h0m0-1h0m.5 .5h0m0-.5h0m0 .5h0m0 1h0m.5-.5h0m0-1h0m.5 1h0m0-1h0m0 1h0m.5 .5h0m0-1.5h0m0 1.5h0m0-.5h0m.5 .5h0m0-1h0m0 1h0m0-.5h0m0-.5h0m.5 0h0m0 1h0m0-.5h0m.5 0h0m.5 .5h0m0-1.5h0m.5 1.5h0m0-.5h0m0-1h0m.5 1h0m0-.5h0m0 1h0m.5-.5h0m0 .5h0m0-1h0m0 1h0m0-1.5h0m.5 1h0m0 .5h0m0-1.5h0m0 1h0m0-1h0m.5 1h0m.5-.5h0m0-.5h0m0 1.5h0m0-1.5h0m.5 1.5h0m.5-1h0m0 1h0m.5-1.5h0m0 1.5h0m0-1.5h0m0 1.5h0m0-.5h0m0 .5h0m.5 0h0m0-.5h0m0-.5h0m0-.5h0m.5 1h0m0-.5h0m0-.5h0m0 1.5h0m.5 0h0m0-1.5h0m0 .5h0m.5 0h0m0 .5h0m0 .5h0m.5 0h0m0-1.5h0m0 .5h0m0-.5h0m0 .5h0m.5 0h0m0-.5h0m0 .5h0m0-.5h0m.5 1h0m0 .5h0m0-.5h0m0 .5h0m0-1.5h0m0 1.5h0m.5-1h0m0 1h0m0-.5h0m0-1h0m0 1h0m0 .5h0m.5 0h0m0-.5h0m0-.5h0m0-.5h0m0 .5h0m.5 1h0m3.5 0h0m-38.5 .5h0m1 0h0m5 1.5h0m0-.5h0m0-.5h0m.5 .5h0m.5-.5h0m0-.5h0m.5 0h0m0 .5h0m.5 1h0m.5-1.5h0m0 1h0m.5-1h0m.5 1h0m0-1h0m.5 .5h0m.5 0h0m0 .5h0m.5 0h0m0-.5h0m0 1h0m.5-1.5h0m0 1h0m0-1h0m.5 0h0m.5 1h0m.5-1h0m0 1h0m0-.5h0m.5 0h0m0 .5h0m0 .5h0m0-1.5h0m.5 0h0m0 1.5h0m0-1h0m0 .5h0m0-1h0m.5 0h0m0 .5h0m.5 .5h0m0-.5h0m0 .5h0m.5-1h0m.5 1.5h0m.5-1.5h0m.5 .5h0m0 .5h0m.5 0h0m.5-1h0m0 .5h0m0-.5h0m.5 0h0m0 .5h0m0-.5h0m.5 0h0m0 1.5h0m0-1.5h0m.5 1.5h0m.5-.5h0m0-.5h0m0-.5h0m0 1h0m0-.5h0m.5 .5h0m0 .5h0m0-1h0m0-.5h0m0 .5h0m.5 .5h0m.5-1h0m0 .5h0m.5 1h0m0-1.5h0m0 .5h0m.5-.5h0m0 1.5h0m0-1h0m0 1h0m.5 0h0m0-1.5h0m0 1h0m0 .5h0m0-.5h0m0-1h0m.5 0h0m.5 1h0m0-1h0m.5 0h0m0 .5h0m0-.5h0m.5 .5h0m0 .5h0m.5 .5h0m0-1.5h0m0 1h0m0-1h0m.5 .5h0m.5-.5h0m0 .5h0m.5 .5h0m0-.5h0m0 1h0m.5-1h0m0 .5h0m.5 .5h0m0-1h0m0-.5h0m0 1h0m.5 .5h0m0-1h0m0 .5h0m.5 .5h0m0-1.5h0m0 1.5h0m0-1.5h0m0 1h0m0 .5h0m.5-.5h0m0-1h0m0 1h0m.5 .5h0m0-1.5h0m0 1.5h0m0-1.5h0m0 1h0m0 .5h0m0-1h0m0 1h0m0-1.5h0m.5 .5h0m0 1h0m0-1h0m0-.5h0m0 1.5h0m0-1.5h0m.5 .5h0m0 1h0m0-.5h0m0-.5h0m0 .5h0m0 .5h0m0-.5h0m.5 0h0m0-1h0m0 .5h0m0 .5h0m0-.5h0m0 1h0m0-1.5h0m.5 1.5h0m0-1h0m0-.5h0m0 .5h0m0 1h0m0-1h0m0 1h0m.5-.5h0m0-1h0m0 .5h0m0 1h0m0-1.5h0m0 1.5h0m0-1.5h0m.5 .5h0m0-.5h0m0 1h0m0-.5h0m0 .5h0m.5 .5h0m0-1h0m0 .5h0m0-1h0m.5 .5h0m0 .5h0m0 .5h0m.5 0h0m0-1.5h0m.5 0h0m0 1h0m0-.5h0m0 1h0m.5 0h0m0-1.5h0m0 1.5h0m.5-1h0m.5 0h0m.5 .5h0m.5 0h0m.5-.5h0m0-.5h0m1.5 1h0m-35 1.5h0m3 .5h0m0-.5h0m1-.5h0m.5 .5h0m.5 0h0m0-.5h0m0 1.5h0m.5-.5h0m.5-1h0m.5 1h0m1-1h0m0 1.5h0m0-.5h0m1.5-.5h0m.5 .5h0m1-1h0m0 1h0m.5-1h0m.5 .5h0m0 .5h0m.5-1h0m.5 .5h0m1.5-.5h0m.5 0h0m.5 .5h0m0 1h0m0-1.5h0m.5 0h0m.5 1.5h0m0-1h0m0-.5h0m.5 0h0m0 1.5h0m.5-1h0m.5 1h0m0-1h0m.5 1h0m.5-1h0m0-.5h0m0 1h0m0-1h0m.5 1h0m0 .5h0m.5-1.5h0m0 1h0m0-1h0m.5 .5h0m.5 1h0m0-1.5h0m0 1h0m0-1h0m.5 1h0m0-1h0m0 .5h0m.5 0h0m0 .5h0m.5 .5h0m0-1.5h0m0 1h0m.5-1h0m0 1.5h0m0-1h0m0 .5h0m0-1h0m0 1h0m.5-.5h0m.5-.5h0m0 1.5h0m0-1.5h0m0 1h0m0 .5h0m0-1.5h0m0 .5h0m0 .5h0m.5 0h0m0-1h0m0 1.5h0m0-.5h0m.5-1h0m0 1.5h0m0-1.5h0m0 .5h0m.5 1h0m0-.5h0m0-1h0m0 1.5h0m0-.5h0m0 .5h0m0-1.5h0m0 .5h0m0 .5h0m.5-.5h0m0 1h0m0-.5h0m0-.5h0m0 1h0m0-.5h0m0-.5h0m0 .5h0m.5-1h0m0 .5h0m0-.5h0m0 .5h0m0 .5h0m0-1h0m0 .5h0m0-.5h0m0 1.5h0m0-.5h0m0-.5h0m0 .5h0m0 .5h0m0-1.5h0m0 .5h0m0 1h0m0-1.5h0m0 .5h0m0-.5h0m0 1.5h0m0-.5h0m.5 .5h0m0-1h0m0 .5h0m0-1h0m0 1h0m0-1h0m0 .5h0m.5 0h0m0-.5h0m0 1.5h0m0-1h0m0 1h0m0-1.5h0m0 1.5h0m0-1.5h0m0 1h0m0-1h0m0 1h0m0-1h0m.5 0h0m0 1.5h0m0-1h0m0 .5h0m0-.5h0m0 .5h0m.5-1h0m0 .5h0m0 1h0m0-.5h0m0 .5h0m0-1.5h0m0 1h0m0-1h0m0 1.5h0m0-1.5h0m0 1h0m0-.5h0m0 1h0m0-1.5h0m.5 0h0m0 1.5h0m0-1.5h0m0 1.5h0m0-1.5h0m0 1h0m0-1h0m0 1h0m.5 0h0m0 .5h0m0-1.5h0m0 1.5h0m0-.5h0m0-1h0m0 1.5h0m0-1h0m0 1h0m0-1h0m0-.5h0m0 1h0m0 .5h0m.5-.5h0m0-1h0m0 1.5h0m0-1.5h0m0 1.5h0m.5-1.5h0m0 .5h0m0-.5h0m0 1.5h0m0-1h0m.5 1h0m0-1h0m0 1h0m.5 0h0m0-1.5h0m0 .5h0m0 1h0m0-1.5h0m0 1h0m.5 0h0m0 .5h0m.5-.5h0m0 .5h0m0-.5h0m.5 0h0m0-.5h0m.5 0h0m2-.5h0m0 1h0m.5 0h0m-33.5 2h0m2-1h0m1.5 0h0m.5 1h0m3-1h0m0 1h0m.5-1h0m2.5 .5h0m2.5-.5h0m1.5 1h0m2-.5h0m0-.5h0m.5 0h0m0 .5h0m.5 0h0m.5 .5h0m0-.5h0m.5 0h0m0 1h0m.5-1.5h0m0 .5h0m.5 0h0m0 1h0m0-1.5h0m0 .5h0m.5-.5h0m0 1h0m0-.5h0m.5-.5h0m0 .5h0m0 1h0m.5-1h0m0 .5h0m0-.5h0m0 1h0m0-1h0m.5 0h0m0 .5h0m0-1h0m0 1h0m0 .5h0m0-.5h0m.5 0h0m0-.5h0m0-.5h0m.5 .5h0m0 1h0m0-.5h0m0-1h0m0 1.5h0m0-1h0m0-.5h0m0 1.5h0m0-1.5h0m.5 .5h0m0 1h0m0-.5h0m.5-.5h0m0 .5h0m0-.5h0m0 1h0m0-1h0m0 1h0m0-1.5h0m0 .5h0m0 1h0m0-1.5h0m0 1h0m.5-.5h0m0-.5h0m0 1.5h0m0-1h0m0 .5h0m0 .5h0m0-.5h0m0-.5h0m0-.5h0m0 1.5h0m0-1.5h0m.5 0h0m0 1.5h0m0-1h0m0-.5h0m0 1.5h0m0-.5h0m0-1h0m0 1.5h0m.5-.5h0m0 .5h0m0-1h0m0 1h0m0-1.5h0m0 1h0m0-1h0m0 1.5h0m0-.5h0m.5 .5h0m0-.5h0m0 .5h0m0-1h0m0 1h0m0-1h0m0 .5h0m0 .5h0m0-1.5h0m0 .5h0m0 1h0m.5-.5h0m0-.5h0m0 .5h0m0-.5h0m0 .5h0m0-1h0m0 .5h0m.5 0h0m0 1h0m0-.5h0m0 .5h0m0-1.5h0m0 1.5h0m0-1.5h0m0 1.5h0m.5-1.5h0m0 1h0m0-.5h0m0 1h0m0-1h0m0-.5h0m0 .5h0m.5 1h0m0-1h0m0 .5h0m0-.5h0m0-.5h0m0 1.5h0m0-1h0m0-.5h0m0 1h0m.5 0h0m0-1h0m0 .5h0m0 .5h0m0 .5h0m.5-1h0m0-.5h0m0 1.5h0m0-1h0m0-.5h0m0 1h0m0 .5h0m0-1h0m0-.5h0m0 .5h0m.5-.5h0m0 .5h0m0 1h0m0-.5h0m0 .5h0m0-1.5h0m.5 0h0m0 1h0m0-1h0m0 .5h0m0 1h0m.5-1.5h0m0 .5h0m0 1h0m.5-.5h0m0-.5h0m0-.5h0m.5 0h0m0 .5h0m0-.5h0m0 1h0m.5-.5h0m0 .5h0m0 .5h0m-26 .5h0m10 0h0m4 1.5h0m.5-1h0m.5-.5h0m.5 1h0m0-1h0m0 .5h0m.5 0h0m0 1h0m0-1.5h0m0 1h0m.5 0h0m0-.5h0m0-.5h0m0 1.5h0m0-.5h0m0-.5h0m.5 0h0m0-.5h0m0 1.5h0m0-1h0m0-.5h0m.5 .5h0m0 .5h0m0-.5h0m0-.5h0m0 1h0m0-1h0m0 1.5h0m0-1h0m.5 1h0m0-.5h0m0-1h0m0 1h0m.5 .5h0m0-1.5h0m0 1.5h0m0-1h0m0 1h0m0-1h0m.5 .5h0m0-.5h0m0 .5h0m0-1h0m0 1.5h0m0-1h0m0 1h0m0-.5h0m.5-1h0m0 .5h0m0 .5h0m0-1h0m.5 1h0m0 .5h0m0-1h0m0-.5h0m0 1.5h0m0-.5h0m0-1h0m0 1h0m0 .5h0m0-1h0m0 .5h0m0-.5h0m0 .5h0m.5-.5h0m0 1h0m0-1h0m0 1h0m0-1.5h0m0 1h0m0 .5h0m0-1h0m0-.5h0m0 1h0m0-1h0m0 .5h0m0-.5h0m.5 1h0m0-.5h0m0 1h0m0-1.5h0m0 1.5h0m0-1.5h0m0 1h0m0-1h0m.5 1.5h0m0-1.5h0m0 .5h0m0-.5h0m0 .5h0m0 .5h0m0-.5h0m0 .5h0m0-1h0m0 1.5h0m0-1.5h0m0 1h0m.5 0h0m0-1h0m0 1.5h0m0-1.5h0m0 1h0m0-1h0m0 1.5h0m0-1h0m0 1h0m0-1h0m0-.5h0m0 1.5h0m0-1h0m.5 0h0m0 .5h0m0-1h0m0 1h0m0-1h0m0 1h0m0-.5h0m0 1h0m0-1h0m0 .5h0m.5-.5h0m0-.5h0m0 1.5h0m0-1h0m0 .5h0m0-.5h0m0 1h0m0-1.5h0m0 1h0m0-1h0m0 1.5h0m0-1h0m0 1h0m.5-.5h0m0-1h0m0 1h0m0 .5h0m0-1h0m0-.5h0m.5 1.5h0m0-.5h0m0 .5h0m0-.5h0m0 .5h0m0-.5h0m0 .5h0m.5-.5h0m0 .5h0m0-1h0m0 1h0m0-1.5h0m.5 .5h0m0 .5h0m0 .5h0m.5-.5h0m0 .5h0m0-1h0m0 1h0m0-1.5h0m.5 1.5h0m0-1.5h0m0 .5h0m.5 1h0m0-1.5h0m0 1.5h0m.5-.5h0m.5 .5h0m2-.5h0m-16.5 2.5h0m1.5-1h0m.5 .5h0m0 .5h0m.5-1.5h0m0 .5h0m0 1h0m0-1h0m.5 0h0m.5 0h0m0-.5h0m.5 1h0m0 .5h0m0-1h0m0 1h0m0-1h0m.5 .5h0m0-1h0m0 .5h0m0-.5h0m.5 0h0m0 1h0m0-1h0m0 1h0m0 .5h0m0-1h0m.5 1h0m0-1h0m0-.5h0m.5 1h0m0-.5h0m0-.5h0m0 1h0m.5-1h0m0 1.5h0m0-.5h0m0-.5h0m.5 0h0m0-.5h0m0 .5h0m0 1h0m0-.5h0m0 .5h0m0-1h0m0 .5h0m0-.5h0m0-.5h0m0 1.5h0m.5-.5h0m0-.5h0m0-.5h0m0 1.5h0m0-1.5h0m0 1.5h0m0-.5h0m.5-1h0m0 1.5h0m0-1h0m0 1h0m.5-.5h0m0-.5h0m0 .5h0m0 .5h0m0-1h0m0-.5h0m0 .5h0m0 .5h0m.5-1h0m0 .5h0m0 1h0m0-1h0m0 .5h0m0-.5h0m0-.5h0m0 .5h0m0-.5h0m0 1h0m.5 0h0m0-.5h0m0 1h0m0-.5h0m0-.5h0m0 .5h0m0-1h0m0 1.5h0m0-.5h0m0-.5h0m0 .5h0m.5-.5h0m0 1h0m.5-1.5h0m0 .5h0m0 .5h0m.5 .5h0m0-.5h0m0-.5h0m0 .5h0m0-.5h0m0 1h0m0-.5h0m.5 0h0m0 .5h0m0-1h0m0 .5h0m.5 .5h0m0-.5h0m0-.5h0m0-.5h0m.5 .5h0m0-.5h0m.5 1h0m0-1h0m.5 .5h0m1 .5h0m2.5 .5h0m-16.5 .5h0m0 .5h0m2-.5h0m1 0h0m0 .5h0m0-.5h0m0 1h0m.5 0h0m.5 .5h0m.5-1.5h0m0 .5h0m.5 1h0m0-.5h0m0-1h0m0 .5h0m0 1h0m.5-1h0m0 .5h0m0-1h0m0 1h0m.5-.5h0m0-.5h0m0 .5h0m0-.5h0m0 1.5h0m.5-1.5h0m.5 1h0m0-1h0m0 1.5h0m0-.5h0m0-.5h0m0 .5h0m0-1h0m0 .5h0m.5-.5h0m0 1.5h0m0-1.5h0m0 1.5h0m0-1h0m0-.5h0m0 .5h0m0-.5h0m0 1.5h0m0-1.5h0m0 1.5h0m.5 0h0m0-.5h0m0-.5h0m0-.5h0m0 .5h0m.5-.5h0m0 1.5h0m0-.5h0m0-.5h0m0-.5h0m.5 0h0m0 1h0m0-.5h0m0-.5h0m0 1h0m.5 .5h0m0-1h0m0 .5h0m0-1h0m.5 0h0m0 .5h0m0 .5h0m0-1h0m0 1h0m0 .5h0m0-1.5h0m0 .5h0m.5-.5h0m0 1h0m0 .5h0m0-.5h0m0-1h0m.5 .5h0m0 1h0m0-.5h0m0-1h0m0 1h0m.5-.5h0m0-.5h0m.5 .5h0m0 1h0m1-1.5h0m.5 1h0m.5-1h0m0 1.5h0m0-.5h0m.5 .5h0m0-1.5h0m1.5 1h0m1-.5h0m-16.5 2.5h0m3-1h0m.5 1.5h0m0-.5h0m.5-1h0m0 1h0m.5-1h0m0 1.5h0m0-1.5h0m0 .5h0m0-.5h0m.5 1.5h0m0-1.5h0m1 .5h0m0 1h0m0-1.5h0m.5 .5h0m0 .5h0m0-1h0m.5 1.5h0m0-.5h0m.5-.5h0m0-.5h0m0 1.5h0m.5-.5h0m0 .5h0m.5-1.5h0m0 1h0m.5-.5h0m0 .5h0m0 .5h0m0-1h0m0 1h0m.5-1.5h0m0 .5h0m.5-.5h0m0 1h0m.5 .5h0m0-1h0m0 .5h0m.5-1h0m0 .5h0m.5 1h0m0-1.5h0m.5 .5h0m.5 0h0m.5 0h0m1 1h0m-8 .5h0" stroke="#000" stroke-width="0.45" stroke-linecap="square" fill="none" filter="url(#f12_70)"/>
<rect x="303.25" y="546.5" width="84.75" height="75.89999999999998" fill="none" stroke="#333" stroke-width="0.8"/>
<line x1="303.25" y1="622.4" x2="388" y2="622.4" stroke="#000" stroke-width="1.0"/>
<rect x="305" y="571.75" width="35.75" height="20.25" fill="none" stroke="#222" stroke-width="0.8"/>
<text x="316.8" y="564.3" font-size="5" fill="#222">0.23</text>
<line x1="301.95" y1="551" x2="303.25" y2="551" stroke="#000" stroke-width="0.5"/>
<line x1="301.95" y1="561" x2="303.25" y2="561" stroke="#000" stroke-width="0.5"/>
<line x1="301.95" y1="571" x2="303.25" y2="571" stroke="#000" stroke-width="0.5"/>
<line x1="301.95" y1="581" x2="303.25" y2="581" stroke="#000" stroke-width="0.5"/>
<line x1="301.95" y1="591" x2="303.25" y2="591" stroke="#000" stroke-width="0.5"/>
<line x1="301.95" y1="601" x2="303.25" y2="601" stroke="#000" stroke-width="0.5"/>
<line x1="301.95" y1="611" x2="303.25" y2="611" stroke="#000" stroke-width="0.5"/>
<line x1="308" y1="622.4" x2="308" y2="623.6999999999999" stroke="#000" stroke-width="0.5"/>
<line x1="315" y1="622.4" x2="315" y2="623.6999999999999" stroke="#000" stroke-width="0.5"/>
<line x1="323" y1="622.4" x2="323" y2="623.6999999999999" stroke="#000" stroke-width="0.5"/>
<line x1="331" y1="622.4" x2="331" y2="623.6999999999999" stroke="#000" stroke-width="0.5"/>
<line x1="339" y1="622.4" x2="339" y2="623.6999999999999" stroke="#000" stroke-width="0.5"/>
<line x1="347" y1="622.4" x2="347" y2="623.6999999999999" stroke="#000" stroke-width="0.5"/>
<line x1="355" y1="622.4" x2="355" y2="623.6999999999999" stroke="#000" stroke-width="0.5"/>
<line x1="363" y1="622.4" x2="363" y2="623.6999999999999" stroke="#000" stroke-width="0.5"/>
<line x1="371" y1="622.4" x2="371" y2="623.6999999999999" stroke="#000" stroke-width="0.5"/>
<line x1="379" y1="622.4" x2="379" y2="623.6999999999999" stroke="#000" stroke-width="0.5"/>
<text transform="translate(286.3,625) rotate(-90)" font-size="10" textLength="22.5" lengthAdjust="spacingAndGlyphs" stroke="#000" stroke-width="0.2">CD34</text>
<path d="M290.75,585.5 L290.75,634.5 L348.25,634.5" fill="none" stroke="#000" stroke-width="2.2" stroke-linejoin="miter"/>
<path d="M285.75,590.0 L290.75,583.5 L295.75,590.0" fill="none" stroke="#000" stroke-width="2.2" stroke-linejoin="miter" stroke-linecap="butt"/>
<path d="M343.75,629.5 L350.25,634.5 L343.75,639.5" fill="none" stroke="#000" stroke-width="2.2" stroke-linejoin="miter" stroke-linecap="butt"/>
<text x="308.8" y="645.8" font-size="10" textLength="22" lengthAdjust="spacingAndGlyphs" stroke="#000" stroke-width="0.2">CD38</text>
<path d="M482.5 467.5h0m8.5 2h0m-25.5 1h0m4.5 0h0m8.5-.5h0m1 .5h0m2 1h0m4.5 0h0m11 0h0m1-1.5h0m-44 2h0m17.5 1h0m1-.5h0m2.5 0h0m0-.5h0m1.5 .5h0m2 1h0m1-.5h0m.5 .5h0m0-.5h0m0 .5h0m.5-1.5h0m2 1h0m0 .5h0m1.5 0h0m2.5-.5h0m0 .5h0m1 0h0m2-1.5h0m12.5 1h0m-66 1.5h0m22 .5h0m3-.5h0m4 .5h0m2 .5h0m3.5 0h0m4.5-1.5h0m5.5 1h0m.5 0h0m0-1h0m1 0h0m.5 .5h0m.5 0h0m.5 1h0m.5-1.5h0m.5 1h0m.5-1h0m5.5 0h0m.5 .5h0m1.5 1h0m-49 1h0m20.5-.5h0m8 .5h0m2 0h0m.5-.5h0m1 0h0m2.5 1h0m4 .5h0m1.5-1.5h0m1.5 1.5h0m2.5-1h0m4.5 .5h0m-60 1h0m35.5 0h0m2 1.5h0m.5-1h0m1 0h0m.5-.5h0m2 1.5h0m.5 0h0m4 0h0m1-.5h0m.5-.5h0m.5 0h0m.5 .5h0m7-1h0m5 0h0m0 1.5h0m-60.5 .5h0m8.5 1h0m16.5-.5h0m8.5 0h0m13.5 0h0m4.5 .5h0m7.5 0h0m-43 2.5h0m22-1.5h0m1 1.5h0m12-.5h0m7-1h0m1 1h0m-37.5 1.5h0m23 .5h0m4.5-1h0m4 .5h0m-24.5 1.5h0m10.5 1.5h0m4.5-1h0m4.5-.5h0m-17 3h0m-23.5 1.5h0m12-.5h0m23.5 .5h0m-13.5 1.5h0m11.5 1.5h0m5-1.5h0m-27 3h0m32 0h0m3-.5h0m11 .5h0m-22.5 2h0m13.5 0h0m-44 2h0m36.5-.5h0m11-.5h0m2.5 0h0" stroke="#000" stroke-width="0.6" stroke-linecap="square" fill="none" opacity="0.3"/>
<line x1="423.25" y1="428.75" x2="510" y2="428.75" stroke="#444" stroke-width="0.7"/>
<line x1="423.25" y1="501.75" x2="510" y2="501.75" stroke="#444" stroke-width="0.7"/>
<line x1="423.25" y1="428.75" x2="423.25" y2="501.75" stroke="#444" stroke-width="0.7"/>
<line x1="510" y1="428.75" x2="510" y2="501.75" stroke="#444" stroke-width="0.7"/>
<line x1="463" y1="428.75" x2="463" y2="501.75" stroke="#444" stroke-width="0.7"/>
<line x1="423.25" y1="468" x2="510" y2="468" stroke="#444" stroke-width="0.7"/>
<line x1="423.25" y1="501.75" x2="510" y2="501.75" stroke="#222" stroke-width="0.9"/>
<line x1="423.25" y1="428.75" x2="423.25" y2="501.75" stroke="#222" stroke-width="0.9"/>
<line x1="421.95" y1="436" x2="423.25" y2="436" stroke="#000" stroke-width="0.5"/>
<line x1="421.95" y1="447" x2="423.25" y2="447" stroke="#000" stroke-width="0.5"/>
<line x1="421.95" y1="457" x2="423.25" y2="457" stroke="#000" stroke-width="0.5"/>
<line x1="421.95" y1="470" x2="423.25" y2="470" stroke="#000" stroke-width="0.5"/>
<line x1="421.95" y1="480" x2="423.25" y2="480" stroke="#000" stroke-width="0.5"/>
<line x1="421.95" y1="490" x2="423.25" y2="490" stroke="#000" stroke-width="0.5"/>
<line x1="421.95" y1="497" x2="423.25" y2="497" stroke="#000" stroke-width="0.5"/>
<line x1="428" y1="501.75" x2="428" y2="503.05" stroke="#000" stroke-width="0.5"/>
<line x1="432" y1="501.75" x2="432" y2="503.05" stroke="#000" stroke-width="0.5"/>
<line x1="440" y1="501.75" x2="440" y2="503.05" stroke="#000" stroke-width="0.5"/>
<line x1="450" y1="501.75" x2="450" y2="503.05" stroke="#000" stroke-width="0.5"/>
<line x1="463" y1="501.75" x2="463" y2="503.05" stroke="#000" stroke-width="0.5"/>
<line x1="470" y1="501.75" x2="470" y2="503.05" stroke="#000" stroke-width="0.5"/>
<line x1="480" y1="501.75" x2="480" y2="503.05" stroke="#000" stroke-width="0.5"/>
<line x1="490" y1="501.75" x2="490" y2="503.05" stroke="#000" stroke-width="0.5"/>
<line x1="500" y1="501.75" x2="500" y2="503.05" stroke="#000" stroke-width="0.5"/>
<text x="424.8" y="434.2" font-size="5.5" fill="#222">0</text>
<text x="509.2" y="434.2" font-size="5.5" text-anchor="end" fill="#222">0</text>
<text x="425.5" y="500.6" font-size="5.5" fill="#222">26.5</text>
<text x="509.5" y="500.6" font-size="5.5" text-anchor="end" fill="#222">73.5</text>
<path d="M490 585h0m-6 1.5h0m-33.5 2h0m30-.5h0m3.5 0h0m4 1.5h0m4-1h0m1.5 1h0m16 0h0m-59 1h0m2 0h0m26 1h0m2-1h0m1.5 1h0m3-.5h0m2 0h0m1.5 0h0m1-1h0m5 .5h0m7 .5h0m4.5-1h0m-25.5 3.5h0m3.5-1h0m1 .5h0m1 0h0m1.5 .5h0m1.5-1.5h0m-6.5 2h0m1 1.5h0m1 0h0m1-1.5h0m2 .5h0m1 .5h0m.5-.5h0m2.5-.5h0m5 1.5h0m-61.5 2h0m40.5-1h0m1 0h0m5.5 1h0m3.5-.5h0m.5 .5h0m.5-.5h0m2 0h0m.5-1h0m1 1.5h0m2-1h0m3.5 0h0m.5-.5h0m-36 2h0m19 0h0m3 1h0m1.5 .5h0m.5-.5h0m.5-1h0m2 1h0m1 0h0m1-.5h0m-12.5 2h0m2.5 .5h0m.5 .5h0m4-.5h0m3-1h0m2 .5h0m2-.5h0m3 .5h0m.5 0h0m-18 2.5h0m6 0h0m2.5-.5h0m-11.5 1.5h0m0 3h0m.5 0h0m27 .5h0m-56 1h0m25 1.5h0m36.5 1h0m-66 2.5h0m29.5 0h0m-29 1h0m17 .5h0m2 .5h0m-13.5 2h0" stroke="#000" stroke-width="0.6" stroke-linecap="square" fill="none" opacity="0.3"/>
<line x1="429.5" y1="545.75" x2="515" y2="545.75" stroke="#444" stroke-width="0.7"/>
<line x1="429.5" y1="621.25" x2="515" y2="621.25" stroke="#444" stroke-width="0.7"/>
<line x1="429.5" y1="545.75" x2="429.5" y2="621.25" stroke="#444" stroke-width="0.7"/>
<line x1="515" y1="545.75" x2="515" y2="621.25" stroke="#444" stroke-width="0.7"/>
<line x1="468.75" y1="545.75" x2="468.75" y2="621.25" stroke="#444" stroke-width="0.7"/>
<line x1="429.5" y1="586.25" x2="515" y2="586.25" stroke="#444" stroke-width="0.7"/>
<line x1="429.5" y1="621.25" x2="515" y2="621.25" stroke="#222" stroke-width="0.9"/>
<line x1="429.5" y1="545.75" x2="429.5" y2="621.25" stroke="#222" stroke-width="0.9"/>
<line x1="428.2" y1="553" x2="429.5" y2="553" stroke="#000" stroke-width="0.5"/>
<line x1="428.2" y1="563" x2="429.5" y2="563" stroke="#000" stroke-width="0.5"/>
<line x1="428.2" y1="573" x2="429.5" y2="573" stroke="#000" stroke-width="0.5"/>
<line x1="428.2" y1="590" x2="429.5" y2="590" stroke="#000" stroke-width="0.5"/>
<line x1="428.2" y1="600" x2="429.5" y2="600" stroke="#000" stroke-width="0.5"/>
<line x1="428.2" y1="610" x2="429.5" y2="610" stroke="#000" stroke-width="0.5"/>
<line x1="428.2" y1="617" x2="429.5" y2="617" stroke="#000" stroke-width="0.5"/>
<line x1="433" y1="621.25" x2="433" y2="622.55" stroke="#000" stroke-width="0.5"/>
<line x1="438" y1="621.25" x2="438" y2="622.55" stroke="#000" stroke-width="0.5"/>
<line x1="445" y1="621.25" x2="445" y2="622.55" stroke="#000" stroke-width="0.5"/>
<line x1="455" y1="621.25" x2="455" y2="622.55" stroke="#000" stroke-width="0.5"/>
<line x1="468" y1="621.25" x2="468" y2="622.55" stroke="#000" stroke-width="0.5"/>
<line x1="476" y1="621.25" x2="476" y2="622.55" stroke="#000" stroke-width="0.5"/>
<line x1="486" y1="621.25" x2="486" y2="622.55" stroke="#000" stroke-width="0.5"/>
<line x1="496" y1="621.25" x2="496" y2="622.55" stroke="#000" stroke-width="0.5"/>
<line x1="506" y1="621.25" x2="506" y2="622.55" stroke="#000" stroke-width="0.5"/>
<text x="430.8" y="551" font-size="5.5" fill="#222">0</text>
<text x="514.2" y="551" font-size="5.5" text-anchor="end" fill="#222">3.39</text>
<text x="431" y="619.5" font-size="5.5" fill="#222">11.9</text>
<text x="514.2" y="619.5" font-size="5.5" text-anchor="end" fill="#222">84.7</text>
<text transform="translate(412.5,627.5) rotate(-90)" font-size="10" textLength="27.5" lengthAdjust="spacingAndGlyphs" stroke="#000" stroke-width="0.2">CD133</text>
<path d="M417.5,585 L417.5,635 L473.25,635" fill="none" stroke="#000" stroke-width="2.2" stroke-linejoin="miter"/>
<path d="M412.5,589.5 L417.5,583 L422.5,589.5" fill="none" stroke="#000" stroke-width="2.2" stroke-linejoin="miter" stroke-linecap="butt"/>
<path d="M468.75,630 L475.25,635 L468.75,640" fill="none" stroke="#000" stroke-width="2.2" stroke-linejoin="miter" stroke-linecap="butt"/>
<text x="431.25" y="646.3" font-size="10" textLength="20" lengthAdjust="spacingAndGlyphs" stroke="#000" stroke-width="0.2">c-KIT</text>
</svg></body></html>
